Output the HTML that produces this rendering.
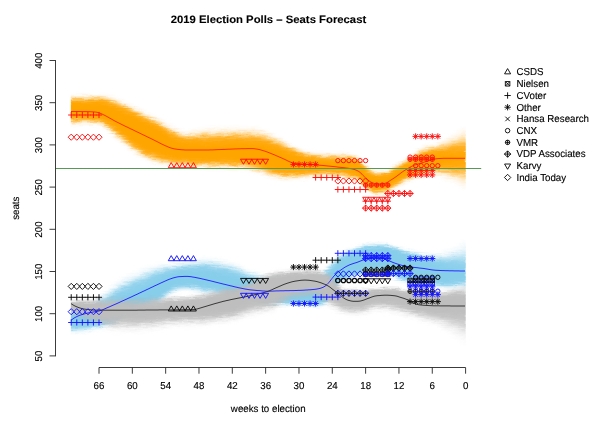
<!DOCTYPE html><html><head><meta charset="utf-8"><title>2019 Election Polls</title><style>html,body{margin:0;padding:0;background:#fff}svg{display:block}</style></head><body><svg width="600" height="430" viewBox="0 0 600 430" font-family="'Liberation Sans', Arial, Helvetica, sans-serif"><defs><filter id="bl" x="-5%" y="-20%" width="110%" height="140%" color-interpolation-filters="sRGB"><feGaussianBlur in="SourceGraphic" stdDeviation="0.8" result="b"/><feTurbulence type="fractalNoise" baseFrequency="0.1 0.6" numOctaves="2" seed="7" result="n"/><feDisplacementMap in="b" in2="n" scale="5" xChannelSelector="R" yChannelSelector="G"/></filter><clipPath id="cp"><rect x="70.8" y="40" width="395" height="320"/></clipPath></defs><rect width="600" height="430" fill="#fff"/><g clip-path="url(#cp)"><g filter="url(#bl)"><g fill="#87ceeb"><path d="M69 308.5L71 308.5L73 308.3L75 308L77 307.4L79 306.7L81 306L83 305.2L85 304.5L87 303.6L89 302.4L91 301.1L93 299.6L95 298.1L97 296.5L99 295L101 293.4L103 291.7L105 290L107 288.3L109 286.7L111 284.9L113 283.2L115 281.5L117 280.1L119 278.8L121 277.6L123 276.5L125 275.5L127 274.5L129 273.5L131 272.6L133 271.6L135 270.7L137 269.8L139 268.9L141 268L143 267.1L145 266.3L147 265.5L149 264.8L151 264.2L153 263.7L155 263.3L157 263L159 262.9L161 263L163 263L165 263L167 262.8L169 262.6L171 262.4L173 262.2L175 262L177 261.7L179 261.3L181 261L183 260.7L185 260.4L187 260.2L189 259.8L191 259.4L193 258.9L195 258.4L197 257.9L199 257.5L201 257.1L203 256.8L205 256.7L207 256.7L209 256.7L211 256.8L213 257L215 257.2L217 257.5L219 257.8L221 258.2L223 258.5L225 258.9L227 259.4L229 259.9L231 260.4L233 260.9L235 261.5L237 262.3L239 263.2L241 264.2L243 265.4L245 266.5L247 267.5L249 268.5L251 269.4L253 270.3L255 271.1L257 271.8L259 272.4L261 273L263 273.6L265 274.1L267 274.5L269 274.8L271 274.9L273 275L275 275L277 274.9L279 274.9L281 274.8L283 274.7L285 274.6L287 274.6L289 274.5L291 274.4L293 274.4L295 274.3L297 274.3L299 274.2L301 274.2L303 274.1L305 274L307 273.9L309 273.7L311 273.5L313 273.3L315 273L317 272.7L319 272L321 270.9L323 269.3L325 267.3L327 264.9L329 262.4L331 260L333 257.8L335 255.6L337 253.6L339 252L341 250.7L343 249.7L345 248.9L347 248.2L349 247.5L351 246.8L353 246.2L355 245.5L357 245L359 244.4L361 243.9L363 243.4L365 243L367 242.6L369 242.3L371 242.1L373 241.8L375 241.6L377 241.5L379 241.4L381 241.5L383 241.8L385 242.1L387 242.5L389 242.8L391 243.3L393 244L395 244.7L397 245.5L399 246.1L401 246.7L403 247.3L405 247.9L407 248.4L409 248.9L411 249.4L413 249.8L415 250.2L417 250.5L419 250.9L421 251.1L423 251.4L425 251.6L427 251.7L429 251.9L431 252L433 252L435 252L437 251.9L439 251.6L441 251.2L443 250.6L445 250L447 249.3L449 248.5L451 247.7L453 246.8L455 245.9L457 244.8L459 243.5L461 241.9L463 240.4L465 239.3L467 239.1L467 290.4L465 290.3L463 290L461 289.7L459 289.5L457 289.5L455 289.6L453 289.7L451 289.8L449 289.9L447 289.8L445 289.7L443 289.5L441 289.3L439 289L437 288.8L435 288.6L433 288.4L431 288.3L429 288.1L427 287.9L425 287.6L423 287.4L421 287.1L419 286.9L417 286.6L415 286.3L413 286.1L411 285.8L409 285.4L407 285L405 284.5L403 283.9L401 283.3L399 282.7L397 282L395 281.2L393 280.3L391 279.4L389 278.5L387 277.5L385 276.5L383 275.5L381 274.9L379 274.6L377 274.5L375 274.6L373 274.7L371 274.8L369 275.1L367 275.5L365 276L363 276.7L361 277.4L359 278.1L357 278.7L355 279.3L353 279.8L351 280.4L349 281.1L347 281.7L345 282.3L343 283L341 284.1L339 285.8L337 288.9L335 292.9L333 297.2L331 300.8L329 303.3L327 304.9L325 306L323 306.8L321 307.5L319 307.9L317 308L315 308L313 308L311 308L309 308L307 308L305 308L303 308L301 307.9L299 307.8L297 307.6L295 307.5L293 307.4L291 307.2L289 307.1L287 307L285 306.9L283 306.9L281 306.8L279 306.7L277 306.7L275 306.6L273 306.5L271 306.5L269 306.4L267 306.4L265 306.4L263 306.4L261 306.3L259 306.2L257 306.1L255 305.8L253 305.4L251 304.9L249 304.3L247 303.7L245 303.3L243 302.8L241 302.4L239 301.9L237 301.5L235 301L233 300.5L231 300L229 299.4L227 298.9L225 298.4L223 297.9L221 297.4L219 297L217 296.6L215 296.2L213 295.9L211 295.5L209 295.1L207 294.8L205 294.4L203 294.1L201 293.7L199 293.3L197 292.9L195 292.6L193 292.2L191 291.9L189 291.7L187 291.5L185 291.5L183 291.7L181 291.9L179 292.2L177 292.6L175 293.3L173 294.3L171 295.5L169 296.8L167 298.2L165 299.5L163 301.1L161 302.7L159 304.2L157 305.4L155 306.1L153 306.6L151 307L149 307.5L147 308L145 308.5L143 308.9L141 309.6L139 310.3L137 311.4L135 312.6L133 313.9L131 315.4L129 316.9L127 318.4L125 319.9L123 321.4L121 322.7L119 323.9L117 325L115 325.9L113 326.7L111 327.5L109 328.2L107 328.8L105 329.4L103 330L101 330.5L99 331L97 331.4L95 331.9L93 332.3L91 332.6L89 333L87 333.3L85 333.5L83 333.7L81 333.9L79 334.1L77 334.2L75 334.4L73 334.5L71 334.5L69 334.5Z" fill-opacity="0.03"/><path d="M69 309.2L71 309.2L73 309.1L75 308.7L77 308.2L79 307.5L81 306.8L83 306L85 305.2L87 304.3L89 303.3L91 302L93 300.6L95 299.1L97 297.6L99 296.2L101 294.7L103 293.1L105 291.6L107 290L109 288.4L111 286.8L113 285.1L115 283.4L117 282L119 280.8L121 279.6L123 278.5L125 277.5L127 276.5L129 275.6L131 274.6L133 273.7L135 272.8L137 271.9L139 271L141 270.1L143 269.2L145 268.4L147 267.6L149 266.8L151 266.2L153 265.7L155 265.2L157 264.8L159 264.6L161 264.5L163 264.5L165 264.3L167 264.1L169 263.9L171 263.6L173 263.4L175 263.1L177 262.8L179 262.4L181 262.1L183 261.8L185 261.5L187 261.3L189 261L191 260.6L193 260.2L195 259.7L197 259.3L199 258.9L201 258.5L203 258.3L205 258.2L207 258.2L209 258.3L211 258.4L213 258.6L215 258.9L217 259.1L219 259.5L221 259.8L223 260.2L225 260.6L227 261L229 261.5L231 262L233 262.6L235 263.2L237 263.9L239 264.8L241 265.8L243 266.9L245 268L247 269L249 269.9L251 270.8L253 271.6L255 272.4L257 273L259 273.5L261 274.1L263 274.6L265 275.1L267 275.4L269 275.7L271 275.8L273 275.9L275 275.9L277 275.8L279 275.8L281 275.7L283 275.6L285 275.5L287 275.5L289 275.4L291 275.3L293 275.3L295 275.2L297 275.2L299 275.1L301 275.1L303 275L305 274.9L307 274.8L309 274.6L311 274.4L313 274.2L315 273.9L317 273.6L319 272.9L321 271.8L323 270.3L325 268.4L327 266.1L329 263.6L331 261.2L333 258.9L335 256.7L337 254.7L339 253L341 251.7L343 250.7L345 249.9L347 249.1L349 248.4L351 247.7L353 247L355 246.3L357 245.7L359 245.2L361 244.6L363 244.2L365 243.8L367 243.4L369 243.1L371 242.8L373 242.6L375 242.4L377 242.2L379 242.2L381 242.3L383 242.5L385 242.8L387 243.1L389 243.5L391 244L393 244.7L395 245.4L397 246.2L399 246.8L401 247.4L403 248L405 248.6L407 249.1L409 249.6L411 250.1L413 250.6L415 251L417 251.4L419 251.7L421 252L423 252.3L425 252.6L427 252.8L429 253L431 253.1L433 253.2L435 253.2L437 253.2L439 253L441 252.7L443 252.2L445 251.7L447 251.2L449 250.6L451 249.9L453 249.1L455 248.3L457 247.4L459 246.3L461 245L463 243.7L465 242.8L467 242.6L467 289.2L465 289.1L463 288.9L461 288.6L459 288.5L457 288.5L455 288.7L453 288.8L451 288.9L449 289L447 289L445 288.9L443 288.7L441 288.5L439 288.2L437 288L435 287.8L433 287.6L431 287.4L429 287.2L427 287L425 286.8L423 286.5L421 286.2L419 286L417 285.7L415 285.4L413 285.2L411 284.9L409 284.5L407 284.1L405 283.6L403 283L401 282.4L399 281.8L397 281.1L395 280.3L393 279.4L391 278.5L389 277.6L387 276.6L385 275.6L383 274.6L381 274L379 273.7L377 273.6L375 273.7L373 273.8L371 274L369 274.3L367 274.7L365 275.3L363 276L361 276.7L359 277.4L357 278L355 278.5L353 279.1L351 279.7L349 280.3L347 280.9L345 281.5L343 282.3L341 283.3L339 285.1L337 288.1L335 292.2L333 296.5L331 300.1L329 302.6L327 304.2L325 305.4L323 306.2L321 306.9L319 307.3L317 307.4L315 307.4L313 307.4L311 307.4L309 307.4L307 307.4L305 307.4L303 307.4L301 307.3L299 307.2L297 307L295 306.9L293 306.7L291 306.6L289 306.4L287 306.3L285 306.3L283 306.2L281 306.1L279 306.1L277 306L275 305.9L273 305.9L271 305.8L269 305.7L267 305.7L265 305.7L263 305.6L261 305.6L259 305.5L257 305.3L255 305.1L253 304.7L251 304.1L249 303.5L247 303L245 302.5L243 302L241 301.5L239 301.1L237 300.6L235 300.1L233 299.6L231 299L229 298.5L227 297.9L225 297.4L223 296.9L221 296.5L219 296L217 295.6L215 295.3L213 294.9L211 294.5L209 294.2L207 293.9L205 293.5L203 293.2L201 292.8L199 292.5L197 292.1L195 291.7L193 291.3L191 291.1L189 290.8L187 290.7L185 290.7L183 290.8L181 291.1L179 291.3L177 291.8L175 292.5L173 293.4L171 294.6L169 295.9L167 297.3L165 298.6L163 300.2L161 301.9L159 303.4L157 304.6L155 305.3L153 305.8L151 306.3L149 306.8L147 307.2L145 307.7L143 308.2L141 308.8L139 309.6L137 310.6L135 311.8L133 313.1L131 314.6L129 316L127 317.6L125 319.1L123 320.5L121 321.8L119 323L117 324.1L115 325L113 325.8L111 326.6L109 327.3L107 327.9L105 328.5L103 329L101 329.5L99 330L97 330.4L95 330.9L93 331.3L91 331.6L89 331.9L87 332.2L85 332.4L83 332.6L81 332.8L79 333L77 333.2L75 333.3L73 333.4L71 333.4L69 333.4Z" fill-opacity="0.04"/><path d="M69 309.9L71 309.9L73 309.7L75 309.4L77 308.8L79 308.1L81 307.4L83 306.6L85 305.9L87 305L89 304L91 302.7L93 301.4L95 300L97 298.6L99 297.2L101 295.8L103 294.4L105 292.9L107 291.4L109 289.9L111 288.3L113 286.7L115 285.1L117 283.7L119 282.5L121 281.3L123 280.3L125 279.3L127 278.3L129 277.3L131 276.4L133 275.5L135 274.6L137 273.7L139 272.8L141 271.9L143 271L145 270.2L147 269.4L149 268.6L151 267.9L153 267.3L155 266.8L157 266.4L159 266.1L161 265.9L163 265.7L165 265.5L167 265.2L169 264.9L171 264.7L173 264.4L175 264.1L177 263.8L179 263.4L181 263.1L183 262.8L185 262.5L187 262.3L189 262L191 261.6L193 261.3L195 260.8L197 260.4L199 260.1L201 259.8L203 259.6L205 259.5L207 259.6L209 259.6L211 259.8L213 260L215 260.3L217 260.6L219 260.9L221 261.2L223 261.6L225 262L227 262.5L229 263L231 263.5L233 264L235 264.6L237 265.3L239 266.2L241 267.2L243 268.2L245 269.3L247 270.2L249 271.1L251 271.9L253 272.7L255 273.4L257 274L259 274.5L261 275L263 275.5L265 275.9L267 276.2L269 276.5L271 276.6L273 276.7L275 276.6L277 276.6L279 276.5L281 276.5L283 276.4L285 276.3L287 276.2L289 276.2L291 276.1L293 276.1L295 276L297 276L299 275.9L301 275.8L303 275.8L305 275.7L307 275.6L309 275.4L311 275.2L313 275L315 274.7L317 274.3L319 273.7L321 272.7L323 271.2L325 269.4L327 267.1L329 264.6L331 262.2L333 260L335 257.7L337 255.7L339 254L341 252.6L343 251.6L345 250.7L347 249.9L349 249.2L351 248.4L353 247.7L355 247L357 246.4L359 245.8L361 245.3L363 244.8L365 244.4L367 244L369 243.7L371 243.5L373 243.2L375 243L377 242.9L379 242.8L381 242.9L383 243.1L385 243.4L387 243.7L389 244.1L391 244.6L393 245.2L395 246L397 246.7L399 247.4L401 248L403 248.6L405 249.2L407 249.8L409 250.3L411 250.8L413 251.3L415 251.7L417 252.1L419 252.5L421 252.8L423 253.1L425 253.4L427 253.7L429 253.9L431 254.1L433 254.2L435 254.3L437 254.3L439 254.2L441 254L443 253.7L445 253.3L447 252.8L449 252.3L451 251.8L453 251.2L455 250.5L457 249.7L459 248.8L461 247.7L463 246.6L465 245.8L467 245.7L467 288.1L465 288.1L463 287.9L461 287.7L459 287.7L457 287.7L455 287.9L453 288L451 288.2L449 288.3L447 288.3L445 288.2L443 288L441 287.8L439 287.5L437 287.3L435 287.1L433 286.9L431 286.7L429 286.5L427 286.2L425 286L423 285.7L421 285.5L419 285.2L417 284.9L415 284.7L413 284.4L411 284.1L409 283.7L407 283.3L405 282.8L403 282.2L401 281.6L399 281L397 280.3L395 279.5L393 278.6L391 277.7L389 276.8L387 275.8L385 274.8L383 273.8L381 273.2L379 272.9L377 272.9L375 273L373 273.1L371 273.3L369 273.5L367 274L365 274.6L363 275.3L361 276L359 276.7L357 277.3L355 277.9L353 278.4L351 279L349 279.7L347 280.3L345 280.9L343 281.6L341 282.7L339 284.4L337 287.5L335 291.5L333 295.8L331 299.4L329 301.9L327 303.7L325 304.9L323 305.7L321 306.4L319 306.7L317 306.9L315 306.9L313 306.9L311 306.9L309 306.9L307 306.9L305 306.9L303 306.8L301 306.7L299 306.6L297 306.5L295 306.3L293 306.1L291 306L289 305.8L287 305.8L285 305.7L283 305.6L281 305.5L279 305.5L277 305.4L275 305.4L273 305.3L271 305.2L269 305.1L267 305.1L265 305.1L263 305L261 304.9L259 304.8L257 304.7L255 304.4L253 304L251 303.5L249 302.9L247 302.3L245 301.8L243 301.3L241 300.8L239 300.3L237 299.8L235 299.3L233 298.8L231 298.2L229 297.7L227 297.1L225 296.6L223 296.1L221 295.6L219 295.2L217 294.8L215 294.4L213 294.1L211 293.7L209 293.4L207 293.1L205 292.7L203 292.4L201 292.1L199 291.7L197 291.3L195 291L193 290.6L191 290.3L189 290.1L187 290L185 290L183 290.1L181 290.3L179 290.6L177 291L175 291.7L173 292.7L171 293.8L169 295.1L167 296.5L165 297.9L163 299.4L161 301.1L159 302.7L157 303.8L155 304.6L153 305.1L151 305.6L149 306.1L147 306.6L145 307.1L143 307.5L141 308.2L139 308.9L137 309.9L135 311.1L133 312.4L131 313.9L129 315.3L127 316.8L125 318.3L123 319.7L121 321.1L119 322.3L117 323.3L115 324.2L113 325L111 325.8L109 326.5L107 327.1L105 327.7L103 328.2L101 328.7L99 329.2L97 329.6L95 330L93 330.4L91 330.7L89 331L87 331.3L85 331.5L83 331.7L81 331.9L79 332.1L77 332.3L75 332.4L73 332.5L71 332.5L69 332.5Z" fill-opacity="0.06"/><path d="M69 310.5L71 310.5L73 310.3L75 310L77 309.4L79 308.7L81 308L83 307.2L85 306.5L87 305.6L89 304.6L91 303.4L93 302.2L95 300.8L97 299.5L99 298.2L101 296.9L103 295.5L105 294.2L107 292.8L109 291.3L111 289.8L113 288.2L115 286.6L117 285.2L119 284L121 282.9L123 281.9L125 280.9L127 279.9L129 279L131 278.1L133 277.2L135 276.3L137 275.4L139 274.5L141 273.6L143 272.7L145 271.8L147 271L149 270.2L151 269.5L153 268.9L155 268.3L157 267.8L159 267.4L161 267.1L163 266.9L165 266.6L167 266.3L169 265.9L171 265.6L173 265.3L175 265L177 264.7L179 264.3L181 264L183 263.7L185 263.4L187 263.2L189 262.9L191 262.6L193 262.2L195 261.9L197 261.5L199 261.2L201 261L203 260.8L205 260.8L207 260.8L209 260.9L211 261.1L213 261.3L215 261.6L217 261.9L219 262.2L221 262.6L223 262.9L225 263.3L227 263.8L229 264.3L231 264.8L233 265.3L235 265.9L237 266.6L239 267.5L241 268.5L243 269.5L245 270.5L247 271.4L249 272.2L251 273L253 273.7L255 274.4L257 274.9L259 275.4L261 275.9L263 276.3L265 276.7L267 277L269 277.2L271 277.4L273 277.4L275 277.4L277 277.3L279 277.3L281 277.2L283 277.1L285 277L287 277L289 276.9L291 276.8L293 276.8L295 276.7L297 276.7L299 276.6L301 276.6L303 276.5L305 276.4L307 276.3L309 276.1L311 275.9L313 275.7L315 275.4L317 275.1L319 274.5L321 273.4L323 272L325 270.2L327 268L329 265.5L331 263.2L333 260.9L335 258.6L337 256.6L339 254.8L341 253.5L343 252.4L345 251.5L347 250.7L349 249.9L351 249.1L353 248.4L355 247.7L357 247L359 246.4L361 245.9L363 245.4L365 245L367 244.6L369 244.3L371 244.1L373 243.8L375 243.6L377 243.5L379 243.4L381 243.5L383 243.7L385 244L387 244.3L389 244.6L391 245.1L393 245.8L395 246.5L397 247.3L399 247.9L401 248.6L403 249.2L405 249.8L407 250.3L409 250.9L411 251.4L413 251.9L415 252.4L417 252.8L419 253.2L421 253.6L423 253.9L425 254.2L427 254.5L429 254.8L431 255L433 255.1L435 255.3L437 255.4L439 255.3L441 255.2L443 255L445 254.7L447 254.3L449 253.9L451 253.5L453 253L455 252.5L457 251.8L459 251.1L461 250.2L463 249.3L465 248.6L467 248.5L467 287.2L465 287.1L463 287L461 286.9L459 286.9L457 287L455 287.1L453 287.3L451 287.5L449 287.6L447 287.6L445 287.5L443 287.4L441 287.2L439 286.9L437 286.6L435 286.4L433 286.2L431 286L429 285.8L427 285.5L425 285.3L423 285L421 284.7L419 284.5L417 284.2L415 283.9L413 283.7L411 283.4L409 283L407 282.6L405 282.1L403 281.5L401 280.9L399 280.3L397 279.6L395 278.8L393 277.9L391 277L389 276.1L387 275.1L385 274.1L383 273.1L381 272.5L379 272.2L377 272.2L375 272.3L373 272.4L371 272.6L369 272.9L367 273.3L365 274L363 274.7L361 275.4L359 276.1L357 276.7L355 277.3L353 277.8L351 278.4L349 279.1L347 279.7L345 280.3L343 281L341 282.1L339 283.8L337 286.9L335 290.9L333 295.2L331 298.8L329 301.4L327 303.1L325 304.4L323 305.2L321 305.9L319 306.3L317 306.4L315 306.4L313 306.4L311 306.4L309 306.4L307 306.4L305 306.4L303 306.3L301 306.3L299 306.1L297 305.9L295 305.8L293 305.6L291 305.4L289 305.3L287 305.2L285 305.1L283 305.1L281 305L279 304.9L277 304.9L275 304.8L273 304.7L271 304.7L269 304.6L267 304.5L265 304.5L263 304.4L261 304.4L259 304.2L257 304.1L255 303.8L253 303.4L251 302.9L249 302.3L247 301.7L245 301.2L243 300.7L241 300.2L239 299.6L237 299.1L235 298.6L233 298L231 297.5L229 296.9L227 296.4L225 295.8L223 295.3L221 294.8L219 294.4L217 294L215 293.7L213 293.3L211 293L209 292.6L207 292.3L205 292L203 291.7L201 291.4L199 291L197 290.6L195 290.3L193 289.9L191 289.7L189 289.5L187 289.3L185 289.3L183 289.5L181 289.7L179 290L177 290.4L175 291.1L173 292L171 293.2L169 294.4L167 295.8L165 297.2L163 298.7L161 300.4L159 302L157 303.2L155 304L153 304.5L151 305L149 305.5L147 306L145 306.5L143 306.9L141 307.6L139 308.3L137 309.3L135 310.5L133 311.8L131 313.2L129 314.7L127 316.2L125 317.6L123 319L121 320.4L119 321.5L117 322.6L115 323.5L113 324.3L111 325.1L109 325.8L107 326.4L105 326.9L103 327.5L101 327.9L99 328.4L97 328.8L95 329.2L93 329.6L91 329.9L89 330.2L87 330.5L85 330.7L83 330.9L81 331.1L79 331.3L77 331.4L75 331.6L73 331.7L71 331.7L69 331.7Z" fill-opacity="0.1"/><path d="M69 311L71 311L73 310.8L75 310.5L77 309.9L79 309.2L81 308.5L83 307.7L85 307L87 306.1L89 305.1L91 304L93 302.8L95 301.5L97 300.2L99 299L101 297.8L103 296.5L105 295.2L107 293.9L109 292.5L111 291L113 289.4L115 287.9L117 286.5L119 285.4L121 284.3L123 283.2L125 282.2L127 281.3L129 280.4L131 279.4L133 278.6L135 277.7L137 276.8L139 275.9L141 275L143 274.1L145 273.2L147 272.4L149 271.6L151 270.8L153 270.2L155 269.6L157 269L159 268.6L161 268.2L163 267.8L165 267.5L167 267.1L169 266.8L171 266.4L173 266.1L175 265.8L177 265.4L179 265.1L181 264.7L183 264.4L185 264.2L187 263.9L189 263.7L191 263.4L193 263.1L195 262.8L197 262.4L199 262.2L201 262L203 261.8L205 261.8L207 261.8L209 262L211 262.2L213 262.4L215 262.7L217 263L219 263.3L221 263.7L223 264L225 264.4L227 264.9L229 265.4L231 265.9L233 266.4L235 267L237 267.7L239 268.6L241 269.5L243 270.5L245 271.4L247 272.3L249 273.1L251 273.9L253 274.6L255 275.2L257 275.7L259 276.2L261 276.6L263 277L265 277.3L267 277.6L269 277.8L271 278L273 278L275 278L277 277.9L279 277.9L281 277.8L283 277.7L285 277.6L287 277.6L289 277.5L291 277.4L293 277.4L295 277.3L297 277.3L299 277.2L301 277.2L303 277.1L305 277L307 276.9L309 276.7L311 276.5L313 276.3L315 276L317 275.7L319 275.1L321 274.1L323 272.7L325 270.9L327 268.7L329 266.3L331 264L333 261.7L335 259.4L337 257.3L339 255.5L341 254.1L343 253.1L345 252.1L347 251.3L349 250.5L351 249.7L353 248.9L355 248.2L357 247.5L359 246.9L361 246.4L363 245.9L365 245.5L367 245.1L369 244.8L371 244.6L373 244.3L375 244.1L377 244L379 243.9L381 244L383 244.2L385 244.4L387 244.7L389 245.1L391 245.6L393 246.2L395 247L397 247.7L399 248.4L401 249L403 249.6L405 250.2L407 250.8L409 251.4L411 251.9L413 252.4L415 252.9L417 253.4L419 253.8L421 254.2L423 254.5L425 254.9L427 255.2L429 255.5L431 255.7L433 255.9L435 256.1L437 256.2L439 256.3L441 256.2L443 256L445 255.8L447 255.6L449 255.3L451 254.9L453 254.5L455 254.1L457 253.6L459 253L461 252.3L463 251.5L465 251L467 250.9L467 286.3L465 286.3L463 286.3L461 286.2L459 286.2L457 286.3L455 286.5L453 286.7L451 286.9L449 287L447 287L445 287L443 286.8L441 286.6L439 286.4L437 286.1L435 285.9L433 285.7L431 285.4L429 285.2L427 285L425 284.7L423 284.4L421 284.1L419 283.9L417 283.6L415 283.3L413 283.1L411 282.8L409 282.4L407 282L405 281.5L403 280.9L401 280.3L399 279.7L397 279L395 278.2L393 277.3L391 276.4L389 275.5L387 274.5L385 273.5L383 272.5L381 271.9L379 271.6L377 271.6L375 271.7L373 271.8L371 272L369 272.3L367 272.8L365 273.4L363 274.2L361 274.9L359 275.6L357 276.2L355 276.8L353 277.3L351 277.9L349 278.6L347 279.2L345 279.8L343 280.5L341 281.6L339 283.3L337 286.4L335 290.4L333 294.7L331 298.3L329 300.9L327 302.7L325 303.9L323 304.8L321 305.5L319 305.9L317 306L315 306L313 306L311 306L309 306L307 306L305 306L303 305.9L301 305.8L299 305.7L297 305.5L295 305.3L293 305.1L291 305L289 304.9L287 304.8L285 304.7L283 304.6L281 304.6L279 304.5L277 304.4L275 304.4L273 304.3L271 304.2L269 304.1L267 304.1L265 304L263 304L261 303.9L259 303.7L257 303.6L255 303.3L253 302.9L251 302.4L249 301.8L247 301.2L245 300.7L243 300.1L241 299.6L239 299.1L237 298.5L235 298L233 297.4L231 296.9L229 296.3L227 295.7L225 295.2L223 294.7L221 294.2L219 293.8L217 293.4L215 293L213 292.7L211 292.3L209 292L207 291.7L205 291.4L203 291.1L201 290.8L199 290.4L197 290.1L195 289.7L193 289.4L191 289.1L189 288.9L187 288.8L185 288.8L183 288.9L181 289.1L179 289.4L177 289.8L175 290.5L173 291.4L171 292.6L169 293.8L167 295.2L165 296.6L163 298.1L161 299.8L159 301.4L157 302.6L155 303.4L153 304L151 304.5L149 305L147 305.5L145 306L143 306.4L141 307.1L139 307.8L137 308.8L135 310L133 311.3L131 312.7L129 314.1L127 315.6L125 317.1L123 318.5L121 319.8L119 320.9L117 322L115 322.9L113 323.7L111 324.5L109 325.2L107 325.8L105 326.3L103 326.8L101 327.3L99 327.7L97 328.1L95 328.5L93 328.9L91 329.2L89 329.5L87 329.8L85 330L83 330.2L81 330.4L79 330.6L77 330.7L75 330.9L73 331L71 331L69 331Z" fill-opacity="0.14"/><path d="M69 311.5L71 311.5L73 311.3L75 311L77 310.4L79 309.7L81 309L83 308.2L85 307.5L87 306.6L89 305.7L91 304.6L93 303.4L95 302.2L97 301L99 299.8L101 298.6L103 297.5L105 296.3L107 295L109 293.7L111 292.2L113 290.7L115 289.2L117 287.8L119 286.7L121 285.6L123 284.6L125 283.6L127 282.6L129 281.7L131 280.8L133 279.9L135 279.1L137 278.2L139 277.3L141 276.4L143 275.5L145 274.6L147 273.7L149 272.9L151 272.2L153 271.5L155 270.8L157 270.2L159 269.7L161 269.2L163 268.8L165 268.4L167 268L169 267.6L171 267.2L173 266.9L175 266.5L177 266.2L179 265.8L181 265.5L183 265.2L185 264.9L187 264.7L189 264.5L191 264.2L193 263.9L195 263.6L197 263.3L199 263.1L201 262.9L203 262.8L205 262.8L207 262.9L209 263L211 263.2L213 263.5L215 263.8L217 264.1L219 264.4L221 264.8L223 265.1L225 265.5L227 266L229 266.5L231 267L233 267.5L235 268.1L237 268.8L239 269.6L241 270.6L243 271.5L245 272.4L247 273.3L249 274.1L251 274.8L253 275.5L255 276L257 276.5L259 276.9L261 277.3L263 277.7L265 278L267 278.3L269 278.5L271 278.6L273 278.6L275 278.6L277 278.5L279 278.5L281 278.4L283 278.3L285 278.2L287 278.2L289 278.1L291 278L293 278L295 277.9L297 277.9L299 277.8L301 277.8L303 277.7L305 277.6L307 277.5L309 277.3L311 277.1L313 276.9L315 276.6L317 276.3L319 275.7L321 274.7L323 273.4L325 271.7L327 269.5L329 267.1L331 264.8L333 262.5L335 260.2L337 258L339 256.2L341 254.8L343 253.7L345 252.8L347 251.9L349 251.1L351 250.3L353 249.5L355 248.7L357 248L359 247.4L361 246.9L363 246.4L365 246L367 245.6L369 245.3L371 245.1L373 244.8L375 244.6L377 244.5L379 244.4L381 244.5L383 244.7L385 244.9L387 245.2L389 245.5L391 246L393 246.7L395 247.4L397 248.2L399 248.9L401 249.5L403 250.1L405 250.7L407 251.3L409 251.9L411 252.4L413 253L415 253.5L417 253.9L419 254.4L421 254.8L423 255.2L425 255.5L427 255.9L429 256.2L431 256.5L433 256.7L435 256.9L437 257.1L439 257.2L441 257.2L443 257.1L445 257L447 256.8L449 256.6L451 256.4L453 256.1L455 255.8L457 255.4L459 254.9L461 254.3L463 253.8L465 253.3L467 253.3L467 285.5L465 285.5L463 285.5L461 285.5L459 285.6L457 285.7L455 285.9L453 286.1L451 286.3L449 286.4L447 286.5L445 286.4L443 286.3L441 286.1L439 285.8L437 285.6L435 285.3L433 285.1L431 284.9L429 284.6L427 284.4L425 284.1L423 283.8L421 283.5L419 283.3L417 283L415 282.7L413 282.5L411 282.2L409 281.8L407 281.4L405 280.9L403 280.3L401 279.7L399 279.1L397 278.4L395 277.6L393 276.7L391 275.8L389 274.9L387 273.9L385 272.9L383 271.9L381 271.3L379 271L377 271L375 271.1L373 271.3L371 271.5L369 271.8L367 272.3L365 272.9L363 273.7L361 274.4L359 275.1L357 275.7L355 276.3L353 276.8L351 277.4L349 278.1L347 278.7L345 279.3L343 280L341 281.1L339 282.8L337 285.9L335 289.9L333 294.2L331 297.8L329 300.4L327 302.2L325 303.5L323 304.4L321 305.1L319 305.5L317 305.6L315 305.6L313 305.6L311 305.6L309 305.6L307 305.6L305 305.6L303 305.5L301 305.4L299 305.3L297 305.1L295 304.9L293 304.7L291 304.5L289 304.4L287 304.3L285 304.2L283 304.2L281 304.1L279 304L277 304L275 303.9L273 303.8L271 303.8L269 303.7L267 303.6L265 303.6L263 303.5L261 303.4L259 303.3L257 303.1L255 302.8L253 302.4L251 301.9L249 301.3L247 300.7L245 300.2L243 299.6L241 299.1L239 298.5L237 298L235 297.4L233 296.8L231 296.3L229 295.7L227 295.1L225 294.5L223 294L221 293.5L219 293.1L217 292.7L215 292.4L213 292L211 291.7L209 291.4L207 291.1L205 290.8L203 290.5L201 290.2L199 289.8L197 289.5L195 289.1L193 288.8L191 288.5L189 288.3L187 288.2L185 288.2L183 288.4L181 288.6L179 288.9L177 289.3L175 289.9L173 290.9L171 292L169 293.3L167 294.6L165 296L163 297.5L161 299.2L159 300.9L157 302.1L155 302.9L153 303.5L151 304L149 304.5L147 305L145 305.5L143 305.9L141 306.5L139 307.3L137 308.3L135 309.5L133 310.7L131 312.1L129 313.6L127 315L125 316.5L123 317.9L121 319.2L119 320.3L117 321.4L115 322.3L113 323.1L111 323.9L109 324.6L107 325.2L105 325.7L103 326.2L101 326.7L99 327.1L97 327.5L95 327.9L93 328.2L91 328.5L89 328.8L87 329.1L85 329.3L83 329.5L81 329.7L79 329.9L77 330L75 330.2L73 330.3L71 330.3L69 330.3Z" fill-opacity="0.18"/><path d="M69 312L71 312L73 311.8L75 311.5L77 310.9L79 310.2L81 309.5L83 308.7L85 308L87 307.2L89 306.2L91 305.2L93 304L95 302.9L97 301.7L99 300.6L101 299.5L103 298.4L105 297.3L107 296.1L109 294.9L111 293.4L113 291.9L115 290.5L117 289.1L119 288L121 286.9L123 285.9L125 284.9L127 284L129 283.1L131 282.2L133 281.3L135 280.5L137 279.6L139 278.7L141 277.8L143 276.9L145 276L147 275.1L149 274.3L151 273.5L153 272.7L155 272.1L157 271.4L159 270.8L161 270.3L163 269.8L165 269.3L167 268.9L169 268.4L171 268L173 267.7L175 267.3L177 266.9L179 266.6L181 266.2L183 265.9L185 265.7L187 265.4L189 265.2L191 265L193 264.7L195 264.5L197 264.3L199 264.1L201 263.9L203 263.8L205 263.8L207 263.9L209 264.1L211 264.3L213 264.6L215 264.9L217 265.2L219 265.5L221 265.9L223 266.2L225 266.6L227 267.1L229 267.6L231 268.1L233 268.6L235 269.2L237 269.9L239 270.7L241 271.6L243 272.5L245 273.4L247 274.3L249 275L251 275.7L253 276.3L255 276.9L257 277.3L259 277.7L261 278L263 278.4L265 278.7L267 278.9L269 279.1L271 279.2L273 279.2L275 279.2L277 279.1L279 279.1L281 279L283 278.9L285 278.8L287 278.8L289 278.7L291 278.6L293 278.6L295 278.5L297 278.5L299 278.4L301 278.4L303 278.3L305 278.2L307 278.1L309 277.9L311 277.7L313 277.5L315 277.2L317 276.9L319 276.3L321 275.4L323 274.1L325 272.4L327 270.3L329 267.9L331 265.6L333 263.2L335 260.9L337 258.8L339 257L341 255.5L343 254.4L345 253.4L347 252.5L349 251.7L351 250.9L353 250L355 249.3L357 248.6L359 247.9L361 247.4L363 246.9L365 246.5L367 246.1L369 245.8L371 245.6L373 245.3L375 245.1L377 245L379 244.9L381 245L383 245.1L385 245.4L387 245.7L389 246L391 246.5L393 247.1L395 247.9L397 248.6L399 249.3L401 249.9L403 250.6L405 251.2L407 251.8L409 252.4L411 252.9L413 253.5L415 254L417 254.5L419 255L421 255.4L423 255.8L425 256.2L427 256.6L429 256.9L431 257.2L433 257.5L435 257.7L437 258L439 258.1L441 258.2L443 258.2L445 258.2L447 258.1L449 258L451 257.8L453 257.6L455 257.4L457 257.2L459 256.8L461 256.4L463 256L465 255.7L467 255.6L467 284.7L465 284.7L463 284.7L461 284.8L459 284.9L457 285.1L455 285.3L453 285.5L451 285.7L449 285.9L447 285.9L445 285.9L443 285.8L441 285.6L439 285.3L437 285L435 284.8L433 284.6L431 284.3L429 284.1L427 283.8L425 283.5L423 283.2L421 282.9L419 282.7L417 282.4L415 282.1L413 281.9L411 281.6L409 281.2L407 280.8L405 280.3L403 279.7L401 279.1L399 278.5L397 277.8L395 277L393 276.1L391 275.2L389 274.3L387 273.3L385 272.3L383 271.3L381 270.7L379 270.4L377 270.4L375 270.5L373 270.7L371 270.9L369 271.2L367 271.7L365 272.4L363 273.1L361 273.9L359 274.6L357 275.2L355 275.8L353 276.3L351 276.9L349 277.6L347 278.2L345 278.8L343 279.5L341 280.6L339 282.3L337 285.4L335 289.4L333 293.7L331 297.3L329 299.9L327 301.8L325 303.1L323 304L321 304.7L319 305.1L317 305.2L315 305.2L313 305.2L311 305.2L309 305.2L307 305.2L305 305.2L303 305.1L301 305L299 304.9L297 304.7L295 304.5L293 304.3L291 304.1L289 304L287 303.9L285 303.8L283 303.7L281 303.7L279 303.6L277 303.5L275 303.5L273 303.4L271 303.3L269 303.2L267 303.2L265 303.1L263 303L261 302.9L259 302.8L257 302.6L255 302.3L253 301.9L251 301.4L249 300.8L247 300.2L245 299.7L243 299.1L241 298.5L239 297.9L237 297.4L235 296.8L233 296.2L231 295.6L229 295L227 294.5L225 293.9L223 293.4L221 292.9L219 292.5L217 292.1L215 291.7L213 291.4L211 291.1L209 290.8L207 290.5L205 290.2L203 289.9L201 289.6L199 289.2L197 288.9L195 288.6L193 288.2L191 288L189 287.8L187 287.7L185 287.7L183 287.8L181 288L179 288.3L177 288.7L175 289.4L173 290.3L171 291.4L169 292.7L167 294L165 295.4L163 296.9L161 298.7L159 300.3L157 301.5L155 302.4L153 303L151 303.5L149 304L147 304.5L145 305L143 305.4L141 306L139 306.8L137 307.8L135 308.9L133 310.2L131 311.6L129 313L127 314.5L125 315.9L123 317.3L121 318.6L119 319.7L117 320.8L115 321.7L113 322.5L111 323.3L109 324L107 324.6L105 325.1L103 325.6L101 326L99 326.4L97 326.8L95 327.2L93 327.5L91 327.8L89 328.1L87 328.4L85 328.6L83 328.8L81 329L79 329.2L77 329.3L75 329.5L73 329.6L71 329.6L69 329.6Z" fill-opacity="0.24"/><path d="M69 312.5L71 312.5L73 312.3L75 312L77 311.4L79 310.7L81 310L83 309.2L85 308.5L87 307.7L89 306.8L91 305.7L93 304.7L95 303.6L97 302.5L99 301.4L101 300.4L103 299.4L105 298.3L107 297.2L109 296L111 294.6L113 293.2L115 291.7L117 290.4L119 289.3L121 288.2L123 287.2L125 286.3L127 285.4L129 284.5L131 283.6L133 282.7L135 281.9L137 281L139 280.1L141 279.2L143 278.3L145 277.4L147 276.5L149 275.6L151 274.8L153 274L155 273.3L157 272.6L159 271.9L161 271.3L163 270.7L165 270.2L167 269.7L169 269.3L171 268.8L173 268.4L175 268.1L177 267.7L179 267.3L181 267L183 266.7L185 266.4L187 266.2L189 266L191 265.8L193 265.6L195 265.4L197 265.2L199 265L201 264.9L203 264.8L205 264.8L207 264.9L209 265.1L211 265.4L213 265.6L215 265.9L217 266.3L219 266.6L221 267L223 267.3L225 267.7L227 268.2L229 268.7L231 269.2L233 269.7L235 270.3L237 271L239 271.8L241 272.7L243 273.6L245 274.4L247 275.2L249 275.9L251 276.6L253 277.2L255 277.7L257 278.1L259 278.4L261 278.7L263 279L265 279.3L267 279.5L269 279.7L271 279.8L273 279.8L275 279.8L277 279.7L279 279.7L281 279.6L283 279.5L285 279.4L287 279.4L289 279.3L291 279.2L293 279.2L295 279.1L297 279.1L299 279L301 279L303 278.9L305 278.8L307 278.7L309 278.5L311 278.3L313 278.1L315 277.8L317 277.5L319 276.9L321 276L323 274.7L325 273.1L327 271L329 268.7L331 266.4L333 264L335 261.7L337 259.5L339 257.7L341 256.2L343 255.1L345 254.1L347 253.2L349 252.3L351 251.5L353 250.6L355 249.8L357 249.1L359 248.4L361 247.9L363 247.4L365 247L367 246.6L369 246.3L371 246.1L373 245.8L375 245.6L377 245.5L379 245.4L381 245.5L383 245.6L385 245.8L387 246.1L389 246.4L391 246.9L393 247.6L395 248.3L397 249.1L399 249.8L401 250.4L403 251L405 251.7L407 252.3L409 252.9L411 253.5L413 254L415 254.6L417 255.1L419 255.6L421 256L423 256.5L425 256.9L427 257.3L429 257.6L431 258L433 258.3L435 258.6L437 258.8L439 259L441 259.2L443 259.3L445 259.4L447 259.4L449 259.3L451 259.3L453 259.2L455 259.1L457 258.9L459 258.7L461 258.5L463 258.2L465 258L467 258L467 283.9L465 283.9L463 284L461 284.1L459 284.3L457 284.5L455 284.7L453 284.9L451 285.1L449 285.3L447 285.4L445 285.4L443 285.2L441 285L439 284.8L437 284.5L435 284.2L433 284L431 283.8L429 283.5L427 283.2L425 282.9L423 282.6L421 282.3L419 282.1L417 281.8L415 281.5L413 281.3L411 281L409 280.6L407 280.2L405 279.7L403 279.1L401 278.5L399 277.9L397 277.2L395 276.4L393 275.5L391 274.6L389 273.7L387 272.7L385 271.7L383 270.7L381 270.1L379 269.8L377 269.8L375 269.9L373 270.1L371 270.4L369 270.7L367 271.2L365 271.9L363 272.6L361 273.4L359 274.1L357 274.7L355 275.3L353 275.8L351 276.4L349 277.1L347 277.7L345 278.3L343 279L341 280.1L339 281.8L337 284.9L335 288.9L333 293.2L331 296.8L329 299.4L327 301.3L325 302.7L323 303.6L321 304.3L319 304.7L317 304.8L315 304.8L313 304.8L311 304.8L309 304.8L307 304.8L305 304.8L303 304.7L301 304.6L299 304.5L297 304.2L295 304L293 303.8L291 303.6L289 303.5L287 303.4L285 303.3L283 303.3L281 303.2L279 303.1L277 303.1L275 303L273 302.9L271 302.9L269 302.8L267 302.7L265 302.6L263 302.5L261 302.4L259 302.3L257 302.1L255 301.8L253 301.4L251 300.9L249 300.3L247 299.7L245 299.1L243 298.6L241 298L239 297.4L237 296.8L235 296.2L233 295.6L231 295L229 294.4L227 293.8L225 293.3L223 292.7L221 292.2L219 291.8L217 291.4L215 291.1L213 290.8L211 290.4L209 290.2L207 289.9L205 289.6L203 289.3L201 289L199 288.7L197 288.3L195 288L193 287.7L191 287.4L189 287.2L187 287.1L185 287.1L183 287.3L181 287.5L179 287.8L177 288.2L175 288.8L173 289.7L171 290.8L169 292.1L167 293.4L165 294.8L163 296.3L161 298.1L159 299.7L157 301L155 301.8L153 302.4L151 303L149 303.5L147 304L145 304.5L143 304.9L141 305.5L139 306.3L137 307.3L135 308.4L133 309.7L131 311.1L129 312.5L127 313.9L125 315.3L123 316.7L121 318L119 319.2L117 320.2L115 321.1L113 321.9L111 322.7L109 323.4L107 324L105 324.5L103 325L101 325.4L99 325.8L97 326.2L95 326.5L93 326.8L91 327.2L89 327.4L87 327.7L85 327.9L83 328.1L81 328.3L79 328.5L77 328.6L75 328.8L73 328.9L71 328.9L69 328.9Z" fill-opacity="0.31"/><path d="M69 313L71 313L73 312.8L75 312.5L77 311.9L79 311.2L81 310.5L83 309.7L85 309L87 308.2L89 307.3L91 306.3L93 305.3L95 304.2L97 303.2L99 302.2L101 301.3L103 300.3L105 299.4L107 298.4L109 297.2L111 295.9L113 294.4L115 293L117 291.7L119 290.6L121 289.6L123 288.6L125 287.6L127 286.7L129 285.8L131 285L133 284.1L135 283.3L137 282.4L139 281.5L141 280.6L143 279.7L145 278.7L147 277.8L149 277L151 276.1L153 275.3L155 274.6L157 273.8L159 273.1L161 272.4L163 271.7L165 271.1L167 270.6L169 270.1L171 269.6L173 269.2L175 268.8L177 268.4L179 268.1L181 267.7L183 267.4L185 267.2L187 267L189 266.8L191 266.6L193 266.4L195 266.2L197 266.1L199 265.9L201 265.9L203 265.8L205 265.9L207 266L209 266.2L211 266.4L213 266.7L215 267L217 267.4L219 267.7L221 268.1L223 268.4L225 268.8L227 269.3L229 269.8L231 270.3L233 270.8L235 271.4L237 272.1L239 272.9L241 273.7L243 274.6L245 275.4L247 276.2L249 276.9L251 277.5L253 278L255 278.5L257 278.9L259 279.2L261 279.5L263 279.7L265 280L267 280.2L269 280.3L271 280.4L273 280.4L275 280.4L277 280.3L279 280.3L281 280.2L283 280.1L285 280L287 280L289 279.9L291 279.8L293 279.8L295 279.7L297 279.7L299 279.6L301 279.6L303 279.5L305 279.4L307 279.3L309 279.1L311 278.9L313 278.7L315 278.4L317 278.1L319 277.5L321 276.6L323 275.4L325 273.8L327 271.8L329 269.5L331 267.2L333 264.8L335 262.5L337 260.3L339 258.4L341 256.9L343 255.7L345 254.7L347 253.8L349 252.9L351 252L353 251.2L355 250.3L357 249.6L359 248.9L361 248.4L363 247.9L365 247.5L367 247.1L369 246.8L371 246.6L373 246.3L375 246.1L377 246L379 245.9L381 246L383 246.1L385 246.3L387 246.6L389 246.9L391 247.4L393 248L395 248.8L397 249.5L399 250.2L401 250.9L403 251.5L405 252.1L407 252.8L409 253.4L411 254L413 254.5L415 255.1L417 255.6L419 256.2L421 256.6L423 257.1L425 257.5L427 258L429 258.3L431 258.7L433 259.1L435 259.4L437 259.7L439 260L441 260.2L443 260.4L445 260.5L447 260.6L449 260.7L451 260.7L453 260.7L455 260.7L457 260.7L459 260.6L461 260.5L463 260.4L465 260.4L467 260.3L467 283.1L465 283.1L463 283.2L461 283.4L459 283.6L457 283.8L455 284.1L453 284.3L451 284.5L449 284.7L447 284.8L445 284.8L443 284.7L441 284.5L439 284.2L437 284L435 283.7L433 283.5L431 283.2L429 282.9L427 282.6L425 282.3L423 282L421 281.7L419 281.5L417 281.2L415 280.9L413 280.7L411 280.4L409 280L407 279.6L405 279.1L403 278.5L401 277.9L399 277.3L397 276.6L395 275.8L393 274.9L391 274L389 273.1L387 272.1L385 271.1L383 270.1L381 269.5L379 269.2L377 269.2L375 269.3L373 269.5L371 269.8L369 270.1L367 270.7L365 271.3L363 272.1L361 272.9L359 273.6L357 274.2L355 274.8L353 275.3L351 275.9L349 276.6L347 277.2L345 277.8L343 278.5L341 279.6L339 281.3L337 284.4L335 288.4L333 292.7L331 296.3L329 299L327 300.9L325 302.3L323 303.2L321 303.9L319 304.3L317 304.4L315 304.4L313 304.4L311 304.4L309 304.4L307 304.4L305 304.4L303 304.3L301 304.2L299 304L297 303.8L295 303.6L293 303.4L291 303.2L289 303.1L287 303L285 302.9L283 302.8L281 302.8L279 302.7L277 302.6L275 302.6L273 302.5L271 302.4L269 302.3L267 302.2L265 302.1L263 302L261 301.9L259 301.8L257 301.6L255 301.3L253 300.9L251 300.4L249 299.8L247 299.2L245 298.6L243 298L241 297.4L239 296.8L237 296.2L235 295.6L233 295L231 294.4L229 293.8L227 293.2L225 292.6L223 292.1L221 291.6L219 291.2L217 290.8L215 290.4L213 290.1L211 289.8L209 289.5L207 289.2L205 289L203 288.7L201 288.4L199 288.1L197 287.7L195 287.4L193 287.1L191 286.9L189 286.7L187 286.6L185 286.6L183 286.7L181 286.9L179 287.2L177 287.6L175 288.3L173 289.2L171 290.3L169 291.5L167 292.8L165 294.2L163 295.7L161 297.5L159 299.2L157 300.4L155 301.3L153 301.9L151 302.5L149 303L147 303.5L145 304L143 304.4L141 305L139 305.8L137 306.8L135 307.9L133 309.2L131 310.5L129 311.9L127 313.3L125 314.8L123 316.1L121 317.4L119 318.6L117 319.6L115 320.5L113 321.3L111 322.1L109 322.8L107 323.4L105 323.9L103 324.3L101 324.8L99 325.1L97 325.5L95 325.8L93 326.2L91 326.5L89 326.7L87 327L85 327.2L83 327.4L81 327.6L79 327.8L77 327.9L75 328.1L73 328.2L71 328.2L69 328.2Z" fill-opacity="0.38"/><path d="M69 313.5L71 313.5L73 313.3L75 313L77 312.4L79 311.7L81 311L83 310.2L85 309.5L87 308.7L89 307.8L91 306.9L93 305.9L95 304.9L97 304L99 303L101 302.1L103 301.3L105 300.4L107 299.5L109 298.4L111 297.1L113 295.7L115 294.3L117 293L119 291.9L121 290.9L123 289.9L125 289L127 288.1L129 287.2L131 286.3L133 285.5L135 284.6L137 283.8L139 282.9L141 282L143 281.1L145 280.1L147 279.2L149 278.3L151 277.4L153 276.6L155 275.8L157 275L159 274.2L161 273.4L163 272.7L165 272L167 271.4L169 270.9L171 270.4L173 270L175 269.6L177 269.2L179 268.8L181 268.5L183 268.2L185 267.9L187 267.7L189 267.5L191 267.4L193 267.2L195 267.1L197 267L199 266.9L201 266.8L203 266.8L205 266.9L207 267L209 267.2L211 267.5L213 267.8L215 268.1L217 268.5L219 268.8L221 269.2L223 269.5L225 269.9L227 270.4L229 270.9L231 271.4L233 271.9L235 272.5L237 273.2L239 273.9L241 274.8L243 275.6L245 276.4L247 277.2L249 277.8L251 278.4L253 278.9L255 279.3L257 279.6L259 279.9L261 280.2L263 280.4L265 280.6L267 280.8L269 280.9L271 281L273 281L275 281L277 280.9L279 280.9L281 280.8L283 280.7L285 280.6L287 280.6L289 280.5L291 280.4L293 280.4L295 280.3L297 280.3L299 280.2L301 280.2L303 280.1L305 280L307 279.9L309 279.7L311 279.5L313 279.3L315 279L317 278.7L319 278.1L321 277.3L323 276.1L325 274.5L327 272.5L329 270.3L331 267.9L333 265.6L335 263.2L337 261L339 259.1L341 257.6L343 256.4L345 255.4L347 254.4L349 253.5L351 252.6L353 251.7L355 250.9L357 250.1L359 249.4L361 248.9L363 248.4L365 248L367 247.6L369 247.3L371 247.1L373 246.8L375 246.6L377 246.5L379 246.4L381 246.5L383 246.6L385 246.8L387 247L389 247.3L391 247.8L393 248.5L395 249.2L397 250L399 250.7L401 251.3L403 252L405 252.6L407 253.3L409 253.9L411 254.5L413 255.1L415 255.7L417 256.2L419 256.7L421 257.2L423 257.7L425 258.2L427 258.6L429 259.1L431 259.5L433 259.9L435 260.2L437 260.6L439 260.9L441 261.2L443 261.5L445 261.7L447 261.9L449 262L451 262.2L453 262.3L455 262.4L457 262.5L459 262.5L461 262.6L463 262.7L465 262.7L467 262.7L467 282.3L465 282.3L463 282.5L461 282.7L459 283L457 283.2L455 283.5L453 283.7L451 284L449 284.2L447 284.3L445 284.3L443 284.1L441 284L439 283.7L437 283.4L435 283.2L433 282.9L431 282.6L429 282.3L427 282L425 281.7L423 281.4L421 281.1L419 280.9L417 280.6L415 280.3L413 280.1L411 279.8L409 279.4L407 279L405 278.5L403 277.9L401 277.3L399 276.7L397 276L395 275.2L393 274.3L391 273.4L389 272.5L387 271.5L385 270.5L383 269.5L381 268.9L379 268.6L377 268.6L375 268.7L373 269L371 269.2L369 269.6L367 270.1L365 270.8L363 271.6L361 272.4L359 273.1L357 273.7L355 274.3L353 274.8L351 275.4L349 276.1L347 276.7L345 277.3L343 278L341 279.1L339 280.8L337 283.9L335 287.9L333 292.2L331 295.8L329 298.5L327 300.4L325 301.9L323 302.8L321 303.5L319 303.9L317 304L315 304L313 304L311 304L309 304L307 304L305 304L303 303.9L301 303.8L299 303.6L297 303.4L295 303.2L293 302.9L291 302.8L289 302.6L287 302.5L285 302.4L283 302.4L281 302.3L279 302.2L277 302.2L275 302.1L273 302L271 302L269 301.9L267 301.8L265 301.7L263 301.6L261 301.4L259 301.3L257 301.1L255 300.8L253 300.4L251 299.9L249 299.3L247 298.7L245 298.1L243 297.5L241 296.9L239 296.2L237 295.6L235 295L233 294.4L231 293.8L229 293.2L227 292.6L225 292L223 291.4L221 290.9L219 290.5L217 290.1L215 289.8L213 289.5L211 289.2L209 288.9L207 288.6L205 288.4L203 288.1L201 287.8L199 287.5L197 287.2L195 286.8L193 286.6L191 286.3L189 286.1L187 286L185 286L183 286.2L181 286.4L179 286.7L177 287.1L175 287.7L173 288.6L171 289.7L169 290.9L167 292.2L165 293.6L163 295.1L161 296.9L159 298.6L157 299.9L155 300.8L153 301.4L151 302L149 302.5L147 303L145 303.5L143 303.9L141 304.5L139 305.3L137 306.3L135 307.4L133 308.6L131 310L129 311.4L127 312.8L125 314.2L123 315.5L121 316.8L119 318L117 319L115 319.9L113 320.7L111 321.5L109 322.2L107 322.8L105 323.3L103 323.7L101 324.1L99 324.5L97 324.8L95 325.2L93 325.5L91 325.8L89 326L87 326.3L85 326.5L83 326.7L81 326.9L79 327.1L77 327.2L75 327.4L73 327.5L71 327.5L69 327.5Z" fill-opacity="0.44"/><path d="M69 314.5L71 314.5L73 314.3L75 314L77 313.4L79 312.7L81 312L83 311.2L85 310.5L87 309.7L89 308.9L91 308.1L93 307.2L95 306.3L97 305.4L99 304.6L101 303.9L103 303.2L105 302.5L107 301.7L109 300.7L111 299.5L113 298.2L115 296.8L117 295.6L119 294.6L121 293.6L123 292.6L125 291.7L127 290.8L129 290L131 289.1L133 288.3L135 287.4L137 286.6L139 285.7L141 284.8L143 283.9L145 282.9L147 281.9L149 281L151 280.1L153 279.2L155 278.3L157 277.4L159 276.5L161 275.5L163 274.6L165 273.8L167 273.2L169 272.6L171 272L173 271.6L175 271.1L177 270.7L179 270.3L181 270L183 269.7L185 269.4L187 269.2L189 269.1L191 269L193 268.9L195 268.8L197 268.8L199 268.8L201 268.8L203 268.8L205 268.9L207 269.1L209 269.3L211 269.6L213 270L215 270.3L217 270.7L219 271L221 271.4L223 271.7L225 272.1L227 272.6L229 273.1L231 273.6L233 274.1L235 274.7L237 275.4L239 276.1L241 276.9L243 277.7L245 278.4L247 279.1L249 279.7L251 280.2L253 280.6L255 280.9L257 281.2L259 281.4L261 281.6L263 281.8L265 281.9L267 282.1L269 282.1L271 282.2L273 282.2L275 282.2L277 282.1L279 282.1L281 282L283 281.9L285 281.8L287 281.8L289 281.7L291 281.6L293 281.6L295 281.5L297 281.5L299 281.4L301 281.4L303 281.3L305 281.2L307 281.1L309 280.9L311 280.7L313 280.5L315 280.2L317 279.9L319 279.4L321 278.6L323 277.5L325 276L327 274.1L329 271.8L331 269.5L333 267.2L335 264.7L337 262.5L339 260.5L341 259L343 257.7L345 256.7L347 255.7L349 254.7L351 253.8L353 252.8L355 251.9L357 251.1L359 250.4L361 249.9L363 249.4L365 249L367 248.6L369 248.3L371 248.1L373 247.8L375 247.6L377 247.5L379 247.4L381 247.4L383 247.6L385 247.7L387 247.9L389 248.2L391 248.7L393 249.4L395 250.1L397 250.9L399 251.6L401 252.2L403 252.9L405 253.6L407 254.2L409 254.9L411 255.5L413 256.1L415 256.7L417 257.3L419 257.9L421 258.5L423 259L425 259.5L427 260L429 260.5L431 261L433 261.4L435 261.9L437 262.3L439 262.7L441 263.2L443 263.6L445 264L447 264.4L449 264.7L451 265L453 265.4L455 265.7L457 266L459 266.3L461 266.7L463 267.1L465 267.4L467 267.4L467 280.7L465 280.7L463 281L461 281.3L459 281.7L457 282L455 282.2L453 282.5L451 282.8L449 283L447 283.1L445 283.2L443 283.1L441 282.9L439 282.6L437 282.4L435 282.1L433 281.8L431 281.5L429 281.2L427 280.9L425 280.6L423 280.3L421 280L419 279.7L417 279.4L415 279.1L413 278.9L411 278.6L409 278.2L407 277.8L405 277.3L403 276.7L401 276.1L399 275.5L397 274.8L395 274L393 273.1L391 272.2L389 271.3L387 270.3L385 269.3L383 268.3L381 267.7L379 267.4L377 267.4L375 267.6L373 267.8L371 268.1L369 268.5L367 269L365 269.8L363 270.6L361 271.4L359 272.1L357 272.7L355 273.3L353 273.8L351 274.4L349 275.1L347 275.7L345 276.3L343 277L341 278.1L339 279.8L337 282.9L335 286.9L333 291.2L331 294.8L329 297.5L327 299.5L325 301L323 302L321 302.7L319 303.1L317 303.2L315 303.2L313 303.2L311 303.2L309 303.2L307 303.2L305 303.2L303 303.1L301 303L299 302.8L297 302.5L295 302.3L293 302.1L291 301.9L289 301.7L287 301.6L285 301.5L283 301.5L281 301.4L279 301.3L277 301.3L275 301.2L273 301.1L271 301.1L269 301L267 300.9L265 300.7L263 300.6L261 300.5L259 300.3L257 300.1L255 299.8L253 299.4L251 298.9L249 298.3L247 297.7L245 297.1L243 296.4L241 295.8L239 295.1L237 294.4L235 293.8L233 293.2L231 292.5L229 291.9L227 291.3L225 290.7L223 290.1L221 289.6L219 289.2L217 288.8L215 288.5L213 288.2L211 287.9L209 287.7L207 287.4L205 287.2L203 286.9L201 286.6L199 286.3L197 286L195 285.7L193 285.4L191 285.2L189 285L187 284.9L185 284.9L183 285.1L181 285.3L179 285.6L177 286L175 286.6L173 287.5L171 288.5L169 289.7L167 291L165 292.4L163 294L161 295.8L159 297.5L157 298.8L155 299.7L153 300.4L151 300.9L149 301.5L147 302L145 302.5L143 302.9L141 303.5L139 304.3L137 305.3L135 306.4L133 307.6L131 308.9L129 310.3L127 311.7L125 313L123 314.4L121 315.6L119 316.8L117 317.8L115 318.7L113 319.5L111 320.3L109 321L107 321.6L105 322L103 322.5L101 322.8L99 323.2L97 323.5L95 323.8L93 324.1L91 324.4L89 324.7L87 324.9L85 325.1L83 325.3L81 325.5L79 325.7L77 325.8L75 326L73 326.1L71 326.1L69 326.1Z" fill-opacity="0.7"/><path d="M69 316L71 316L73 315.8L75 315.5L77 314.9L79 314.2L81 313.5L83 312.7L85 312L87 311.3L89 310.5L91 309.8L93 309.1L95 308.3L97 307.7L99 307L101 306.5L103 306.1L105 305.6L107 305.1L109 304.2L111 303.1L113 301.9L115 300.7L117 299.5L119 298.5L121 297.5L123 296.6L125 295.7L127 294.9L129 294.1L131 293.2L133 292.4L135 291.6L137 290.8L139 289.9L141 289L143 288L145 287L147 286L149 285.1L151 284.1L153 283.1L155 282L157 281L159 279.8L161 278.6L163 277.5L165 276.5L167 275.8L169 275.1L171 274.5L173 273.9L175 273.4L177 273L179 272.6L181 272.2L183 271.9L185 271.7L187 271.5L189 271.4L191 271.3L193 271.4L195 271.4L197 271.5L199 271.6L201 271.7L203 271.8L205 272L207 272.2L209 272.5L211 272.8L213 273.2L215 273.6L217 273.9L219 274.3L221 274.7L223 275L225 275.4L227 275.9L229 276.4L231 276.9L233 277.4L235 278L237 278.6L239 279.3L241 280L243 280.8L245 281.4L247 282L249 282.5L251 282.8L253 283.2L255 283.4L257 283.6L259 283.7L261 283.8L263 283.8L265 283.9L267 284L269 284L271 284L273 284L275 284L277 283.9L279 283.9L281 283.8L283 283.7L285 283.6L287 283.6L289 283.5L291 283.4L293 283.4L295 283.3L297 283.3L299 283.2L301 283.2L303 283.1L305 283L307 282.9L309 282.7L311 282.5L313 282.3L315 282L317 281.7L319 281.2L321 280.5L323 279.5L325 278.1L327 276.3L329 274.2L331 271.9L333 269.5L335 267L337 264.7L339 262.7L341 261L343 259.7L345 258.6L347 257.6L349 256.5L351 255.5L353 254.5L355 253.5L357 252.7L359 252L361 251.4L363 250.9L365 250.5L367 250.1L369 249.8L371 249.6L373 249.3L375 249.1L377 249L379 248.9L381 248.9L383 249L385 249.1L387 249.3L389 249.6L391 250.1L393 250.7L395 251.5L397 252.2L399 252.9L401 253.6L403 254.3L405 255L407 255.7L409 256.4L411 257L413 257.7L415 258.4L417 259L419 259.7L421 260.3L423 260.9L425 261.5L427 262.1L429 262.7L431 263.2L433 263.8L435 264.3L437 264.9L439 265.5L441 266.2L443 266.9L445 267.5L447 268.2L449 268.8L451 269.4L453 270L455 270.6L457 271.3L459 272.1L461 272.2L463 272.1L465 272L467 272L467 278.3L465 278.3L463 278.7L461 279.2L459 279.7L457 280.1L455 280.4L453 280.7L451 281L449 281.3L447 281.5L445 281.5L443 281.5L441 281.3L439 281.1L437 280.8L435 280.4L433 280.1L431 279.8L429 279.5L427 279.1L425 278.8L423 278.5L421 278.2L419 277.9L417 277.6L415 277.3L413 277.1L411 276.8L409 276.4L407 276L405 275.5L403 274.9L401 274.3L399 273.7L397 273L395 272.2L393 271.3L391 270.4L389 269.5L387 268.5L385 267.5L383 266.5L381 265.9L379 265.6L377 265.6L375 265.8L373 266.1L371 266.4L369 266.9L367 267.4L365 268.2L363 269.1L361 269.9L359 270.6L357 271.2L355 271.8L353 272.3L351 272.9L349 273.6L347 274.2L345 274.8L343 275.5L341 276.6L339 278.3L337 281.4L335 285.4L333 289.7L331 293.3L329 296L327 298.2L325 299.8L323 300.8L321 301.5L319 301.9L317 302L315 302L313 302L311 302L309 302L307 302L305 302L303 301.9L301 301.8L299 301.5L297 301.3L295 301L293 300.7L291 300.5L289 300.4L287 300.3L285 300.2L283 300.1L281 300.1L279 300L277 299.9L275 299.9L273 299.8L271 299.7L269 299.6L267 299.5L265 299.3L263 299.2L261 299L259 298.8L257 298.6L255 298.3L253 297.9L251 297.4L249 296.8L247 296.2L245 295.6L243 294.9L241 294.1L239 293.4L237 292.7L235 292L233 291.3L231 290.7L229 290L227 289.4L225 288.8L223 288.2L221 287.7L219 287.3L217 286.9L215 286.6L213 286.3L211 286L209 285.8L207 285.6L205 285.3L203 285.1L201 284.8L199 284.6L197 284.3L195 284L193 283.7L191 283.5L189 283.4L187 283.3L185 283.3L183 283.4L181 283.6L179 283.9L177 284.3L175 284.9L173 285.8L171 286.8L169 288L167 289.2L165 290.6L163 292.2L161 294L159 295.8L157 297.1L155 298.1L153 298.8L151 299.4L149 300L147 300.5L145 301L143 301.4L141 302L139 302.8L137 303.7L135 304.8L133 306L131 307.3L129 308.6L127 310L125 311.3L123 312.6L121 313.8L119 315L117 316L115 316.9L113 317.7L111 318.5L109 319.2L107 319.7L105 320.2L103 320.6L101 320.9L99 321.2L97 321.5L95 321.8L93 322.1L91 322.3L89 322.6L87 322.8L85 323L83 323.2L81 323.4L79 323.6L77 323.7L75 323.9L73 324L71 324L69 324Z" fill-opacity="1"/></g><g fill="#bebebe"><path d="M69 299.3L71 299.3L73 299.2L75 299.1L77 299L79 298.8L81 298.6L83 298.5L85 298.3L87 298.2L89 298.1L91 298L93 297.9L95 297.8L97 297.7L99 297.5L101 297.2L103 296.8L105 296.3L107 295.9L109 295.4L111 295L113 294.7L115 294.6L117 294.5L119 294.6L121 294.7L123 294.7L125 294.8L127 294.8L129 294.9L131 294.9L133 294.9L135 295L137 295L139 295L141 295L143 295L145 294.9L147 294.9L149 294.8L151 294.7L153 294.6L155 294.6L157 294.5L159 294.5L161 294.5L163 294.5L165 294.5L167 294.5L169 294.5L171 294.5L173 294.5L175 294.6L177 294.6L179 294.6L181 294.6L183 294.6L185 294.5L187 294.4L189 294.2L191 293.9L193 293.6L195 293.2L197 292.8L199 292.3L201 291.9L203 291.5L205 291.1L207 290.6L209 290.1L211 289.6L213 289L215 288.5L217 288L219 287.5L221 287.1L223 286.7L225 286.3L227 285.9L229 285.6L231 285.2L233 284.7L235 284.3L237 283.9L239 283.6L241 283.2L243 282.9L245 282.5L247 281.9L249 281L251 279.8L253 278.5L255 277.2L257 276.2L259 275.2L261 274.3L263 273.4L265 272.5L267 271.7L269 271L271 270.4L273 269.9L275 269.6L277 269.3L279 269.1L281 269L283 268.9L285 268.8L287 268.7L289 268.6L291 268.5L293 268.4L295 268.3L297 268.2L299 268.1L301 268L303 267.9L305 267.8L307 267.7L309 267.6L311 267.5L313 267.6L315 267.8L317 268.1L319 268.4L321 268.7L323 269.2L325 269.8L327 270.5L329 271.5L331 273.1L333 275.4L335 278.4L337 281.3L339 283.6L341 285L343 286L345 286.8L347 287.4L349 287.7L351 287.8L353 287.9L355 288L357 288L359 288L361 287.9L363 287.8L365 287.7L367 287.5L369 287.3L371 287.2L373 287L375 286.8L377 286.6L379 286.5L381 286.4L383 286.4L385 286.3L387 286.3L389 286.3L391 286.3L393 286.4L395 286.6L397 286.7L399 287L401 287.3L403 287.7L405 288.1L407 288.4L409 288.5L411 288.5L413 288.4L415 288.3L417 288.1L419 288L421 288L423 288.1L425 288.3L427 288.5L429 288.7L431 288.9L433 289L435 289L437 289L439 288.9L441 288.7L443 288.5L445 288.3L447 288L449 287.5L451 286.9L453 286.2L455 285.6L457 285L459 284.4L461 283.8L463 283.2L465 282.8L467 282.7L467 345.8L465 345.7L463 344.6L461 343.2L459 341.6L457 340.2L455 338.8L453 337.3L451 335.9L449 334.5L447 333.2L445 331.8L443 330.5L441 329.1L439 327.9L437 326.9L435 326.2L433 325.6L431 325.2L429 324.7L427 324.3L425 323.8L423 323.3L421 322.8L419 322.2L417 321.5L415 320.8L413 320.1L411 319.4L409 318.8L407 318.2L405 317.6L403 317L401 316.3L399 315.7L397 315.2L395 314.7L393 314.2L391 313.8L389 313.5L387 313.3L385 313.1L383 312.9L381 312.8L379 312.8L377 312.9L375 313.3L373 313.7L371 314.3L369 314.8L367 315.3L365 315.8L363 316.2L361 316.5L359 316.6L357 316.6L355 316.6L353 316.6L351 316.6L349 316.6L347 316.4L345 316.1L343 315.6L341 315L339 314.3L337 313.4L335 312.4L333 311.4L331 310.2L329 309L327 307.4L325 305.6L323 303.9L321 302.6L319 301.7L317 300.9L315 300.3L313 299.9L311 299.6L309 299.6L307 299.7L305 300L303 300.3L301 300.6L299 300.9L297 301.3L295 301.8L293 302.2L291 302.8L289 303.4L287 304.2L285 305.3L283 306.6L281 308L279 309.4L277 310.8L275 311.9L273 312.8L271 313.4L269 313.9L267 314.4L265 314.8L263 315.2L261 315.6L259 315.9L257 316.3L255 316.7L253 317.3L251 318L249 318.7L247 319.2L245 319.8L243 320.5L241 321.2L239 321.9L237 322.5L235 323L233 323.3L231 323.6L229 323.9L227 324.1L225 324.3L223 324.5L221 324.8L219 325L217 325.3L215 325.6L213 326L211 326.4L209 326.8L207 327.1L205 327.3L203 327.5L201 327.6L199 327.7L197 327.7L195 327.8L193 327.8L191 327.9L189 327.9L187 328L185 328L183 328.1L181 328.1L179 328.2L177 328.2L175 328.3L173 328.4L171 328.5L169 328.6L167 328.9L165 329.3L163 329.7L161 330.2L159 330.6L157 331L155 331.3L153 331.6L151 331.9L149 332.2L147 332.5L145 332.7L143 332.9L141 333L139 333.1L137 333.1L135 333.1L133 333.2L131 333.2L129 333.2L127 333.2L125 333.2L123 333.2L121 333.1L119 333.1L117 333L115 332.9L113 332.7L111 332.4L109 332L107 331.2L105 330.3L103 329.3L101 328.4L99 327.5L97 326.7L95 326L93 325.2L91 324.3L89 323.5L87 322.8L85 322L83 321.2L81 320.3L79 319.3L77 318.5L75 317.8L73 317.3L71 317L69 317Z" fill-opacity="0.03"/><path d="M69 299.8L71 299.7L73 299.7L75 299.6L77 299.5L79 299.4L81 299.2L83 299L85 298.9L87 298.8L89 298.7L91 298.6L93 298.6L95 298.5L97 298.4L99 298.2L101 298L103 297.7L105 297.3L107 296.9L109 296.5L111 296.2L113 296L115 295.9L117 295.9L119 296L121 296L123 296.1L125 296.1L127 296.2L129 296.2L131 296.3L133 296.3L135 296.3L137 296.3L139 296.3L141 296.3L143 296.3L145 296.3L147 296.2L149 296.1L151 296L153 295.9L155 295.8L157 295.7L159 295.6L161 295.6L163 295.5L165 295.5L167 295.4L169 295.4L171 295.4L173 295.4L175 295.4L177 295.4L179 295.5L181 295.4L183 295.4L185 295.4L187 295.2L189 295L191 294.8L193 294.4L195 294L197 293.6L199 293.2L201 292.8L203 292.4L205 292L207 291.5L209 291L211 290.5L213 289.9L215 289.4L217 288.9L219 288.4L221 288L223 287.6L225 287.2L227 286.8L229 286.5L231 286.1L233 285.6L235 285.2L237 284.8L239 284.4L241 284.1L243 283.7L245 283.2L247 282.6L249 281.8L251 280.6L253 279.3L255 278.1L257 277.1L259 276.1L261 275.2L263 274.3L265 273.4L267 272.6L269 271.9L271 271.3L273 270.8L275 270.5L277 270.2L279 270L281 269.8L283 269.7L285 269.6L287 269.5L289 269.3L291 269.2L293 269.1L295 269L297 268.9L299 268.8L301 268.7L303 268.6L305 268.5L307 268.4L309 268.3L311 268.3L313 268.4L315 268.6L317 268.8L319 269.1L321 269.5L323 269.9L325 270.5L327 271.3L329 272.4L331 273.9L333 276.2L335 279.1L337 282L339 284.2L341 285.6L343 286.6L345 287.4L347 287.9L349 288.2L351 288.4L353 288.4L355 288.5L357 288.5L359 288.5L361 288.5L363 288.4L365 288.2L367 288L369 287.9L371 287.7L373 287.5L375 287.3L377 287.2L379 287L381 287L383 286.9L385 286.9L387 286.8L389 286.8L391 286.9L393 287L395 287.1L397 287.2L399 287.5L401 287.9L403 288.3L405 288.7L407 289L409 289.1L411 289.2L413 289.1L415 289L417 288.8L419 288.8L421 288.8L423 288.9L425 289.1L427 289.3L429 289.5L431 289.7L433 289.8L435 289.8L437 289.8L439 289.8L441 289.6L443 289.5L445 289.3L447 289L449 288.6L451 288L453 287.4L455 286.8L457 286.2L459 285.8L461 285.3L463 284.8L465 284.4L467 284.3L467 341.9L465 341.7L463 340.8L461 339.5L459 338.2L457 336.9L455 335.6L453 334.3L451 333.1L449 331.9L447 330.7L445 329.5L443 328.3L441 327.1L439 326L437 325.1L435 324.5L433 324L431 323.5L429 323.1L427 322.6L425 322.2L423 321.7L421 321.2L419 320.6L417 320L415 319.3L413 318.6L411 318L409 317.4L407 316.8L405 316.2L403 315.5L401 314.9L399 314.3L397 313.8L395 313.3L393 312.8L391 312.4L389 312.1L387 311.8L385 311.6L383 311.4L381 311.3L379 311.3L377 311.5L375 311.8L373 312.3L371 312.8L369 313.4L367 313.9L365 314.4L363 314.9L361 315.2L359 315.3L357 315.3L355 315.3L353 315.3L351 315.3L349 315.3L347 315.1L345 314.8L343 314.3L341 313.6L339 312.9L337 312L335 311L333 309.9L331 308.8L329 307.5L327 306L325 304.3L323 302.6L321 301.3L319 300.4L317 299.7L315 299.1L313 298.6L311 298.3L309 298.3L307 298.5L305 298.7L303 299L301 299.3L299 299.7L297 300.1L295 300.5L293 301L291 301.5L289 302.1L287 302.9L285 303.9L283 305.2L281 306.6L279 308L277 309.3L275 310.5L273 311.3L271 311.9L269 312.4L267 312.9L265 313.3L263 313.7L261 314.1L259 314.4L257 314.7L255 315.2L253 315.7L251 316.4L249 317L247 317.5L245 318.1L243 318.8L241 319.5L239 320.3L237 320.9L235 321.4L233 321.8L231 322.1L229 322.4L227 322.6L225 322.9L223 323.1L221 323.3L219 323.6L217 323.9L215 324.2L213 324.5L211 324.9L209 325.2L207 325.5L205 325.8L203 325.9L201 326L199 326.1L197 326.1L195 326.2L193 326.2L191 326.3L189 326.3L187 326.4L185 326.5L183 326.5L181 326.6L179 326.6L177 326.7L175 326.7L173 326.8L171 326.9L169 327L167 327.3L165 327.6L163 328.1L161 328.5L159 328.9L157 329.3L155 329.6L153 329.9L151 330.1L149 330.4L147 330.7L145 330.9L143 331L141 331.1L139 331.2L137 331.2L135 331.3L133 331.3L131 331.3L129 331.4L127 331.4L125 331.4L123 331.3L121 331.3L119 331.3L117 331.2L115 331.1L113 331L111 330.7L109 330.3L107 329.6L105 328.8L103 327.9L101 327L99 326.2L97 325.5L95 324.8L93 324L91 323.2L89 322.4L87 321.7L85 320.9L83 320.1L81 319.3L79 318.3L77 317.5L75 316.8L73 316.3L71 316.1L69 316Z" fill-opacity="0.04"/><path d="M69 300.1L71 300.1L73 300.1L75 300L77 299.9L79 299.8L81 299.7L83 299.5L85 299.4L87 299.3L89 299.3L91 299.2L93 299.1L95 299.1L97 299L99 298.9L101 298.7L103 298.4L105 298.1L107 297.8L109 297.5L111 297.3L113 297.1L115 297L117 297.1L119 297.1L121 297.2L123 297.3L125 297.3L127 297.4L129 297.4L131 297.4L133 297.5L135 297.5L137 297.5L139 297.5L141 297.5L143 297.5L145 297.4L147 297.3L149 297.2L151 297.1L153 297L155 296.9L157 296.7L159 296.6L161 296.5L163 296.4L165 296.3L167 296.3L169 296.2L171 296.2L173 296.2L175 296.2L177 296.2L179 296.2L181 296.2L183 296.1L185 296.1L187 296L189 295.8L191 295.5L193 295.2L195 294.8L197 294.4L199 294L201 293.6L203 293.2L205 292.8L207 292.3L209 291.8L211 291.3L213 290.7L215 290.2L217 289.7L219 289.2L221 288.8L223 288.4L225 288L227 287.6L229 287.2L231 286.8L233 286.4L235 286L237 285.6L239 285.2L241 284.8L243 284.4L245 283.9L247 283.3L249 282.5L251 281.3L253 280.1L255 278.9L257 277.8L259 276.9L261 276L263 275.1L265 274.2L267 273.4L269 272.7L271 272.1L273 271.6L275 271.3L277 271L279 270.7L281 270.5L283 270.4L285 270.3L287 270.1L289 270L291 269.9L293 269.8L295 269.7L297 269.6L299 269.5L301 269.4L303 269.3L305 269.2L307 269.1L309 269L311 268.9L313 269L315 269.2L317 269.5L319 269.8L321 270.1L323 270.6L325 271.2L327 272L329 273.1L331 274.6L333 276.9L335 279.7L337 282.5L339 284.7L341 286.1L343 287.1L345 287.8L347 288.4L349 288.7L351 288.8L353 288.9L355 288.9L357 289L359 289L361 288.9L363 288.8L365 288.7L367 288.5L369 288.3L371 288.1L373 287.9L375 287.8L377 287.6L379 287.5L381 287.4L383 287.4L385 287.3L387 287.3L389 287.3L391 287.3L393 287.4L395 287.5L397 287.7L399 288L401 288.3L403 288.7L405 289.1L407 289.5L409 289.7L411 289.7L413 289.6L415 289.6L417 289.5L419 289.4L421 289.5L423 289.6L425 289.8L427 290L429 290.2L431 290.4L433 290.5L435 290.6L437 290.6L439 290.5L441 290.4L443 290.3L445 290.1L447 289.9L449 289.5L451 289L453 288.4L455 287.8L457 287.4L459 287L461 286.5L463 286.1L465 285.8L467 285.7L467 338.4L465 338.3L463 337.5L461 336.4L459 335.1L457 334L455 332.9L453 331.8L451 330.7L449 329.6L447 328.5L445 327.5L443 326.4L441 325.4L439 324.4L437 323.6L435 323L433 322.6L431 322.1L429 321.7L427 321.2L425 320.8L423 320.3L421 319.8L419 319.3L417 318.7L415 318L413 317.3L411 316.7L409 316.1L407 315.5L405 314.9L403 314.3L401 313.7L399 313.1L397 312.5L395 312L393 311.6L391 311.2L389 310.9L387 310.6L385 310.4L383 310.2L381 310.1L379 310.1L377 310.3L375 310.6L373 311.1L371 311.6L369 312.1L367 312.7L365 313.2L363 313.7L361 314.1L359 314.2L357 314.2L355 314.2L353 314.2L351 314.2L349 314.2L347 314L345 313.6L343 313.1L341 312.4L339 311.6L337 310.7L335 309.8L333 308.7L331 307.6L329 306.3L327 304.8L325 303.1L323 301.5L321 300.2L319 299.3L317 298.6L315 298L313 297.5L311 297.2L309 297.2L307 297.4L305 297.6L303 297.9L301 298.2L299 298.6L297 299L295 299.4L293 299.9L291 300.4L289 301L287 301.8L285 302.8L283 304.1L281 305.4L279 306.8L277 308.1L275 309.2L273 310L271 310.6L269 311.1L267 311.6L265 312L263 312.4L261 312.8L259 313.1L257 313.4L255 313.8L253 314.4L251 315L249 315.5L247 316L245 316.6L243 317.3L241 318.1L239 318.8L237 319.5L235 320L233 320.4L231 320.8L229 321.1L227 321.4L225 321.6L223 321.9L221 322.1L219 322.3L217 322.6L215 322.9L213 323.3L211 323.6L209 323.9L207 324.2L205 324.4L203 324.5L201 324.6L199 324.7L197 324.8L195 324.8L193 324.9L191 324.9L189 325L187 325L185 325.1L183 325.1L181 325.2L179 325.2L177 325.3L175 325.4L173 325.4L171 325.5L169 325.7L167 325.9L165 326.2L163 326.6L161 327.1L159 327.4L157 327.8L155 328L153 328.3L151 328.6L149 328.8L147 329.1L145 329.2L143 329.4L141 329.5L139 329.6L137 329.6L135 329.7L133 329.7L131 329.7L129 329.8L127 329.8L125 329.8L123 329.8L121 329.7L119 329.7L117 329.7L115 329.6L113 329.5L111 329.2L109 328.9L107 328.3L105 327.5L103 326.7L101 325.9L99 325.1L97 324.4L95 323.7L93 323L91 322.2L89 321.5L87 320.8L85 320L83 319.2L81 318.4L79 317.5L77 316.6L75 315.9L73 315.4L71 315.2L69 315.2Z" fill-opacity="0.06"/><path d="M69 300.5L71 300.5L73 300.5L75 300.4L77 300.3L79 300.2L81 300.1L83 300L85 299.9L87 299.8L89 299.8L91 299.7L93 299.7L95 299.6L97 299.6L99 299.5L101 299.3L103 299.1L105 298.9L107 298.6L109 298.4L111 298.2L113 298.1L115 298.1L117 298.1L119 298.2L121 298.3L123 298.3L125 298.4L127 298.4L129 298.5L131 298.5L133 298.5L135 298.6L137 298.6L139 298.6L141 298.6L143 298.6L145 298.5L147 298.4L149 298.3L151 298.1L153 298L155 297.8L157 297.7L159 297.6L161 297.4L163 297.3L165 297.1L167 297L169 296.9L171 296.9L173 296.9L175 296.9L177 296.9L179 296.9L181 296.8L183 296.8L185 296.7L187 296.6L189 296.4L191 296.2L193 295.8L195 295.5L197 295.1L199 294.7L201 294.3L203 293.9L205 293.5L207 293L209 292.5L211 292L213 291.4L215 290.9L217 290.4L219 289.9L221 289.5L223 289.1L225 288.7L227 288.3L229 288L231 287.6L233 287.1L235 286.7L237 286.3L239 285.9L241 285.5L243 285L245 284.5L247 283.9L249 283.1L251 282L253 280.7L255 279.6L257 278.6L259 277.6L261 276.7L263 275.8L265 274.9L267 274.1L269 273.4L271 272.8L273 272.3L275 272L277 271.7L279 271.4L281 271.2L283 271L285 270.9L287 270.7L289 270.6L291 270.5L293 270.4L295 270.3L297 270.2L299 270.1L301 270L303 269.9L305 269.8L307 269.7L309 269.6L311 269.5L313 269.6L315 269.8L317 270.1L319 270.4L321 270.7L323 271.2L325 271.9L327 272.7L329 273.7L331 275.2L333 277.5L335 280.3L337 283.1L339 285.2L341 286.6L343 287.5L345 288.3L347 288.8L349 289.1L351 289.2L353 289.3L355 289.4L357 289.4L359 289.4L361 289.3L363 289.2L365 289.1L367 288.9L369 288.7L371 288.6L373 288.4L375 288.2L377 288L379 287.9L381 287.8L383 287.8L385 287.7L387 287.7L389 287.7L391 287.7L393 287.8L395 288L397 288.1L399 288.4L401 288.7L403 289.2L405 289.6L407 289.9L409 290.1L411 290.2L413 290.2L415 290.1L417 290L419 290L421 290.1L423 290.2L425 290.4L427 290.6L429 290.8L431 291L433 291.2L435 291.2L437 291.2L439 291.2L441 291.1L443 291L445 290.9L447 290.7L449 290.3L451 289.9L453 289.3L455 288.8L457 288.4L459 288L461 287.7L463 287.3L465 287.1L467 287L467 335.3L465 335.2L463 334.4L461 333.4L459 332.3L457 331.3L455 330.4L453 329.4L451 328.4L449 327.5L447 326.6L445 325.6L443 324.7L441 323.8L439 322.9L437 322.2L435 321.7L433 321.2L431 320.8L429 320.4L427 320L425 319.5L423 319L421 318.5L419 318L417 317.4L415 316.8L413 316.2L411 315.6L409 315L407 314.4L405 313.8L403 313.2L401 312.5L399 311.9L397 311.4L395 310.9L393 310.4L391 310L389 309.7L387 309.5L385 309.3L383 309.1L381 309L379 309L377 309.1L375 309.5L373 309.9L371 310.5L369 311L367 311.6L365 312.1L363 312.7L361 313L359 313.2L357 313.2L355 313.2L353 313.2L351 313.2L349 313.1L347 312.9L345 312.5L343 311.9L341 311.3L339 310.5L337 309.6L335 308.6L333 307.6L331 306.4L329 305.2L327 303.7L325 302L323 300.4L321 299.2L319 298.3L317 297.5L315 296.9L313 296.5L311 296.2L309 296.2L307 296.3L305 296.6L303 296.9L301 297.2L299 297.5L297 297.9L295 298.4L293 298.8L291 299.4L289 299.9L287 300.7L285 301.8L283 303L281 304.3L279 305.7L277 306.9L275 308L273 308.8L271 309.4L269 309.9L267 310.4L265 310.8L263 311.2L261 311.6L259 311.9L257 312.2L255 312.6L253 313.1L251 313.6L249 314.2L247 314.7L245 315.3L243 316L241 316.8L239 317.5L237 318.2L235 318.8L233 319.2L231 319.6L229 319.9L227 320.2L225 320.4L223 320.7L221 321L219 321.2L217 321.5L215 321.8L213 322.1L211 322.4L209 322.7L207 323L205 323.2L203 323.3L201 323.4L199 323.5L197 323.5L195 323.6L193 323.6L191 323.7L189 323.7L187 323.8L185 323.8L183 323.9L181 323.9L179 324L177 324L175 324.1L173 324.2L171 324.3L169 324.4L167 324.6L165 325L163 325.3L161 325.7L159 326.1L157 326.4L155 326.7L153 326.9L151 327.1L149 327.4L147 327.6L145 327.8L143 327.9L141 328L139 328.1L137 328.1L135 328.2L133 328.2L131 328.2L129 328.3L127 328.3L125 328.3L123 328.3L121 328.3L119 328.3L117 328.2L115 328.2L113 328L111 327.9L109 327.5L107 327L105 326.3L103 325.5L101 324.8L99 324.1L97 323.5L95 322.8L93 322.1L91 321.3L89 320.6L87 319.9L85 319.2L83 318.4L81 317.6L79 316.7L77 315.8L75 315.1L73 314.7L71 314.4L69 314.4Z" fill-opacity="0.1"/><path d="M69 300.8L71 300.8L73 300.8L75 300.7L77 300.7L79 300.6L81 300.5L83 300.4L85 300.3L87 300.2L89 300.2L91 300.2L93 300.1L95 300.1L97 300.1L99 300L101 299.9L103 299.7L105 299.5L107 299.3L109 299.1L111 299L113 299L115 299L117 299L119 299.1L121 299.2L123 299.2L125 299.3L127 299.3L129 299.4L131 299.4L133 299.4L135 299.5L137 299.5L139 299.5L141 299.5L143 299.5L145 299.4L147 299.3L149 299.1L151 299L153 298.8L155 298.7L157 298.5L159 298.3L161 298.2L163 298L165 297.8L167 297.7L169 297.5L171 297.5L173 297.5L175 297.4L177 297.4L179 297.4L181 297.4L183 297.4L185 297.3L187 297.2L189 297L191 296.7L193 296.4L195 296.1L197 295.7L199 295.3L201 294.9L203 294.5L205 294.1L207 293.6L209 293.1L211 292.6L213 292L215 291.5L217 291L219 290.5L221 290.1L223 289.7L225 289.3L227 288.9L229 288.6L231 288.2L233 287.7L235 287.3L237 286.9L239 286.4L241 286L243 285.6L245 285L247 284.4L249 283.6L251 282.5L253 281.3L255 280.2L257 279.2L259 278.2L261 277.3L263 276.4L265 275.5L267 274.7L269 274L271 273.4L273 272.9L275 272.6L277 272.2L279 272L281 271.8L283 271.6L285 271.4L287 271.2L289 271.1L291 271L293 270.9L295 270.8L297 270.7L299 270.6L301 270.5L303 270.4L305 270.3L307 270.2L309 270.1L311 270L313 270.1L315 270.3L317 270.6L319 270.9L321 271.2L323 271.7L325 272.4L327 273.2L329 274.3L331 275.8L333 278L335 280.8L337 283.5L339 285.7L341 287L343 287.9L345 288.6L347 289.2L349 289.5L351 289.6L353 289.7L355 289.7L357 289.7L359 289.7L361 289.7L363 289.6L365 289.4L367 289.3L369 289.1L371 288.9L373 288.7L375 288.5L377 288.4L379 288.3L381 288.2L383 288.1L385 288.1L387 288.1L389 288.1L391 288.1L393 288.2L395 288.3L397 288.5L399 288.7L401 289.1L403 289.5L405 290L407 290.3L409 290.5L411 290.6L413 290.6L415 290.5L417 290.5L419 290.5L421 290.6L423 290.7L425 290.9L427 291.1L429 291.4L431 291.6L433 291.7L435 291.8L437 291.8L439 291.8L441 291.7L443 291.7L445 291.5L447 291.4L449 291L451 290.6L453 290.1L455 289.6L457 289.3L459 289L461 288.7L463 288.4L465 288.1L467 288.1L467 332.7L465 332.5L463 331.9L461 331L459 330L457 329.1L455 328.3L453 327.4L451 326.5L449 325.7L447 324.9L445 324.1L443 323.3L441 322.5L439 321.7L437 321.1L435 320.6L433 320.1L431 319.7L429 319.3L427 318.9L425 318.4L423 318L421 317.5L419 317L417 316.4L415 315.8L413 315.2L411 314.6L409 314L407 313.5L405 312.8L403 312.2L401 311.6L399 311L397 310.5L395 310L393 309.5L391 309.1L389 308.8L387 308.5L385 308.3L383 308.1L381 308L379 308L377 308.2L375 308.5L373 309L371 309.5L369 310L367 310.6L365 311.2L363 311.8L361 312.2L359 312.3L357 312.4L355 312.4L353 312.4L351 312.3L349 312.3L347 312.1L345 311.6L343 311L341 310.3L339 309.5L337 308.6L335 307.7L333 306.6L331 305.5L329 304.2L327 302.7L325 301.1L323 299.6L321 298.3L319 297.4L317 296.7L315 296.1L313 295.6L311 295.4L309 295.3L307 295.5L305 295.8L303 296L301 296.3L299 296.7L297 297.1L295 297.5L293 298L291 298.5L289 299.1L287 299.9L285 300.9L283 302.1L281 303.4L279 304.7L277 305.9L275 307L273 307.8L271 308.4L269 308.9L267 309.4L265 309.8L263 310.2L261 310.6L259 310.9L257 311.2L255 311.6L253 312.1L251 312.5L249 313L247 313.5L245 314.1L243 314.9L241 315.7L239 316.5L237 317.2L235 317.7L233 318.2L231 318.5L229 318.9L227 319.2L225 319.5L223 319.7L221 320L219 320.3L217 320.5L215 320.8L213 321.1L211 321.4L209 321.7L207 321.9L205 322.1L203 322.2L201 322.3L199 322.4L197 322.5L195 322.5L193 322.6L191 322.6L189 322.7L187 322.7L185 322.8L183 322.8L181 322.9L179 322.9L177 323L175 323.1L173 323.1L171 323.2L169 323.3L167 323.6L165 323.9L163 324.2L161 324.6L159 325L157 325.2L155 325.5L153 325.7L151 325.9L149 326.2L147 326.4L145 326.5L143 326.7L141 326.7L139 326.8L137 326.9L135 326.9L133 327L131 327L129 327L127 327L125 327.1L123 327.1L121 327.1L119 327L117 327L115 327L113 326.9L111 326.7L109 326.4L107 325.9L105 325.3L103 324.6L101 323.9L99 323.3L97 322.6L95 322L93 321.3L91 320.6L89 319.9L87 319.2L85 318.5L83 317.7L81 316.9L79 316L77 315.2L75 314.5L73 314L71 313.8L69 313.8Z" fill-opacity="0.14"/><path d="M69 301.1L71 301.1L73 301.1L75 301L77 301L79 300.9L81 300.8L83 300.8L85 300.7L87 300.7L89 300.6L91 300.6L93 300.6L95 300.6L97 300.5L99 300.5L101 300.4L103 300.3L105 300.2L107 300L109 299.9L111 299.8L113 299.8L115 299.9L117 299.9L119 300L121 300.1L123 300.1L125 300.2L127 300.2L129 300.3L131 300.3L133 300.3L135 300.4L137 300.4L139 300.4L141 300.4L143 300.4L145 300.3L147 300.2L149 300L151 299.8L153 299.7L155 299.5L157 299.3L159 299.1L161 298.9L163 298.7L165 298.5L167 298.3L169 298.2L171 298.1L173 298L175 298L177 298L179 298L181 298L183 297.9L185 297.8L187 297.7L189 297.5L191 297.3L193 297L195 296.6L197 296.3L199 295.9L201 295.5L203 295.1L205 294.7L207 294.2L209 293.7L211 293.2L213 292.6L215 292.1L217 291.6L219 291.1L221 290.7L223 290.3L225 289.9L227 289.5L229 289.2L231 288.8L233 288.3L235 287.9L237 287.5L239 287L241 286.6L243 286.1L245 285.6L247 284.9L249 284.1L251 283.1L253 281.9L255 280.7L257 279.8L259 278.8L261 277.9L263 277L265 276.1L267 275.3L269 274.6L271 274L273 273.5L275 273.1L277 272.8L279 272.5L281 272.3L283 272.1L285 271.9L287 271.8L289 271.6L291 271.5L293 271.4L295 271.3L297 271.2L299 271.1L301 271L303 270.9L305 270.8L307 270.7L309 270.6L311 270.5L313 270.6L315 270.8L317 271.1L319 271.4L321 271.7L323 272.2L325 272.9L327 273.8L329 274.8L331 276.3L333 278.5L335 281.3L337 284L339 286.1L341 287.4L343 288.3L345 289L347 289.5L349 289.8L351 289.9L353 290L355 290.1L357 290.1L359 290.1L361 290L363 289.9L365 289.8L367 289.6L369 289.4L371 289.3L373 289.1L375 288.9L377 288.7L379 288.6L381 288.5L383 288.5L385 288.4L387 288.4L389 288.4L391 288.4L393 288.5L395 288.7L397 288.8L399 289.1L401 289.5L403 289.9L405 290.4L407 290.7L409 290.9L411 291L413 291L415 291L417 291L419 291L421 291.1L423 291.2L425 291.4L427 291.7L429 291.9L431 292.1L433 292.3L435 292.3L437 292.4L439 292.4L441 292.3L443 292.3L445 292.2L447 292L449 291.7L451 291.3L453 290.9L455 290.5L457 290.1L459 289.9L461 289.6L463 289.4L465 289.2L467 289.2L467 330L465 329.9L463 329.4L461 328.6L459 327.7L457 326.9L455 326.2L453 325.4L451 324.7L449 324L447 323.2L445 322.5L443 321.8L441 321.2L439 320.5L437 319.9L435 319.5L433 319L431 318.6L429 318.2L427 317.8L425 317.4L423 316.9L421 316.4L419 315.9L417 315.4L415 314.8L413 314.2L411 313.7L409 313.1L407 312.5L405 311.9L403 311.3L401 310.6L399 310L397 309.5L395 309L393 308.5L391 308.1L389 307.8L387 307.6L385 307.4L383 307.2L381 307.1L379 307.1L377 307.2L375 307.6L373 308L371 308.6L369 309.1L367 309.7L365 310.3L363 310.9L361 311.3L359 311.5L357 311.5L355 311.5L353 311.5L351 311.5L349 311.4L347 311.2L345 310.7L343 310.1L341 309.4L339 308.6L337 307.7L335 306.7L333 305.7L331 304.5L329 303.3L327 301.8L325 300.2L323 298.7L321 297.5L319 296.6L317 295.8L315 295.2L313 294.8L311 294.5L309 294.5L307 294.6L305 294.9L303 295.2L301 295.5L299 295.8L297 296.2L295 296.7L293 297.1L291 297.7L289 298.2L287 299L285 300L283 301.2L281 302.5L279 303.8L277 305L275 306L273 306.8L271 307.4L269 307.9L267 308.4L265 308.8L263 309.2L261 309.6L259 309.9L257 310.2L255 310.6L253 311L251 311.4L249 311.9L247 312.4L245 313L243 313.7L241 314.6L239 315.4L237 316.1L235 316.7L233 317.1L231 317.5L229 317.9L227 318.2L225 318.5L223 318.8L221 319L219 319.3L217 319.6L215 319.8L213 320.1L211 320.4L209 320.7L207 320.9L205 321.1L203 321.2L201 321.3L199 321.4L197 321.4L195 321.5L193 321.5L191 321.6L189 321.6L187 321.7L185 321.7L183 321.8L181 321.8L179 321.9L177 321.9L175 322L173 322.1L171 322.2L169 322.3L167 322.5L165 322.8L163 323.1L161 323.5L159 323.8L157 324.1L155 324.3L153 324.5L151 324.8L149 325L147 325.1L145 325.3L143 325.4L141 325.5L139 325.6L137 325.6L135 325.7L133 325.7L131 325.8L129 325.8L127 325.8L125 325.8L123 325.8L121 325.8L119 325.8L117 325.8L115 325.8L113 325.7L111 325.6L109 325.3L107 324.9L105 324.3L103 323.7L101 323L99 322.4L97 321.8L95 321.2L93 320.5L91 319.8L89 319.2L87 318.5L85 317.8L83 317L81 316.2L79 315.3L77 314.5L75 313.8L73 313.4L71 313.1L69 313.1Z" fill-opacity="0.18"/><path d="M69 301.4L71 301.4L73 301.4L75 301.4L77 301.3L79 301.3L81 301.2L83 301.1L85 301.1L87 301.1L89 301L91 301L93 301L95 301L97 301L99 301L101 300.9L103 300.9L105 300.8L107 300.7L109 300.6L111 300.6L113 300.7L115 300.7L117 300.8L119 300.9L121 301L123 301L125 301.1L127 301.1L129 301.2L131 301.2L133 301.2L135 301.3L137 301.3L139 301.3L141 301.3L143 301.3L145 301.2L147 301L149 300.9L151 300.7L153 300.5L155 300.3L157 300.1L159 299.9L161 299.6L163 299.4L165 299.1L167 298.9L169 298.8L171 298.7L173 298.6L175 298.6L177 298.6L179 298.5L181 298.5L183 298.5L185 298.4L187 298.3L189 298.1L191 297.8L193 297.6L195 297.2L197 296.8L199 296.5L201 296.1L203 295.7L205 295.3L207 294.8L209 294.3L211 293.8L213 293.2L215 292.7L217 292.2L219 291.7L221 291.3L223 290.9L225 290.5L227 290.1L229 289.8L231 289.4L233 288.9L235 288.5L237 288L239 287.6L241 287.1L243 286.6L245 286.1L247 285.4L249 284.6L251 283.6L253 282.4L255 281.3L257 280.4L259 279.4L261 278.5L263 277.6L265 276.7L267 275.9L269 275.2L271 274.6L273 274.1L275 273.7L277 273.4L279 273.1L281 272.8L283 272.6L285 272.4L287 272.3L289 272.1L291 272L293 271.9L295 271.8L297 271.7L299 271.6L301 271.5L303 271.4L305 271.3L307 271.2L309 271.1L311 271L313 271.1L315 271.3L317 271.6L319 271.9L321 272.2L323 272.7L325 273.4L327 274.3L329 275.4L331 276.9L333 279L335 281.8L337 284.4L339 286.5L341 287.8L343 288.7L345 289.4L347 289.9L349 290.2L351 290.3L353 290.4L355 290.4L357 290.4L359 290.4L361 290.4L363 290.3L365 290.1L367 290L369 289.8L371 289.6L373 289.4L375 289.2L377 289.1L379 289L381 288.9L383 288.8L385 288.8L387 288.8L389 288.8L391 288.8L393 288.9L395 289L397 289.2L399 289.4L401 289.8L403 290.3L405 290.7L407 291.1L409 291.3L411 291.4L413 291.5L415 291.5L417 291.5L419 291.5L421 291.6L423 291.7L425 292L427 292.2L429 292.4L431 292.7L433 292.8L435 292.9L437 292.9L439 293L441 292.9L443 292.9L445 292.8L447 292.7L449 292.4L451 292.1L453 291.7L455 291.3L457 291L459 290.8L461 290.6L463 290.4L465 290.3L467 290.3L467 327.4L465 327.3L463 326.8L461 326.1L459 325.4L457 324.7L455 324.1L453 323.4L451 322.8L449 322.2L447 321.6L445 321L443 320.4L441 319.8L439 319.3L437 318.8L435 318.3L433 317.9L431 317.6L429 317.2L427 316.7L425 316.3L423 315.8L421 315.4L419 314.9L417 314.4L415 313.8L413 313.3L411 312.7L409 312.1L407 311.6L405 310.9L403 310.3L401 309.7L399 309.1L397 308.6L395 308.1L393 307.6L391 307.2L389 306.9L387 306.6L385 306.4L383 306.2L381 306.1L379 306.1L377 306.3L375 306.6L373 307.1L371 307.6L369 308.1L367 308.8L365 309.4L363 310L361 310.4L359 310.6L357 310.7L355 310.7L353 310.7L351 310.6L349 310.6L347 310.3L345 309.8L343 309.2L341 308.4L339 307.6L337 306.7L335 305.8L333 304.7L331 303.6L329 302.3L327 300.9L325 299.3L323 297.8L321 296.6L319 295.7L317 295L315 294.4L313 293.9L311 293.7L309 293.6L307 293.8L305 294.1L303 294.3L301 294.6L299 295L297 295.4L295 295.8L293 296.3L291 296.8L289 297.4L287 298.2L285 299.1L283 300.3L281 301.5L279 302.8L277 304L275 305L273 305.8L271 306.4L269 306.9L267 307.4L265 307.8L263 308.2L261 308.6L259 308.9L257 309.2L255 309.6L253 309.9L251 310.3L249 310.8L247 311.2L245 311.8L243 312.6L241 313.5L239 314.3L237 315L235 315.6L233 316.1L231 316.5L229 316.9L227 317.2L225 317.5L223 317.8L221 318.1L219 318.4L217 318.6L215 318.9L213 319.1L211 319.4L209 319.6L207 319.9L205 320L203 320.1L201 320.2L199 320.3L197 320.4L195 320.4L193 320.5L191 320.5L189 320.6L187 320.6L185 320.7L183 320.7L181 320.8L179 320.8L177 320.9L175 321L173 321L171 321.1L169 321.2L167 321.4L165 321.7L163 322.1L161 322.4L159 322.7L157 322.9L155 323.2L153 323.4L151 323.6L149 323.7L147 323.9L145 324L143 324.2L141 324.2L139 324.3L137 324.4L135 324.4L133 324.5L131 324.5L129 324.6L127 324.6L125 324.6L123 324.6L121 324.6L119 324.6L117 324.6L115 324.6L113 324.5L111 324.4L109 324.2L107 323.8L105 323.3L103 322.7L101 322.1L99 321.6L97 321L95 320.4L93 319.8L91 319.1L89 318.4L87 317.8L85 317.1L83 316.3L81 315.5L79 314.7L77 313.8L75 313.2L73 312.7L71 312.5L69 312.4Z" fill-opacity="0.24"/><path d="M69 301.7L71 301.7L73 301.7L75 301.7L77 301.6L79 301.6L81 301.6L83 301.5L85 301.5L87 301.5L89 301.5L91 301.5L93 301.5L95 301.5L97 301.5L99 301.5L101 301.5L103 301.5L105 301.4L107 301.4L109 301.4L111 301.4L113 301.5L115 301.6L117 301.7L119 301.8L121 301.9L123 301.9L125 302L127 302L129 302.1L131 302.1L133 302.1L135 302.2L137 302.2L139 302.2L141 302.2L143 302.2L145 302.1L147 301.9L149 301.7L151 301.5L153 301.3L155 301.1L157 300.9L159 300.7L161 300.4L163 300.1L165 299.8L167 299.6L169 299.4L171 299.3L173 299.2L175 299.2L177 299.1L179 299.1L181 299.1L183 299L185 298.9L187 298.8L189 298.6L191 298.4L193 298.1L195 297.8L197 297.4L199 297.1L201 296.7L203 296.3L205 295.9L207 295.4L209 294.9L211 294.4L213 293.8L215 293.3L217 292.8L219 292.3L221 291.9L223 291.5L225 291.1L227 290.7L229 290.4L231 290L233 289.5L235 289.1L237 288.6L239 288.2L241 287.7L243 287.2L245 286.6L247 285.9L249 285.1L251 284.1L253 283L255 281.9L257 280.9L259 280L261 279.1L263 278.2L265 277.3L267 276.5L269 275.8L271 275.2L273 274.7L275 274.3L277 274L279 273.7L281 273.4L283 273.2L285 272.9L287 272.8L289 272.6L291 272.5L293 272.4L295 272.3L297 272.2L299 272.1L301 272L303 271.9L305 271.8L307 271.7L309 271.6L311 271.5L313 271.6L315 271.8L317 272.1L319 272.4L321 272.7L323 273.3L325 274L327 274.8L329 275.9L331 277.4L333 279.6L335 282.2L337 284.9L339 286.9L341 288.2L343 289.1L345 289.7L347 290.2L349 290.5L351 290.6L353 290.7L355 290.8L357 290.8L359 290.8L361 290.7L363 290.6L365 290.5L367 290.3L369 290.1L371 290L373 289.8L375 289.6L377 289.4L379 289.3L381 289.2L383 289.2L385 289.1L387 289.1L389 289.1L391 289.1L393 289.2L395 289.4L397 289.5L399 289.8L401 290.2L403 290.6L405 291.1L407 291.5L409 291.7L411 291.8L413 291.9L415 291.9L417 291.9L419 292L421 292.1L423 292.2L425 292.5L427 292.7L429 293L431 293.2L433 293.3L435 293.4L437 293.5L439 293.5L441 293.5L443 293.5L445 293.5L447 293.4L449 293.2L451 292.8L453 292.4L455 292.1L457 291.8L459 291.7L461 291.6L463 291.4L465 291.4L467 291.3L467 324.8L465 324.7L463 324.3L461 323.7L459 323.1L457 322.5L455 322L453 321.4L451 320.9L449 320.4L447 319.9L445 319.5L443 319L441 318.5L439 318L437 317.6L435 317.2L433 316.9L431 316.5L429 316.1L427 315.7L425 315.2L423 314.8L421 314.3L419 313.9L417 313.4L415 312.8L413 312.3L411 311.7L409 311.2L407 310.6L405 310L403 309.4L401 308.7L399 308.1L397 307.6L395 307.1L393 306.6L391 306.2L389 305.9L387 305.7L385 305.5L383 305.3L381 305.2L379 305.2L377 305.3L375 305.7L373 306.1L371 306.7L369 307.2L367 307.8L365 308.5L363 309.1L361 309.6L359 309.8L357 309.8L355 309.8L353 309.8L351 309.8L349 309.7L347 309.5L345 308.9L343 308.3L341 307.5L339 306.7L337 305.8L335 304.8L333 303.8L331 302.6L329 301.4L327 300L325 298.4L323 296.9L321 295.7L319 294.9L317 294.1L315 293.5L313 293.1L311 292.8L309 292.8L307 292.9L305 293.2L303 293.5L301 293.8L299 294.1L297 294.5L295 295L293 295.4L291 296L289 296.5L287 297.3L285 298.3L283 299.4L281 300.6L279 301.9L277 303L275 304L273 304.8L271 305.4L269 305.9L267 306.4L265 306.8L263 307.2L261 307.6L259 307.9L257 308.2L255 308.6L253 308.9L251 309.2L249 309.6L247 310.1L245 310.7L243 311.5L241 312.3L239 313.2L237 314L235 314.6L233 315.1L231 315.5L229 315.9L227 316.2L225 316.6L223 316.9L221 317.1L219 317.4L217 317.7L215 317.9L213 318.2L211 318.4L209 318.6L207 318.8L205 319L203 319.1L201 319.2L199 319.3L197 319.3L195 319.4L193 319.4L191 319.5L189 319.5L187 319.6L185 319.6L183 319.7L181 319.7L179 319.8L177 319.8L175 319.9L173 320L171 320.1L169 320.2L167 320.4L165 320.7L163 321L161 321.3L159 321.6L157 321.8L155 322L153 322.2L151 322.4L149 322.5L147 322.7L145 322.8L143 322.9L141 323L139 323.1L137 323.1L135 323.2L133 323.2L131 323.3L129 323.3L127 323.3L125 323.4L123 323.4L121 323.4L119 323.4L117 323.4L115 323.4L113 323.3L111 323.3L109 323.1L107 322.8L105 322.3L103 321.8L101 321.2L99 320.7L97 320.2L95 319.6L93 319L91 318.4L89 317.7L87 317L85 316.4L83 315.7L81 314.8L79 314L77 313.2L75 312.5L73 312.1L71 311.8L69 311.8Z" fill-opacity="0.31"/><path d="M69 302L71 302L73 302L75 302L77 302L79 302L81 301.9L83 301.9L85 301.9L87 301.9L89 301.9L91 301.9L93 301.9L95 302L97 302L99 302L101 302L103 302L105 302.1L107 302.1L109 302.1L111 302.2L113 302.4L115 302.5L117 302.6L119 302.7L121 302.8L123 302.8L125 302.9L127 302.9L129 303L131 303L133 303L135 303.1L137 303.1L139 303.1L141 303.1L143 303L145 302.9L147 302.8L149 302.6L151 302.4L153 302.2L155 301.9L157 301.7L159 301.4L161 301.1L163 300.8L165 300.5L167 300.2L169 300L171 299.9L173 299.8L175 299.7L177 299.7L179 299.7L181 299.6L183 299.6L185 299.5L187 299.4L189 299.2L191 299L193 298.7L195 298.4L197 298L199 297.7L201 297.3L203 296.9L205 296.5L207 296L209 295.5L211 295L213 294.4L215 293.9L217 293.4L219 292.9L221 292.5L223 292.1L225 291.7L227 291.3L229 291L231 290.6L233 290.1L235 289.7L237 289.2L239 288.7L241 288.2L243 287.7L245 287.1L247 286.4L249 285.6L251 284.7L253 283.6L255 282.5L257 281.5L259 280.6L261 279.7L263 278.8L265 277.9L267 277.1L269 276.4L271 275.8L273 275.3L275 274.9L277 274.6L279 274.2L281 273.9L283 273.7L285 273.5L287 273.3L289 273.1L291 273L293 272.9L295 272.8L297 272.7L299 272.6L301 272.5L303 272.4L305 272.3L307 272.2L309 272.1L311 272L313 272.1L315 272.3L317 272.6L319 272.9L321 273.2L323 273.8L325 274.5L327 275.4L329 276.4L331 277.9L333 280.1L335 282.7L337 285.3L339 287.3L341 288.6L343 289.4L345 290.1L347 290.6L349 290.9L351 291L353 291.1L355 291.1L357 291.1L359 291.1L361 291.1L363 291L365 290.8L367 290.7L369 290.5L371 290.3L373 290.1L375 289.9L377 289.8L379 289.7L381 289.6L383 289.5L385 289.5L387 289.5L389 289.5L391 289.5L393 289.6L395 289.7L397 289.9L399 290.1L401 290.5L403 291L405 291.5L407 291.9L409 292.1L411 292.3L413 292.3L415 292.4L417 292.4L419 292.5L421 292.6L423 292.8L425 293L427 293.3L429 293.5L431 293.7L433 293.9L435 294L437 294.1L439 294.1L441 294.1L443 294.1L445 294.1L447 294.1L449 293.9L451 293.6L453 293.2L455 292.9L457 292.7L459 292.6L461 292.5L463 292.5L465 292.4L467 292.4L467 322.1L465 322.1L463 321.7L461 321.3L459 320.7L457 320.3L455 319.9L453 319.5L451 319.1L449 318.7L447 318.3L445 317.9L443 317.5L441 317.2L439 316.8L437 316.4L435 316.1L433 315.8L431 315.4L429 315L427 314.6L425 314.2L423 313.7L421 313.3L419 312.8L417 312.3L415 311.8L413 311.3L411 310.8L409 310.2L407 309.7L405 309L403 308.4L401 307.8L399 307.2L397 306.7L395 306.2L393 305.7L391 305.3L389 305L387 304.7L385 304.5L383 304.3L381 304.2L379 304.2L377 304.4L375 304.7L373 305.2L371 305.7L369 306.3L367 306.9L365 307.6L363 308.3L361 308.7L359 308.9L357 309L355 309L353 309L351 308.9L349 308.9L347 308.6L345 308L343 307.3L341 306.5L339 305.7L337 304.8L335 303.9L333 302.8L331 301.7L329 300.5L327 299L325 297.5L323 296.1L321 294.9L319 294L317 293.3L315 292.7L313 292.2L311 292L309 291.9L307 292.1L305 292.4L303 292.6L301 292.9L299 293.3L297 293.7L295 294.1L293 294.6L291 295.1L289 295.7L287 296.4L285 297.4L283 298.5L281 299.7L279 300.9L277 302L275 303L273 303.8L271 304.4L269 304.9L267 305.4L265 305.8L263 306.2L261 306.6L259 306.9L257 307.2L255 307.5L253 307.8L251 308.1L249 308.5L247 308.9L245 309.6L243 310.4L241 311.2L239 312.1L237 312.9L235 313.5L233 314L231 314.5L229 314.9L227 315.2L225 315.6L223 315.9L221 316.2L219 316.4L217 316.7L215 316.9L213 317.2L211 317.4L209 317.6L207 317.8L205 317.9L203 318L201 318.1L199 318.2L197 318.3L195 318.3L193 318.4L191 318.4L189 318.5L187 318.5L185 318.6L183 318.6L181 318.7L179 318.7L177 318.8L175 318.9L173 318.9L171 319L169 319.1L167 319.3L165 319.6L163 319.9L161 320.2L159 320.4L157 320.6L155 320.8L153 321L151 321.2L149 321.3L147 321.4L145 321.6L143 321.7L141 321.7L139 321.8L137 321.9L135 321.9L133 322L131 322L129 322.1L127 322.1L125 322.1L123 322.2L121 322.2L119 322.2L117 322.2L115 322.2L113 322.2L111 322.1L109 322L107 321.7L105 321.3L103 320.8L101 320.3L99 319.8L97 319.4L95 318.8L93 318.2L91 317.6L89 317L87 316.3L85 315.7L83 315L81 314.2L79 313.3L77 312.5L75 311.9L73 311.4L71 311.2L69 311.1Z" fill-opacity="0.38"/><path d="M69 302.3L71 302.3L73 302.3L75 302.3L77 302.3L79 302.3L81 302.3L83 302.3L85 302.3L87 302.3L89 302.3L91 302.3L93 302.4L95 302.4L97 302.5L99 302.5L101 302.6L103 302.6L105 302.7L107 302.8L109 302.9L111 303L113 303.2L115 303.4L117 303.5L119 303.6L121 303.7L123 303.7L125 303.8L127 303.8L129 303.9L131 303.9L133 303.9L135 304L137 304L139 304L141 304L143 303.9L145 303.8L147 303.7L149 303.5L151 303.2L153 303L155 302.7L157 302.5L159 302.2L161 301.9L163 301.5L165 301.1L167 300.8L169 300.6L171 300.5L173 300.4L175 300.3L177 300.3L179 300.2L181 300.2L183 300.1L185 300L187 299.9L189 299.8L191 299.5L193 299.3L195 298.9L197 298.6L199 298.2L201 297.9L203 297.5L205 297.1L207 296.6L209 296.1L211 295.6L213 295L215 294.5L217 294L219 293.5L221 293.1L223 292.7L225 292.3L227 291.9L229 291.6L231 291.2L233 290.7L235 290.3L237 289.8L239 289.3L241 288.8L243 288.2L245 287.6L247 286.9L249 286.1L251 285.2L253 284.1L255 283.1L257 282.1L259 281.2L261 280.3L263 279.4L265 278.5L267 277.7L269 277L271 276.4L273 275.9L275 275.5L277 275.1L279 274.8L281 274.5L283 274.2L285 274L287 273.8L289 273.6L291 273.5L293 273.4L295 273.3L297 273.2L299 273.1L301 273L303 272.9L305 272.8L307 272.7L309 272.6L311 272.5L313 272.6L315 272.8L317 273.1L319 273.4L321 273.7L323 274.3L325 275L327 275.9L329 277L331 278.5L333 280.6L335 283.2L337 285.8L339 287.7L341 289L343 289.8L345 290.5L347 290.9L349 291.2L351 291.3L353 291.4L355 291.5L357 291.5L359 291.5L361 291.4L363 291.3L365 291.2L367 291L369 290.8L371 290.7L373 290.5L375 290.3L377 290.1L379 290L381 289.9L383 289.9L385 289.8L387 289.8L389 289.8L391 289.8L393 289.9L395 290.1L397 290.2L399 290.5L401 290.9L403 291.4L405 291.9L407 292.3L409 292.5L411 292.7L413 292.8L415 292.8L417 292.9L419 293L421 293.1L423 293.3L425 293.5L427 293.8L429 294.1L431 294.3L433 294.4L435 294.5L437 294.6L439 294.7L441 294.7L443 294.8L445 294.8L447 294.7L449 294.6L451 294.3L453 294L455 293.7L457 293.6L459 293.5L461 293.5L463 293.5L465 293.5L467 293.5L467 319.5L465 319.4L463 319.2L461 318.8L459 318.4L457 318.1L455 317.8L453 317.5L451 317.2L449 316.9L447 316.6L445 316.4L443 316.1L441 315.8L439 315.6L437 315.3L435 315L433 314.7L431 314.3L429 313.9L427 313.5L425 313.1L423 312.7L421 312.2L419 311.8L417 311.3L415 310.8L413 310.3L411 309.8L409 309.3L407 308.7L405 308.1L403 307.5L401 306.8L399 306.2L397 305.7L395 305.2L393 304.7L391 304.3L389 304L387 303.8L385 303.6L383 303.4L381 303.3L379 303.3L377 303.4L375 303.8L373 304.2L371 304.8L369 305.3L367 306L365 306.7L363 307.4L361 307.9L359 308.1L357 308.1L355 308.1L353 308.1L351 308.1L349 308L347 307.7L345 307.1L343 306.4L341 305.6L339 304.8L337 303.9L335 302.9L333 301.9L331 300.8L329 299.5L327 298.1L325 296.6L323 295.2L321 294L319 293.2L317 292.4L315 291.8L313 291.4L311 291.1L309 291.1L307 291.2L305 291.5L303 291.8L301 292.1L299 292.4L297 292.8L295 293.3L293 293.7L291 294.3L289 294.8L287 295.6L285 296.5L283 297.6L281 298.8L279 300L277 301.1L275 302L273 302.8L271 303.4L269 303.9L267 304.4L265 304.8L263 305.2L261 305.6L259 305.9L257 306.2L255 306.5L253 306.8L251 307L249 307.4L247 307.8L245 308.4L243 309.2L241 310.1L239 311L237 311.8L235 312.5L233 313L231 313.4L229 313.9L227 314.3L225 314.6L223 314.9L221 315.2L219 315.5L217 315.7L215 316L213 316.2L211 316.4L209 316.6L207 316.8L205 316.9L203 317L201 317.1L199 317.2L197 317.2L195 317.3L193 317.3L191 317.4L189 317.4L187 317.5L185 317.5L183 317.6L181 317.6L179 317.7L177 317.7L175 317.8L173 317.9L171 318L169 318.1L167 318.3L165 318.5L163 318.8L161 319L159 319.3L157 319.5L155 319.7L153 319.8L151 320L149 320.1L147 320.2L145 320.3L143 320.4L141 320.5L139 320.6L137 320.6L135 320.7L133 320.7L131 320.8L129 320.8L127 320.9L125 320.9L123 320.9L121 321L119 321L117 321L115 321L113 321L111 321L109 320.9L107 320.6L105 320.3L103 319.9L101 319.4L99 319L97 318.5L95 318L93 317.5L91 316.9L89 316.2L87 315.6L85 315L83 314.3L81 313.5L79 312.6L77 311.9L75 311.2L73 310.7L71 310.5L69 310.5Z" fill-opacity="0.44"/><path d="M69 302.9L71 302.9L73 302.9L75 302.9L77 303L79 303L81 303L83 303.1L85 303.1L87 303.1L89 303.2L91 303.2L93 303.3L95 303.3L97 303.4L99 303.5L101 303.6L103 303.8L105 304L107 304.2L109 304.4L111 304.6L113 304.9L115 305.2L117 305.3L119 305.4L121 305.5L123 305.5L125 305.6L127 305.6L129 305.7L131 305.7L133 305.7L135 305.8L137 305.8L139 305.8L141 305.8L143 305.7L145 305.6L147 305.4L149 305.2L151 305L153 304.7L155 304.4L157 304.1L159 303.7L161 303.3L163 302.9L165 302.5L167 302.1L169 301.8L171 301.7L173 301.5L175 301.5L177 301.4L179 301.3L181 301.3L183 301.2L185 301.1L187 301L189 300.9L191 300.7L193 300.4L195 300.1L197 299.8L199 299.4L201 299.1L203 298.7L205 298.3L207 297.8L209 297.3L211 296.8L213 296.2L215 295.7L217 295.2L219 294.7L221 294.3L223 293.9L225 293.5L227 293.1L229 292.8L231 292.4L233 291.9L235 291.5L237 291L239 290.5L241 289.9L243 289.3L245 288.6L247 287.9L249 287.2L251 286.3L253 285.3L255 284.3L257 283.3L259 282.4L261 281.5L263 280.6L265 279.7L267 278.9L269 278.2L271 277.6L273 277.1L275 276.7L277 276.3L279 275.9L281 275.6L283 275.3L285 275L287 274.8L289 274.6L291 274.5L293 274.4L295 274.3L297 274.2L299 274.1L301 274L303 273.9L305 273.8L307 273.7L309 273.6L311 273.5L313 273.6L315 273.8L317 274.1L319 274.4L321 274.7L323 275.3L325 276.1L327 277L329 278.1L331 279.6L333 281.6L335 284.2L337 286.6L339 288.6L341 289.8L343 290.6L345 291.2L347 291.7L349 291.9L351 292L353 292.1L355 292.2L357 292.2L359 292.2L361 292.1L363 292L365 291.9L367 291.7L369 291.5L371 291.4L373 291.2L375 291L377 290.8L379 290.7L381 290.6L383 290.6L385 290.5L387 290.5L389 290.5L391 290.5L393 290.6L395 290.8L397 290.9L399 291.2L401 291.6L403 292.1L405 292.6L407 293L409 293.3L411 293.5L413 293.6L415 293.7L417 293.8L419 293.9L421 294.1L423 294.3L425 294.6L427 294.8L429 295.1L431 295.4L433 295.5L435 295.7L437 295.7L439 295.8L441 295.9L443 296L445 296.1L447 296.1L449 296L451 295.8L453 295.6L455 295.4L457 295.3L459 295.3L461 295.4L463 295.6L465 295.6L467 295.7L467 314.2L465 314.2L463 314.1L461 314L459 313.8L457 313.6L455 313.6L453 313.5L451 313.4L449 313.4L447 313.3L445 313.3L443 313.2L441 313.2L439 313.1L437 313L435 312.7L433 312.5L431 312.1L429 311.8L427 311.4L425 311L423 310.5L421 310.1L419 309.7L417 309.3L415 308.8L413 308.4L411 307.9L409 307.4L407 306.8L405 306.2L403 305.6L401 304.9L399 304.3L397 303.8L395 303.3L393 302.8L391 302.4L389 302.1L387 301.9L385 301.7L383 301.5L381 301.4L379 301.4L377 301.5L375 301.9L373 302.3L371 302.9L369 303.4L367 304.1L365 304.9L363 305.6L361 306.1L359 306.4L357 306.4L355 306.4L353 306.4L351 306.4L349 306.3L347 306L345 305.4L343 304.6L341 303.7L339 302.9L337 302L335 301L333 300L331 298.9L329 297.6L327 296.3L325 294.8L323 293.4L321 292.3L319 291.5L317 290.7L315 290.1L313 289.7L311 289.4L309 289.4L307 289.5L305 289.8L303 290.1L301 290.4L299 290.7L297 291.1L295 291.6L293 292L291 292.6L289 293.1L287 293.9L285 294.8L283 295.8L281 296.9L279 298.1L277 299.1L275 300.1L273 300.8L271 301.4L269 301.9L267 302.4L265 302.8L263 303.2L261 303.6L259 303.9L257 304.2L255 304.5L253 304.7L251 304.9L249 305.1L247 305.5L245 306.2L243 307L241 307.9L239 308.9L237 309.7L235 310.4L233 310.9L231 311.4L229 311.9L227 312.3L225 312.7L223 313L221 313.3L219 313.6L217 313.8L215 314L213 314.2L211 314.4L209 314.6L207 314.7L205 314.8L203 314.9L201 315L199 315.1L197 315.1L195 315.2L193 315.2L191 315.3L189 315.3L187 315.4L185 315.4L183 315.5L181 315.5L179 315.6L177 315.6L175 315.7L173 315.8L171 315.9L169 316L167 316.1L165 316.3L163 316.6L161 316.8L159 317L157 317.2L155 317.3L153 317.5L151 317.6L149 317.7L147 317.8L145 317.9L143 317.9L141 318L139 318.1L137 318.1L135 318.2L133 318.2L131 318.3L129 318.4L127 318.4L125 318.5L123 318.5L121 318.5L119 318.6L117 318.6L115 318.6L113 318.7L111 318.7L109 318.7L107 318.5L105 318.3L103 318L101 317.7L99 317.3L97 316.9L95 316.4L93 315.9L91 315.4L89 314.8L87 314.2L85 313.6L83 312.9L81 312.1L79 311.3L77 310.5L75 309.9L73 309.4L71 309.2L69 309.2Z" fill-opacity="0.7"/><path d="M69 303.8L71 303.8L73 303.8L75 303.9L77 303.9L79 304L81 304.1L83 304.2L85 304.3L87 304.4L89 304.4L91 304.5L93 304.6L95 304.7L97 304.9L99 305L101 305.2L103 305.5L105 305.9L107 306.2L109 306.6L111 307L113 307.5L115 307.8L117 308L119 308.1L121 308.2L123 308.2L125 308.3L127 308.3L129 308.4L131 308.4L133 308.4L135 308.5L137 308.5L139 308.5L141 308.5L143 308.4L145 308.3L147 308.1L149 307.8L151 307.5L153 307.2L155 306.8L157 306.5L159 306.1L161 305.6L163 305L165 304.5L167 304L169 303.6L171 303.4L173 303.3L175 303.2L177 303.1L179 303L181 303L183 302.9L185 302.8L187 302.7L189 302.5L191 302.3L193 302.1L195 301.8L197 301.5L199 301.2L201 300.9L203 300.5L205 300.1L207 299.6L209 299.1L211 298.6L213 298L215 297.5L217 297L219 296.5L221 296.1L223 295.7L225 295.3L227 294.9L229 294.6L231 294.2L233 293.7L235 293.3L237 292.8L239 292.2L241 291.6L243 290.9L245 290.2L247 289.5L249 288.7L251 287.9L253 287L255 286.1L257 285.1L259 284.2L261 283.3L263 282.4L265 281.5L267 280.7L269 280L271 279.4L273 278.9L275 278.5L277 278L279 277.6L281 277.2L283 276.9L285 276.6L287 276.3L289 276.1L291 276L293 275.9L295 275.8L297 275.7L299 275.6L301 275.5L303 275.4L305 275.3L307 275.2L309 275.1L311 275L313 275.1L315 275.3L317 275.6L319 275.9L321 276.3L323 276.8L325 277.6L327 278.6L329 279.7L331 281.2L333 283.2L335 285.6L337 288L339 289.8L341 290.9L343 291.7L345 292.3L347 292.7L349 293L351 293.1L353 293.2L355 293.2L357 293.2L359 293.2L361 293.2L363 293.1L365 292.9L367 292.8L369 292.6L371 292.4L373 292.2L375 292L377 291.9L379 291.8L381 291.7L383 291.6L385 291.6L387 291.6L389 291.6L391 291.6L393 291.7L395 291.8L397 292L399 292.3L401 292.7L403 293.2L405 293.7L407 294.2L409 294.5L411 294.7L413 294.9L415 295.1L417 295.3L419 295.4L421 295.6L423 295.8L425 296.1L427 296.4L429 296.7L431 297L433 297.2L435 297.3L437 297.4L439 297.6L441 297.7L443 297.9L445 298L447 298.1L449 298.1L451 298L453 297.9L455 297.8L457 297.9L459 298.1L461 298.3L463 298.6L465 298.9L467 298.9L467 307L465 307L463 306.9L461 306.7L459 306.8L457 307L455 307.3L453 307.5L451 307.8L449 308.1L447 308.4L445 308.6L443 308.9L441 309.2L439 309.4L437 309.5L435 309.4L433 309.2L431 308.9L429 308.5L427 308.2L425 307.8L423 307.4L421 307L419 306.6L417 306.2L415 305.8L413 305.5L411 305L409 304.5L407 304L405 303.3L403 302.7L401 302.1L399 301.5L397 301L395 300.5L393 300L391 299.6L389 299.3L387 299L385 298.8L383 298.6L381 298.5L379 298.5L377 298.7L375 299L373 299.5L371 300L369 300.6L367 301.3L365 302.1L363 303L361 303.6L359 303.8L357 303.9L355 303.9L353 303.9L351 303.8L349 303.7L347 303.4L345 302.7L343 301.8L341 300.9L339 300L337 299.1L335 298.2L333 297.1L331 296L329 294.8L327 293.5L325 292.1L323 290.8L321 289.7L319 288.9L317 288.2L315 287.6L313 287.1L311 286.9L309 286.8L307 287L305 287.3L303 287.5L301 287.8L299 288.2L297 288.6L295 289L293 289.5L291 290L289 290.6L287 291.3L285 292.1L283 293.1L281 294.2L279 295.2L277 296.2L275 297.1L273 297.8L271 298.4L269 298.9L267 299.4L265 299.8L263 300.2L261 300.6L259 300.9L257 301.2L255 301.5L253 301.5L251 301.6L249 301.7L247 302.1L245 302.7L243 303.6L241 304.6L239 305.6L237 306.5L235 307.2L233 307.8L231 308.3L229 308.9L227 309.3L225 309.7L223 310.1L221 310.5L219 310.7L217 311L215 311.1L213 311.3L211 311.4L209 311.5L207 311.6L205 311.7L203 311.7L201 311.8L199 311.9L197 312L195 312L193 312.1L191 312.1L189 312.2L187 312.2L185 312.3L183 312.3L181 312.4L179 312.4L177 312.5L175 312.6L173 312.6L171 312.7L169 312.8L167 313L165 313.1L163 313.3L161 313.5L159 313.6L157 313.7L155 313.8L153 313.9L151 314L149 314L147 314.1L145 314.1L143 314.2L141 314.3L139 314.3L137 314.4L135 314.4L133 314.5L131 314.6L129 314.6L127 314.7L125 314.8L123 314.8L121 314.9L119 314.9L117 315L115 315L113 315.1L111 315.2L109 315.3L107 315.3L105 315.3L103 315.2L101 315L99 314.7L97 314.4L95 314L93 313.6L91 313.1L89 312.6L87 312.1L85 311.5L83 310.8L81 310.1L79 309.3L77 308.5L75 307.9L73 307.5L71 307.3L69 307.2Z" fill-opacity="1"/></g><g fill="#ffa500"><path d="M69 94.1L71 94.1L73 94.1L75 94.1L77 94.1L79 94L81 94L83 93.9L85 93.9L87 93.9L89 93.8L91 93.8L93 93.7L95 93.7L97 93.7L99 93.7L101 93.9L103 94.1L105 94.3L107 94.4L109 94.6L111 95.1L113 95.8L115 96.6L117 97.4L119 98.2L121 99.1L123 99.9L125 100.9L127 101.8L129 102.8L131 103.7L133 104.7L135 105.7L137 106.7L139 107.7L141 108.7L143 109.7L145 110.7L147 111.7L149 112.7L151 113.7L153 114.6L155 115.6L157 116.6L159 117.7L161 118.8L163 120L165 121.2L167 122.4L169 123.6L171 124.6L173 125.6L175 126.6L177 127.6L179 128.6L181 129.4L183 130L185 130.2L187 130.2L189 130L191 129.8L193 129.5L195 129.1L197 128.7L199 128.3L201 127.9L203 127.6L205 127.3L207 127L209 126.9L211 126.8L213 126.8L215 126.7L217 126.6L219 126.5L221 126.4L223 126.4L225 126.3L227 126.3L229 126.3L231 126.2L233 126.2L235 126.2L237 126.2L239 126.2L241 126.2L243 126.2L245 126.2L247 126.3L249 126.4L251 126.5L253 126.7L255 126.9L257 127.2L259 127.4L261 127.9L263 128.5L265 129.2L267 130.1L269 131.1L271 132.2L273 133.3L275 134.3L277 135.4L279 136.4L281 137.5L283 138.7L285 140L287 141.2L289 142.4L291 143.6L293 144.6L295 145.6L297 146.4L299 147.2L301 148L303 148.7L305 149.5L307 150.1L309 150.7L311 151.2L313 151.5L315 151.7L317 151.9L319 151.9L321 152L323 152L325 152L327 151.9L329 151.9L331 152L333 152L335 152.1L337 152.1L339 152.2L341 152.2L343 152.3L345 152.3L347 152.4L349 152.6L351 153L353 153.5L355 154.3L357 155.1L359 156.2L361 158L363 160.3L365 162.6L367 164.5L369 166.1L371 167.4L373 168.6L375 169.3L377 169.6L379 169.6L381 169.4L383 169.2L385 169L387 168.5L389 167.7L391 166.6L393 165.4L395 164.2L397 163L399 161.9L401 160.7L403 159.6L405 158.3L407 156.9L409 155.3L411 153.8L413 152.2L415 150.8L417 149.4L419 148.1L421 146.9L423 145.9L425 145.2L427 144.5L429 144L431 143.5L433 143L435 142.5L437 142L439 141.2L441 140.3L443 139.2L445 138.2L447 137.1L449 136L451 135L453 133.9L455 132.7L457 131.5L459 130.1L461 128.6L463 127.4L465 126.5L467 126.4L467 189.5L465 189.4L463 188.6L461 187.5L459 186.2L457 185L455 184L453 183L451 182.1L449 181.3L447 180.4L445 179.6L443 178.8L441 178.1L439 177.4L437 177L435 176.9L433 177L431 177.1L429 177.3L427 177.6L425 177.9L423 178.2L421 178.5L419 179L417 179.6L415 180.2L413 180.8L411 181.5L409 182.3L407 183.2L405 184.1L403 185.2L401 186.3L399 187.5L397 188.7L395 189.9L393 191.2L391 192.7L389 194L387 194.9L385 195.5L383 195.8L381 196.1L379 196.2L377 196.3L375 196.1L373 195.5L371 194.6L369 193.5L367 192.2L365 190.4L363 188L361 185.6L359 183.7L357 182.6L355 182.1L353 181.8L351 181.6L349 181.3L347 180.9L345 180.5L343 180L341 179.5L339 179.1L337 178.8L335 178.6L333 178.5L331 178.5L329 178.4L327 178.4L325 178.3L323 178.3L321 178.3L319 178.3L317 178.3L315 178.3L313 178.4L311 178.6L309 178.8L307 179.1L305 179.4L303 179.7L301 180L299 180.3L297 180.4L295 180.5L293 180.6L291 180.7L289 180.7L287 180.7L285 180.6L283 180.6L281 180.5L279 180.3L277 180.1L275 179.8L273 179.3L271 178.7L269 177.9L267 177.1L265 176.3L263 175.6L261 174.9L259 174.3L257 173.8L255 173.3L253 172.8L251 172.4L249 172L247 171.7L245 171.4L243 171.2L241 171L239 170.8L237 170.7L235 170.6L233 170.5L231 170.4L229 170.3L227 170.2L225 170.2L223 170.1L221 170.1L219 170.1L217 170L215 170L213 170L211 170L209 169.9L207 169.9L205 169.8L203 169.7L201 169.5L199 169.4L197 169.3L195 169.1L193 169L191 168.9L189 168.7L187 168.6L185 168.5L183 168.4L181 168.3L179 168.2L177 168L175 167.9L173 167.7L171 167.5L169 167.3L167 167.1L165 166.8L163 166.4L161 166L159 165.5L157 165L155 164.4L153 163.8L151 163.1L149 162.4L147 161.5L145 160.6L143 159.5L141 158.3L139 157L137 155.7L135 154.3L133 152.9L131 151.4L129 149.9L127 148.3L125 146.7L123 145.1L121 143.5L119 141.8L117 140.1L115 138.4L113 136.7L111 135.1L109 133.3L107 131.3L105 129.4L103 127.9L101 126.8L99 126.2L97 126L95 126L93 125.9L91 125.9L89 125.8L87 125.8L85 125.8L83 125.8L81 125.7L79 125.7L77 125.7L75 125.7L73 125.7L71 125.7L69 125.7Z" fill-opacity="0.03"/><path d="M69 95.1L71 95.1L73 95.1L75 95.1L77 95.1L79 95L81 95L83 94.9L85 94.9L87 94.9L89 94.8L91 94.8L93 94.7L95 94.7L97 94.7L99 94.7L101 94.9L103 95.1L105 95.4L107 95.5L109 95.8L111 96.3L113 97.1L115 97.9L117 98.7L119 99.5L121 100.3L123 101.2L125 102.1L127 103L129 104L131 105L133 106L135 106.9L137 107.9L139 108.9L141 110L143 111L145 112L147 113L149 114L151 114.9L153 115.9L155 116.9L157 117.9L159 118.9L161 120.1L163 121.3L165 122.5L167 123.8L169 124.9L171 126L173 127L175 128L177 129L179 130L181 130.8L183 131.3L185 131.5L187 131.5L189 131.4L191 131.2L193 130.9L195 130.6L197 130.2L199 129.9L201 129.6L203 129.3L205 129L207 128.8L209 128.7L211 128.6L213 128.6L215 128.5L217 128.4L219 128.3L221 128.2L223 128.2L225 128.1L227 128.1L229 128.1L231 128L233 128L235 128L237 128L239 128L241 128L243 128L245 128L247 128.1L249 128.2L251 128.3L253 128.5L255 128.7L257 129L259 129.2L261 129.6L263 130.2L265 131L267 131.8L269 132.8L271 133.8L273 134.8L275 135.8L277 136.8L279 137.8L281 138.9L283 140L285 141.2L287 142.4L289 143.5L291 144.6L293 145.7L295 146.6L297 147.4L299 148.2L301 148.9L303 149.7L305 150.4L307 151L309 151.6L311 152L313 152.4L315 152.6L317 152.7L319 152.8L321 152.9L323 152.9L325 152.9L327 152.9L329 152.9L331 152.9L333 153L335 153.1L337 153.1L339 153.2L341 153.2L343 153.3L345 153.3L347 153.4L349 153.6L351 153.9L353 154.5L355 155.2L357 156L359 157.1L361 158.9L363 161.2L365 163.5L367 165.4L369 167L371 168.3L373 169.5L375 170.2L377 170.5L379 170.4L381 170.3L383 170.1L385 169.8L387 169.4L389 168.6L391 167.5L393 166.3L395 165L397 163.9L399 162.8L401 161.6L403 160.4L405 159.2L407 157.8L409 156.3L411 154.7L413 153.2L415 151.8L417 150.4L419 149.1L421 148L423 147L425 146.3L427 145.7L429 145.1L431 144.7L433 144.2L435 143.7L437 143.2L439 142.6L441 141.7L443 140.8L445 139.8L447 138.9L449 137.9L451 137L453 136L455 135L457 133.9L459 132.7L461 131.4L463 130.3L465 129.5L467 129.4L467 186.5L465 186.4L463 185.7L461 184.7L459 183.6L457 182.6L455 181.7L453 180.9L451 180.1L449 179.4L447 178.7L445 178L443 177.3L441 176.7L439 176.1L437 175.8L435 175.7L433 175.8L431 175.9L429 176.1L427 176.4L425 176.7L423 177L421 177.4L419 177.9L417 178.5L415 179.2L413 179.9L411 180.6L409 181.4L407 182.3L405 183.2L403 184.3L401 185.4L399 186.6L397 187.8L395 189L393 190.4L391 191.8L389 193.1L387 194.1L385 194.6L383 195L381 195.2L379 195.4L377 195.4L375 195.2L373 194.7L371 193.8L369 192.7L367 191.3L365 189.5L363 187.2L361 184.7L359 182.8L357 181.7L355 181.2L353 180.9L351 180.6L349 180.3L347 179.9L345 179.5L343 179L341 178.5L339 178.1L337 177.8L335 177.6L333 177.5L331 177.5L329 177.5L327 177.4L325 177.4L323 177.4L321 177.4L319 177.4L317 177.4L315 177.4L313 177.6L311 177.7L309 178L307 178.2L305 178.5L303 178.8L301 179.1L299 179.3L297 179.4L295 179.5L293 179.6L291 179.6L289 179.6L287 179.6L285 179.6L283 179.5L281 179.4L279 179.2L277 179L275 178.7L273 178.2L271 177.5L269 176.8L267 176L265 175.2L263 174.4L261 173.7L259 173.2L257 172.6L255 172.2L253 171.7L251 171.3L249 170.9L247 170.5L245 170.3L243 170L241 169.9L239 169.7L237 169.6L235 169.5L233 169.4L231 169.3L229 169.2L227 169.1L225 169.1L223 169L221 169L219 168.9L217 168.9L215 168.9L213 168.9L211 168.8L209 168.8L207 168.7L205 168.7L203 168.6L201 168.5L199 168.3L197 168.2L195 168.1L193 168L191 167.8L189 167.7L187 167.6L185 167.5L183 167.4L181 167.3L179 167.1L177 167L175 166.8L173 166.6L171 166.4L169 166.1L167 165.9L165 165.6L163 165.2L161 164.8L159 164.3L157 163.7L155 163.2L153 162.6L151 161.9L149 161.1L147 160.3L145 159.3L143 158.2L141 157L139 155.7L137 154.4L135 153L133 151.6L131 150.2L129 148.6L127 147.1L125 145.5L123 143.9L121 142.2L119 140.5L117 138.8L115 137.1L113 135.4L111 133.8L109 132.1L107 130.2L105 128.4L103 126.9L101 125.9L99 125.2L97 125L95 125L93 124.9L91 124.9L89 124.8L87 124.8L85 124.8L83 124.8L81 124.7L79 124.7L77 124.7L75 124.7L73 124.7L71 124.7L69 124.7Z" fill-opacity="0.04"/><path d="M69 96L71 96L73 96L75 95.9L77 95.9L79 95.9L81 95.8L83 95.8L85 95.8L87 95.7L89 95.7L91 95.6L93 95.6L95 95.6L97 95.6L99 95.6L101 95.7L103 96L105 96.3L107 96.5L109 96.8L111 97.4L113 98.2L115 98.9L117 99.7L119 100.6L121 101.4L123 102.3L125 103.2L127 104.1L129 105.1L131 106.1L133 107L135 108L137 109L139 110L141 111L143 112.1L145 113.1L147 114.1L149 115.1L151 116L153 117L155 117.9L157 118.9L159 120L161 121.1L163 122.4L165 123.7L167 124.9L169 126.1L171 127.2L173 128.2L175 129.2L177 130.2L179 131.1L181 131.9L183 132.4L185 132.7L187 132.7L189 132.5L191 132.4L193 132.1L195 131.9L197 131.6L199 131.3L201 131L203 130.7L205 130.5L207 130.3L209 130.2L211 130.2L213 130.1L215 130.1L217 130L219 129.9L221 129.8L223 129.7L225 129.7L227 129.7L229 129.6L231 129.6L233 129.6L235 129.6L237 129.5L239 129.5L241 129.5L243 129.5L245 129.5L247 129.6L249 129.7L251 129.9L253 130.1L255 130.3L257 130.5L259 130.8L261 131.2L263 131.7L265 132.4L267 133.3L269 134.2L271 135.1L273 136.1L275 137.1L277 138L279 139L281 140L283 141.1L285 142.3L287 143.4L289 144.5L291 145.6L293 146.6L295 147.4L297 148.2L299 149L301 149.8L303 150.5L305 151.2L307 151.8L309 152.3L311 152.8L313 153.1L315 153.4L317 153.5L319 153.6L321 153.7L323 153.7L325 153.7L327 153.7L329 153.8L331 153.8L333 153.9L335 153.9L337 154L339 154L341 154.1L343 154.1L345 154.2L347 154.3L349 154.4L351 154.8L353 155.3L355 156L357 156.7L359 157.9L361 159.6L363 162L365 164.3L367 166.2L369 167.7L371 169.1L373 170.2L375 170.9L377 171.2L379 171.2L381 171.1L383 170.9L385 170.6L387 170.1L389 169.3L391 168.2L393 167L395 165.8L397 164.7L399 163.5L401 162.4L403 161.2L405 159.9L407 158.5L409 157.1L411 155.5L413 154.1L415 152.7L417 151.3L419 150.1L421 148.9L423 148L425 147.3L427 146.7L429 146.2L431 145.7L433 145.2L435 144.8L437 144.3L439 143.7L441 142.9L443 142.1L445 141.3L447 140.4L449 139.6L451 138.7L453 137.9L455 137L457 136L459 134.9L461 133.8L463 132.8L465 132.1L467 132L467 183.9L465 183.8L463 183.2L461 182.3L459 181.4L457 180.5L455 179.7L453 179L451 178.4L449 177.7L447 177.1L445 176.5L443 176L441 175.4L439 175L437 174.7L435 174.7L433 174.7L431 174.9L429 175.1L427 175.4L425 175.7L423 176.1L421 176.5L419 177L417 177.6L415 178.3L413 179L411 179.8L409 180.6L407 181.5L405 182.5L403 183.5L401 184.7L399 185.8L397 187L395 188.3L393 189.6L391 191L389 192.4L387 193.3L385 193.9L383 194.2L381 194.4L379 194.6L377 194.7L375 194.5L373 193.9L371 193L369 191.9L367 190.6L365 188.7L363 186.4L361 184L359 182.1L357 181L355 180.4L353 180.1L351 179.8L349 179.5L347 179.1L345 178.6L343 178.1L341 177.7L339 177.3L337 177L335 176.7L333 176.7L331 176.6L329 176.6L327 176.6L325 176.6L323 176.6L321 176.6L319 176.6L317 176.6L315 176.7L313 176.8L311 177L309 177.2L307 177.4L305 177.7L303 178L301 178.2L299 178.4L297 178.6L295 178.7L293 178.7L291 178.7L289 178.7L287 178.7L285 178.6L283 178.5L281 178.4L279 178.2L277 178L275 177.7L273 177.2L271 176.6L269 175.8L267 175L265 174.2L263 173.5L261 172.8L259 172.2L257 171.7L255 171.2L253 170.7L251 170.3L249 169.9L247 169.6L245 169.3L243 169.1L241 168.9L239 168.7L237 168.6L235 168.5L233 168.4L231 168.3L229 168.2L227 168.1L225 168.1L223 168L221 168L219 168L217 167.9L215 167.9L213 167.9L211 167.9L209 167.8L207 167.8L205 167.7L203 167.6L201 167.5L199 167.4L197 167.3L195 167.2L193 167.1L191 167L189 166.8L187 166.7L185 166.6L183 166.5L181 166.4L179 166.2L177 166L175 165.8L173 165.6L171 165.4L169 165.1L167 164.8L165 164.5L163 164.1L161 163.7L159 163.2L157 162.7L155 162.1L153 161.5L151 160.8L149 160.1L147 159.2L145 158.3L143 157.2L141 155.9L139 154.7L137 153.3L135 152L133 150.6L131 149.1L129 147.6L127 146L125 144.4L123 142.8L121 141.1L119 139.5L117 137.8L115 136L113 134.4L111 132.7L109 131L107 129.2L105 127.5L103 126.1L101 125L99 124.4L97 124.2L95 124.1L93 124.1L91 124L89 124L87 123.9L85 123.9L83 123.9L81 123.9L79 123.9L77 123.8L75 123.8L73 123.8L71 123.8L69 123.8Z" fill-opacity="0.06"/><path d="M69 96.8L71 96.8L73 96.8L75 96.7L77 96.7L79 96.7L81 96.6L83 96.6L85 96.6L87 96.5L89 96.5L91 96.4L93 96.4L95 96.4L97 96.4L99 96.4L101 96.5L103 96.8L105 97.1L107 97.4L109 97.8L111 98.4L113 99.2L115 99.9L117 100.7L119 101.6L121 102.4L123 103.3L125 104.2L127 105.1L129 106.1L131 107.1L133 108L135 109L137 110L139 111L141 112L143 113.1L145 114.1L147 115.1L149 116.1L151 117L153 118L155 118.9L157 119.9L159 121L161 122.1L163 123.4L165 124.7L167 126L169 127.3L171 128.4L173 129.4L175 130.3L177 131.3L179 132.2L181 133L183 133.5L185 133.7L187 133.7L189 133.6L191 133.5L193 133.3L195 133L197 132.8L199 132.5L201 132.3L203 132.1L205 131.9L207 131.8L209 131.7L211 131.6L213 131.6L215 131.5L217 131.4L219 131.3L221 131.2L223 131.2L225 131.1L227 131.1L229 131.1L231 131L233 131L235 131L237 131L239 131L241 130.9L243 131L245 131L247 131.1L249 131.2L251 131.3L253 131.5L255 131.7L257 132L259 132.2L261 132.6L263 133.2L265 133.8L267 134.6L269 135.5L271 136.4L273 137.3L275 138.2L277 139.2L279 140.1L281 141.1L283 142.1L285 143.2L287 144.3L289 145.4L291 146.4L293 147.4L295 148.3L297 149L299 149.8L301 150.5L303 151.2L305 151.9L307 152.5L309 153.1L311 153.5L313 153.8L315 154.1L317 154.2L319 154.3L321 154.4L323 154.4L325 154.5L327 154.5L329 154.6L331 154.6L333 154.7L335 154.7L337 154.8L339 154.8L341 154.9L343 154.9L345 155L347 155.1L349 155.2L351 155.6L353 156L355 156.7L357 157.5L359 158.6L361 160.3L363 162.6L365 165L367 166.9L369 168.4L371 169.8L373 170.9L375 171.6L377 171.9L379 171.9L381 171.8L383 171.6L385 171.3L387 170.8L389 170L391 168.9L393 167.7L395 166.5L397 165.4L399 164.2L401 163.1L403 161.9L405 160.6L407 159.3L409 157.8L411 156.3L413 154.9L415 153.5L417 152.2L419 150.9L421 149.8L423 148.9L425 148.2L427 147.6L429 147.1L431 146.6L433 146.2L435 145.8L437 145.3L439 144.8L441 144.1L443 143.3L445 142.6L447 141.8L449 141.1L451 140.3L453 139.6L455 138.8L457 137.9L459 137L461 136L463 135.1L465 134.5L467 134.4L467 181.5L465 181.4L463 180.9L461 180.1L459 179.3L457 178.6L455 177.9L453 177.3L451 176.7L449 176.2L447 175.7L445 175.2L443 174.7L441 174.3L439 173.9L437 173.7L435 173.7L433 173.8L431 173.9L429 174.2L427 174.5L425 174.8L423 175.2L421 175.6L419 176.1L417 176.8L415 177.5L413 178.2L411 179L409 179.8L407 180.8L405 181.8L403 182.8L401 184L399 185.1L397 186.3L395 187.6L393 188.9L391 190.3L389 191.7L387 192.6L385 193.2L383 193.5L381 193.7L379 193.9L377 194L375 193.8L373 193.2L371 192.3L369 191.2L367 189.9L365 188.1L363 185.7L361 183.3L359 181.4L357 180.3L355 179.7L353 179.3L351 179L349 178.7L347 178.3L345 177.8L343 177.3L341 176.9L339 176.5L337 176.2L335 176L333 175.9L331 175.8L329 175.8L327 175.8L325 175.8L323 175.8L321 175.8L319 175.9L317 175.9L315 176L313 176.1L311 176.3L309 176.5L307 176.7L305 177L303 177.2L301 177.5L299 177.7L297 177.8L295 177.9L293 177.9L291 177.9L289 177.9L287 177.8L285 177.7L283 177.6L281 177.5L279 177.3L277 177.1L275 176.8L273 176.3L271 175.7L269 174.9L267 174.1L265 173.3L263 172.6L261 171.9L259 171.3L257 170.8L255 170.3L253 169.8L251 169.4L249 169L247 168.7L245 168.4L243 168.2L241 168L239 167.8L237 167.7L235 167.6L233 167.5L231 167.4L229 167.3L227 167.2L225 167.2L223 167.1L221 167.1L219 167.1L217 167L215 167L213 167L211 167L209 166.9L207 166.9L205 166.8L203 166.7L201 166.7L199 166.6L197 166.5L195 166.4L193 166.2L191 166.1L189 166L187 165.9L185 165.8L183 165.7L181 165.6L179 165.4L177 165.2L175 165L173 164.7L171 164.5L169 164.2L167 163.9L165 163.5L163 163.2L161 162.7L159 162.2L157 161.7L155 161.1L153 160.5L151 159.8L149 159.1L147 158.2L145 157.3L143 156.2L141 154.9L139 153.7L137 152.3L135 151L133 149.6L131 148.1L129 146.6L127 145L125 143.4L123 141.8L121 140.1L119 138.5L117 136.8L115 135L113 133.4L111 131.7L109 130.1L107 128.3L105 126.6L103 125.3L101 124.2L99 123.6L97 123.4L95 123.3L93 123.3L91 123.2L89 123.2L87 123.1L85 123.1L83 123.1L81 123.1L79 123.1L77 123L75 123L73 123L71 123L69 123Z" fill-opacity="0.1"/><path d="M69 97.4L71 97.4L73 97.4L75 97.4L77 97.4L79 97.3L81 97.3L83 97.3L85 97.2L87 97.2L89 97.1L91 97.1L93 97.1L95 97.1L97 97L99 97.1L101 97.2L103 97.5L105 97.8L107 98.1L109 98.6L111 99.2L113 100L115 100.8L117 101.6L119 102.4L121 103.2L123 104.1L125 105L127 106L129 106.9L131 107.9L133 108.9L135 109.9L137 110.9L139 111.9L141 112.9L143 113.9L145 114.9L147 115.9L149 116.9L151 117.8L153 118.8L155 119.8L157 120.8L159 121.8L161 123L163 124.2L165 125.6L167 126.9L169 128.2L171 129.3L173 130.3L175 131.3L177 132.2L179 133.1L181 133.9L183 134.4L185 134.6L187 134.6L189 134.5L191 134.4L193 134.2L195 134L197 133.8L199 133.6L201 133.4L203 133.2L205 133.1L207 132.9L209 132.9L211 132.8L213 132.8L215 132.7L217 132.6L219 132.5L221 132.4L223 132.4L225 132.3L227 132.3L229 132.3L231 132.2L233 132.2L235 132.2L237 132.2L239 132.2L241 132.1L243 132.2L245 132.2L247 132.3L249 132.4L251 132.5L253 132.7L255 132.9L257 133.2L259 133.4L261 133.8L263 134.3L265 135L267 135.7L269 136.6L271 137.4L273 138.3L275 139.2L277 140.1L279 141L281 142L283 143L285 144L287 145.1L289 146.2L291 147.2L293 148.1L295 148.9L297 149.7L299 150.4L301 151.1L303 151.8L305 152.5L307 153.1L309 153.6L311 154.1L313 154.4L315 154.6L317 154.8L319 154.9L321 155L323 155.1L325 155.1L327 155.2L329 155.2L331 155.3L333 155.3L335 155.4L337 155.5L339 155.5L341 155.5L343 155.6L345 155.7L347 155.8L349 155.9L351 156.2L353 156.7L355 157.3L357 158L359 159.1L361 160.9L363 163.2L365 165.5L367 167.5L369 169L371 170.4L373 171.5L375 172.2L377 172.5L379 172.5L381 172.3L383 172.1L385 171.9L387 171.4L389 170.6L391 169.5L393 168.3L395 167.1L397 165.9L399 164.8L401 163.7L403 162.5L405 161.2L407 159.9L409 158.4L411 156.9L413 155.5L415 154.2L417 152.9L419 151.6L421 150.5L423 149.6L425 149L427 148.4L429 147.9L431 147.4L433 147L435 146.6L437 146.1L439 145.6L441 145L443 144.4L445 143.7L447 143L449 142.4L451 141.7L453 141L455 140.3L457 139.6L459 138.7L461 137.8L463 137.1L465 136.6L467 136.5L467 179.4L465 179.4L463 178.9L461 178.3L459 177.6L457 176.9L455 176.4L453 175.9L451 175.4L449 174.9L447 174.5L445 174.1L443 173.7L441 173.3L439 173L437 172.9L435 172.9L433 173L431 173.2L429 173.4L427 173.7L425 174.1L423 174.4L421 174.9L419 175.4L417 176.1L415 176.8L413 177.6L411 178.4L409 179.2L407 180.2L405 181.2L403 182.3L401 183.4L399 184.6L397 185.7L395 187L393 188.3L391 189.8L389 191.1L387 192L385 192.6L383 192.9L381 193.2L379 193.3L377 193.4L375 193.2L373 192.6L371 191.7L369 190.6L367 189.3L365 187.5L363 185.1L361 182.7L359 180.8L357 179.7L355 179.1L353 178.7L351 178.4L349 178L347 177.6L345 177.1L343 176.7L341 176.2L339 175.8L337 175.5L335 175.3L333 175.2L331 175.2L329 175.2L327 175.2L325 175.2L323 175.2L321 175.2L319 175.3L317 175.3L315 175.4L313 175.5L311 175.7L309 175.9L307 176.1L305 176.4L303 176.6L301 176.8L299 177L297 177.1L295 177.2L293 177.2L291 177.2L289 177.2L287 177.1L285 177L283 176.9L281 176.8L279 176.6L277 176.4L275 176L273 175.5L271 174.9L269 174.2L267 173.4L265 172.6L263 171.8L261 171.1L259 170.5L257 170L255 169.5L253 169.1L251 168.7L249 168.3L247 167.9L245 167.6L243 167.4L241 167.2L239 167.1L237 167L235 166.8L233 166.7L231 166.6L229 166.6L227 166.5L225 166.4L223 166.4L221 166.4L219 166.3L217 166.3L215 166.3L213 166.3L211 166.2L209 166.2L207 166.1L205 166.1L203 166L201 165.9L199 165.8L197 165.8L195 165.7L193 165.6L191 165.5L189 165.4L187 165.3L185 165.2L183 165L181 164.9L179 164.7L177 164.5L175 164.2L173 164L171 163.7L169 163.4L167 163.1L165 162.7L163 162.3L161 161.9L159 161.4L157 160.8L155 160.3L153 159.6L151 159L149 158.2L147 157.4L145 156.4L143 155.3L141 154.1L139 152.8L137 151.5L135 150.1L133 148.7L131 147.3L129 145.7L127 144.2L125 142.6L123 140.9L121 139.3L119 137.6L117 135.9L115 134.2L113 132.5L111 130.9L109 129.3L107 127.5L105 125.9L103 124.6L101 123.5L99 122.9L97 122.7L95 122.6L93 122.6L91 122.5L89 122.5L87 122.5L85 122.4L83 122.4L81 122.4L79 122.4L77 122.4L75 122.4L73 122.4L71 122.4L69 122.4Z" fill-opacity="0.14"/><path d="M69 98.1L71 98.1L73 98.1L75 98.1L77 98L79 98L81 98L83 97.9L85 97.9L87 97.9L89 97.8L91 97.8L93 97.7L95 97.7L97 97.7L99 97.7L101 97.9L103 98.1L105 98.5L107 98.9L109 99.4L111 100.1L113 100.8L115 101.6L117 102.4L119 103.2L121 104.1L123 104.9L125 105.8L127 106.8L129 107.7L131 108.7L133 109.7L135 110.7L137 111.7L139 112.7L141 113.7L143 114.7L145 115.7L147 116.7L149 117.7L151 118.7L153 119.6L155 120.6L157 121.6L159 122.7L161 123.8L163 125.1L165 126.5L167 127.8L169 129.1L171 130.3L173 131.3L175 132.2L177 133.2L179 134L181 134.7L183 135.2L185 135.4L187 135.5L189 135.4L191 135.3L193 135.2L195 135L197 134.8L199 134.7L201 134.5L203 134.4L205 134.2L207 134.1L209 134.1L211 134L213 134L215 133.9L217 133.8L219 133.7L221 133.6L223 133.6L225 133.5L227 133.5L229 133.5L231 133.4L233 133.4L235 133.4L237 133.4L239 133.4L241 133.3L243 133.4L245 133.4L247 133.5L249 133.6L251 133.7L253 133.9L255 134.1L257 134.4L259 134.6L261 135L263 135.5L265 136.1L267 136.8L269 137.6L271 138.5L273 139.3L275 140.2L277 141L279 141.9L281 142.9L283 143.8L285 144.9L287 145.9L289 146.9L291 147.9L293 148.8L295 149.6L297 150.3L299 151.1L301 151.8L303 152.5L305 153.1L307 153.7L309 154.2L311 154.7L313 155L315 155.2L317 155.4L319 155.5L321 155.6L323 155.7L325 155.8L327 155.8L329 155.9L331 155.9L333 156L335 156.1L337 156.1L339 156.2L341 156.2L343 156.3L345 156.3L347 156.4L349 156.6L351 156.8L353 157.3L355 157.9L357 158.6L359 159.7L361 161.5L363 163.8L365 166.1L367 168L369 169.6L371 170.9L373 172.1L375 172.8L377 173.1L379 173.1L381 172.9L383 172.7L385 172.5L387 172L389 171.2L391 170.1L393 168.9L395 167.7L397 166.5L399 165.4L401 164.2L403 163.1L405 161.8L407 160.4L409 159L411 157.6L413 156.2L415 154.9L417 153.6L419 152.3L421 151.3L423 150.4L425 149.7L427 149.2L429 148.7L431 148.2L433 147.8L435 147.4L437 147L439 146.5L441 146L443 145.4L445 144.8L447 144.2L449 143.6L451 143L453 142.4L455 141.8L457 141.2L459 140.4L461 139.7L463 139L465 138.6L467 138.5L467 177.4L465 177.4L463 177L461 176.5L459 175.9L457 175.3L455 174.9L453 174.4L451 174.1L449 173.7L447 173.3L445 173L443 172.7L441 172.4L439 172.2L437 172L435 172L433 172.2L431 172.4L429 172.6L427 173L425 173.3L423 173.7L421 174.1L419 174.7L417 175.4L415 176.1L413 176.9L411 177.7L409 178.6L407 179.6L405 180.6L403 181.7L401 182.8L399 184L397 185.2L395 186.4L393 187.7L391 189.2L389 190.5L387 191.4L385 192L383 192.3L381 192.6L379 192.7L377 192.8L375 192.6L373 192L371 191.1L369 190L367 188.7L365 186.9L363 184.5L361 182.1L359 180.2L357 179.1L355 178.5L353 178.1L351 177.7L349 177.4L347 176.9L345 176.5L343 176L341 175.5L339 175.1L337 174.8L335 174.6L333 174.5L331 174.5L329 174.5L327 174.5L325 174.5L323 174.6L321 174.6L319 174.7L317 174.7L315 174.8L313 174.9L311 175.1L309 175.3L307 175.5L305 175.7L303 176L301 176.2L299 176.4L297 176.5L295 176.5L293 176.5L291 176.5L289 176.5L287 176.4L285 176.3L283 176.2L281 176L279 175.8L277 175.6L275 175.3L273 174.8L271 174.2L269 173.4L267 172.6L265 171.8L263 171.1L261 170.4L259 169.8L257 169.3L255 168.8L253 168.3L251 167.9L249 167.5L247 167.2L245 166.9L243 166.7L241 166.5L239 166.4L237 166.2L235 166.1L233 166L231 165.9L229 165.8L227 165.7L225 165.7L223 165.6L221 165.6L219 165.6L217 165.6L215 165.5L213 165.5L211 165.5L209 165.4L207 165.4L205 165.3L203 165.3L201 165.2L199 165.1L197 165L195 165L193 164.9L191 164.8L189 164.7L187 164.6L185 164.5L183 164.4L181 164.2L179 164L177 163.8L175 163.5L173 163.2L171 162.9L169 162.6L167 162.3L165 161.9L163 161.5L161 161L159 160.5L157 160L155 159.4L153 158.8L151 158.1L149 157.4L147 156.6L145 155.6L143 154.5L141 153.3L139 152L137 150.7L135 149.3L133 147.9L131 146.4L129 144.9L127 143.3L125 141.7L123 140.1L121 138.5L119 136.8L117 135.1L115 133.4L113 131.7L111 130.1L109 128.5L107 126.8L105 125.2L103 123.9L101 122.9L99 122.2L97 122L95 122L93 121.9L91 121.9L89 121.8L87 121.8L85 121.8L83 121.8L81 121.7L79 121.7L77 121.7L75 121.7L73 121.7L71 121.7L69 121.7Z" fill-opacity="0.18"/><path d="M69 98.8L71 98.8L73 98.8L75 98.7L77 98.7L79 98.7L81 98.6L83 98.6L85 98.6L87 98.5L89 98.5L91 98.4L93 98.4L95 98.4L97 98.4L99 98.4L101 98.5L103 98.8L105 99.2L107 99.6L109 100.2L111 100.9L113 101.7L115 102.4L117 103.2L119 104.1L121 104.9L123 105.8L125 106.7L127 107.6L129 108.6L131 109.6L133 110.5L135 111.5L137 112.5L139 113.5L141 114.5L143 115.5L145 116.6L147 117.6L149 118.6L151 119.5L153 120.5L155 121.4L157 122.4L159 123.5L161 124.7L163 125.9L165 127.3L167 128.7L169 130L171 131.2L173 132.2L175 133.2L177 134.1L179 134.9L181 135.6L183 136.1L185 136.3L187 136.3L189 136.3L191 136.2L193 136.1L195 136L197 135.9L199 135.7L201 135.6L203 135.5L205 135.4L207 135.3L209 135.3L211 135.2L213 135.2L215 135.1L217 135L219 134.9L221 134.8L223 134.8L225 134.7L227 134.7L229 134.7L231 134.6L233 134.6L235 134.6L237 134.6L239 134.6L241 134.5L243 134.5L245 134.6L247 134.7L249 134.8L251 134.9L253 135.1L255 135.3L257 135.6L259 135.8L261 136.2L263 136.7L265 137.3L267 138L269 138.7L271 139.5L273 140.4L275 141.2L277 142L279 142.8L281 143.7L283 144.7L285 145.7L287 146.7L289 147.7L291 148.6L293 149.5L295 150.3L297 151L299 151.7L301 152.4L303 153.1L305 153.7L307 154.3L309 154.8L311 155.3L313 155.6L315 155.8L317 156L319 156.1L321 156.2L323 156.3L325 156.4L327 156.5L329 156.5L331 156.6L333 156.7L335 156.7L337 156.8L339 156.8L341 156.9L343 156.9L345 157L347 157.1L349 157.2L351 157.5L353 157.9L355 158.5L357 159.2L359 160.3L361 162.1L363 164.4L365 166.7L367 168.6L369 170.2L371 171.5L373 172.7L375 173.4L377 173.7L379 173.6L381 173.5L383 173.3L385 173L387 172.6L389 171.8L391 170.7L393 169.5L395 168.3L397 167.1L399 166L401 164.8L403 163.6L405 162.4L407 161L409 159.6L411 158.2L413 156.8L415 155.5L417 154.3L419 153L421 152L423 151.1L425 150.5L427 149.9L429 149.4L431 149L433 148.6L435 148.2L437 147.8L439 147.4L441 146.9L443 146.4L445 145.9L447 145.4L449 144.9L451 144.4L453 143.9L455 143.3L457 142.8L459 142.1L461 141.5L463 140.9L465 140.6L467 140.5L467 175.4L465 175.3L463 175.1L461 174.6L459 174.2L457 173.7L455 173.3L453 173L451 172.7L449 172.4L447 172.2L445 171.9L443 171.7L441 171.5L439 171.3L437 171.2L435 171.2L433 171.4L431 171.6L429 171.9L427 172.2L425 172.5L423 172.9L421 173.4L419 174L417 174.7L415 175.5L413 176.3L411 177.1L409 178L407 179L405 180L403 181.1L401 182.2L399 183.4L397 184.6L395 185.8L393 187.2L391 188.6L389 189.9L387 190.9L385 191.4L383 191.7L381 192L379 192.2L377 192.2L375 192L373 191.5L371 190.6L369 189.5L367 188.1L365 186.3L363 184L361 181.5L359 179.6L357 178.5L355 177.9L353 177.4L351 177.1L349 176.7L347 176.3L345 175.8L343 175.3L341 174.9L339 174.5L337 174.2L335 174L333 173.9L331 173.8L329 173.9L327 173.9L325 173.9L323 174L321 174L319 174.1L317 174.1L315 174.2L313 174.3L311 174.5L309 174.7L307 174.9L305 175.1L303 175.4L301 175.5L299 175.7L297 175.8L295 175.8L293 175.8L291 175.8L289 175.8L287 175.7L285 175.6L283 175.4L281 175.3L279 175.1L277 174.9L275 174.5L273 174.1L271 173.4L269 172.7L267 171.9L265 171.1L263 170.3L261 169.6L259 169L257 168.5L255 168L253 167.6L251 167.2L249 166.8L247 166.4L245 166.1L243 165.9L241 165.8L239 165.6L237 165.5L235 165.3L233 165.2L231 165.1L229 165.1L227 165L225 164.9L223 164.9L221 164.9L219 164.8L217 164.8L215 164.8L213 164.8L211 164.7L209 164.7L207 164.6L205 164.6L203 164.5L201 164.5L199 164.4L197 164.3L195 164.3L193 164.2L191 164.1L189 164L187 163.9L185 163.8L183 163.7L181 163.5L179 163.3L177 163L175 162.8L173 162.5L171 162.2L169 161.9L167 161.5L165 161.1L163 160.7L161 160.2L159 159.7L157 159.2L155 158.6L153 158L151 157.3L149 156.6L147 155.7L145 154.8L143 153.7L141 152.4L139 151.2L137 149.8L135 148.5L133 147.1L131 145.6L129 144.1L127 142.5L125 140.9L123 139.3L121 137.6L119 136L117 134.3L115 132.5L113 130.9L111 129.3L109 127.7L107 126.1L105 124.5L103 123.2L101 122.2L99 121.6L97 121.4L95 121.3L93 121.3L91 121.2L89 121.2L87 121.1L85 121.1L83 121.1L81 121.1L79 121.1L77 121.1L75 121L73 121L71 121L69 121Z" fill-opacity="0.24"/><path d="M69 99.4L71 99.4L73 99.4L75 99.4L77 99.4L79 99.3L81 99.3L83 99.3L85 99.2L87 99.2L89 99.1L91 99.1L93 99.1L95 99L97 99L99 99.1L101 99.2L103 99.5L105 99.9L107 100.4L109 101L111 101.7L113 102.5L115 103.3L117 104.1L119 104.9L121 105.7L123 106.6L125 107.5L127 108.5L129 109.4L131 110.4L133 111.4L135 112.4L137 113.3L139 114.4L141 115.4L143 116.4L145 117.4L147 118.4L149 119.4L151 120.3L153 121.3L155 122.3L157 123.3L159 124.3L161 125.5L163 126.8L165 128.2L167 129.6L169 131L171 132.1L173 133.2L175 134.1L177 135L179 135.8L181 136.5L183 137L185 137.2L187 137.2L189 137.2L191 137.1L193 137L195 137L197 136.9L199 136.8L201 136.7L203 136.6L205 136.6L207 136.5L209 136.5L211 136.4L213 136.4L215 136.3L217 136.2L219 136.1L221 136L223 136L225 135.9L227 135.9L229 135.9L231 135.8L233 135.8L235 135.8L237 135.8L239 135.8L241 135.7L243 135.7L245 135.8L247 135.9L249 136L251 136.1L253 136.3L255 136.5L257 136.8L259 137L261 137.4L263 137.8L265 138.4L267 139.1L269 139.8L271 140.6L273 141.4L275 142.2L277 142.9L279 143.8L281 144.6L283 145.5L285 146.5L287 147.5L289 148.4L291 149.3L293 150.2L295 151L297 151.7L299 152.4L301 153L303 153.7L305 154.3L307 154.9L309 155.4L311 155.8L313 156.2L315 156.4L317 156.6L319 156.7L321 156.8L323 156.9L325 157L327 157.1L329 157.2L331 157.2L333 157.3L335 157.4L337 157.5L339 157.5L341 157.5L343 157.6L345 157.7L347 157.7L349 157.9L351 158.1L353 158.6L355 159.1L357 159.8L359 160.9L361 162.7L363 165L365 167.3L367 169.2L369 170.7L371 172.1L373 173.2L375 174L377 174.2L379 174.2L381 174.1L383 173.9L385 173.6L387 173.2L389 172.4L391 171.3L393 170L395 168.8L397 167.7L399 166.6L401 165.4L403 164.2L405 163L407 161.6L409 160.2L411 158.8L413 157.5L415 156.2L417 155L419 153.8L421 152.7L423 151.9L425 151.2L427 150.7L429 150.2L431 149.8L433 149.4L435 149L437 148.7L439 148.3L441 147.8L443 147.4L445 147L447 146.6L449 146.1L451 145.7L453 145.3L455 144.9L457 144.4L459 143.9L461 143.3L463 142.9L465 142.6L467 142.5L467 173.4L465 173.3L463 173.1L461 172.8L459 172.4L457 172.1L455 171.8L453 171.6L451 171.4L449 171.2L447 171L445 170.8L443 170.7L441 170.5L439 170.4L437 170.4L435 170.4L433 170.6L431 170.8L429 171.1L427 171.4L425 171.8L423 172.2L421 172.7L419 173.3L417 174L415 174.8L413 175.6L411 176.5L409 177.4L407 178.4L405 179.4L403 180.5L401 181.6L399 182.8L397 184L395 185.2L393 186.6L391 188L389 189.3L387 190.3L385 190.8L383 191.2L381 191.4L379 191.6L377 191.6L375 191.4L373 190.9L371 190L369 188.9L367 187.5L365 185.7L363 183.4L361 180.9L359 179L357 177.9L355 177.3L353 176.8L351 176.4L349 176L347 175.6L345 175.1L343 174.7L341 174.2L339 173.8L337 173.5L335 173.3L333 173.2L331 173.2L329 173.2L327 173.2L325 173.3L323 173.3L321 173.4L319 173.5L317 173.6L315 173.6L313 173.8L311 173.9L309 174.1L307 174.3L305 174.5L303 174.7L301 174.9L299 175.1L297 175.1L295 175.2L293 175.2L291 175.1L289 175.1L287 175L285 174.8L283 174.7L281 174.5L279 174.4L277 174.1L275 173.8L273 173.3L271 172.7L269 171.9L267 171.1L265 170.3L263 169.6L261 168.9L259 168.3L257 167.8L255 167.3L253 166.8L251 166.4L249 166L247 165.7L245 165.4L243 165.2L241 165L239 164.9L237 164.7L235 164.6L233 164.5L231 164.4L229 164.3L227 164.2L225 164.2L223 164.1L221 164.1L219 164.1L217 164.1L215 164L213 164L211 164L209 163.9L207 163.9L205 163.9L203 163.8L201 163.8L199 163.7L197 163.6L195 163.6L193 163.5L191 163.4L189 163.3L187 163.3L185 163.2L183 163L181 162.8L179 162.6L177 162.3L175 162L173 161.7L171 161.4L169 161.1L167 160.7L165 160.3L163 159.9L161 159.4L159 158.9L157 158.3L155 157.8L153 157.1L151 156.5L149 155.7L147 154.9L145 153.9L143 152.8L141 151.6L139 150.3L137 149L135 147.6L133 146.2L131 144.8L129 143.2L127 141.7L125 140.1L123 138.4L121 136.8L119 135.1L117 133.4L115 131.7L113 130L111 128.4L109 126.9L107 125.3L105 123.9L103 122.6L101 121.5L99 120.9L97 120.7L95 120.6L93 120.6L91 120.6L89 120.5L87 120.5L85 120.5L83 120.4L81 120.4L79 120.4L77 120.4L75 120.4L73 120.4L71 120.4L69 120.4Z" fill-opacity="0.31"/><path d="M69 100.1L71 100.1L73 100.1L75 100.1L77 100L79 100L81 100L83 99.9L85 99.9L87 99.9L89 99.8L91 99.8L93 99.7L95 99.7L97 99.7L99 99.7L101 99.9L103 100.1L105 100.6L107 101.1L109 101.8L111 102.6L113 103.3L115 104.1L117 104.9L119 105.7L121 106.6L123 107.4L125 108.3L127 109.3L129 110.2L131 111.2L133 112.2L135 113.2L137 114.2L139 115.2L141 116.2L143 117.2L145 118.2L147 119.2L149 120.2L151 121.2L153 122.1L155 123.1L157 124.1L159 125.2L161 126.3L163 127.6L165 129.1L167 130.5L169 131.9L171 133.1L173 134.1L175 135L177 135.9L179 136.7L181 137.4L183 137.8L185 138L187 138.1L189 138.1L191 138L193 138L195 138L197 137.9L199 137.9L201 137.8L203 137.8L205 137.7L207 137.7L209 137.7L211 137.6L213 137.6L215 137.5L217 137.4L219 137.3L221 137.2L223 137.2L225 137.1L227 137.1L229 137.1L231 137L233 137L235 137L237 137L239 137L241 136.9L243 136.9L245 137L247 137.1L249 137.2L251 137.3L253 137.5L255 137.7L257 138L259 138.2L261 138.6L263 139L265 139.6L267 140.2L269 140.9L271 141.6L273 142.4L275 143.1L277 143.9L279 144.7L281 145.5L283 146.4L285 147.3L287 148.2L289 149.2L291 150L293 150.9L295 151.6L297 152.3L299 153L301 153.7L303 154.3L305 154.9L307 155.5L309 156L311 156.4L313 156.7L315 157L317 157.2L319 157.3L321 157.4L323 157.6L325 157.7L327 157.7L329 157.8L331 157.9L333 158L335 158.1L337 158.1L339 158.2L341 158.2L343 158.3L345 158.3L347 158.4L349 158.5L351 158.8L353 159.2L355 159.7L357 160.4L359 161.5L361 163.3L363 165.6L365 167.9L367 169.8L369 171.3L371 172.7L373 173.8L375 174.6L377 174.8L379 174.8L381 174.7L383 174.5L385 174.2L387 173.8L389 173L391 171.9L393 170.6L395 169.4L397 168.3L399 167.1L401 166L403 164.8L405 163.6L407 162.2L409 160.8L411 159.5L413 158.1L415 156.9L417 155.6L419 154.5L421 153.5L423 152.6L425 152L427 151.5L429 151L431 150.6L433 150.2L435 149.8L437 149.5L439 149.1L441 148.8L443 148.4L445 148.1L447 147.7L449 147.4L451 147.1L453 146.7L455 146.4L457 146L459 145.6L461 145.2L463 144.8L465 144.6L467 144.6L467 171.3L465 171.3L463 171.2L461 171L459 170.7L457 170.5L455 170.3L453 170.2L451 170L449 169.9L447 169.8L445 169.7L443 169.6L441 169.6L439 169.5L437 169.5L435 169.6L433 169.8L431 170L429 170.3L427 170.6L425 171L423 171.4L421 171.9L419 172.6L417 173.3L415 174.1L413 174.9L411 175.8L409 176.8L407 177.8L405 178.9L403 179.9L401 181.1L399 182.2L397 183.4L395 184.6L393 186L391 187.4L389 188.7L387 189.7L385 190.3L383 190.6L381 190.8L379 191L377 191L375 190.8L373 190.3L371 189.4L369 188.3L367 187L365 185.1L363 182.8L361 180.4L359 178.5L357 177.3L355 176.7L353 176.2L351 175.8L349 175.4L347 174.9L345 174.5L343 174L341 173.6L339 173.2L337 172.8L335 172.6L333 172.5L331 172.5L329 172.5L327 172.6L325 172.6L323 172.7L321 172.8L319 172.9L317 173L315 173.1L313 173.2L311 173.3L309 173.5L307 173.7L305 173.9L303 174.1L301 174.3L299 174.4L297 174.5L295 174.5L293 174.5L291 174.4L289 174.3L287 174.2L285 174.1L283 174L281 173.8L279 173.6L277 173.4L275 173L273 172.6L271 171.9L269 171.2L267 170.4L265 169.6L263 168.8L261 168.1L259 167.5L257 167L255 166.6L253 166.1L251 165.7L249 165.3L247 164.9L245 164.6L243 164.4L241 164.3L239 164.1L237 164L235 163.8L233 163.7L231 163.6L229 163.6L227 163.5L225 163.4L223 163.4L221 163.4L219 163.3L217 163.3L215 163.3L213 163.3L211 163.2L209 163.2L207 163.2L205 163.1L203 163.1L201 163L199 163L197 162.9L195 162.9L193 162.8L191 162.7L189 162.7L187 162.6L185 162.5L183 162.4L181 162.2L179 161.9L177 161.6L175 161.3L173 161L171 160.7L169 160.3L167 159.9L165 159.5L163 159L161 158.6L159 158L157 157.5L155 156.9L153 156.3L151 155.6L149 154.9L147 154.1L145 153.1L143 152L141 150.8L139 149.5L137 148.2L135 146.8L133 145.4L131 143.9L129 142.4L127 140.8L125 139.2L123 137.6L121 136L119 134.3L117 132.6L115 130.9L113 129.2L111 127.6L109 126.1L107 124.6L105 123.2L103 121.9L101 120.9L99 120.2L97 120L95 120L93 119.9L91 119.9L89 119.8L87 119.8L85 119.8L83 119.8L81 119.7L79 119.7L77 119.7L75 119.7L73 119.7L71 119.7L69 119.7Z" fill-opacity="0.38"/><path d="M69 100.8L71 100.8L73 100.7L75 100.7L77 100.7L79 100.7L81 100.6L83 100.6L85 100.6L87 100.5L89 100.5L91 100.4L93 100.4L95 100.4L97 100.4L99 100.4L101 100.5L103 100.8L105 101.2L107 101.9L109 102.6L111 103.4L113 104.2L115 104.9L117 105.7L119 106.5L121 107.4L123 108.3L125 109.2L127 110.1L129 111.1L131 112.1L133 113L135 114L137 115L139 116L141 117L143 118L145 119.1L147 120.1L149 121L151 122L153 123L155 123.9L157 124.9L159 126L161 127.2L163 128.5L165 129.9L167 131.4L169 132.8L171 134L173 135L175 136L177 136.8L179 137.6L181 138.3L183 138.7L185 138.9L187 139L189 139L191 138.9L193 138.9L195 138.9L197 138.9L199 138.9L201 138.9L203 138.9L205 138.9L207 138.9L209 138.8L211 138.8L213 138.8L215 138.7L217 138.6L219 138.5L221 138.4L223 138.4L225 138.3L227 138.3L229 138.3L231 138.2L233 138.2L235 138.2L237 138.2L239 138.2L241 138.1L243 138.1L245 138.2L247 138.3L249 138.4L251 138.5L253 138.7L255 138.9L257 139.2L259 139.4L261 139.7L263 140.2L265 140.7L267 141.3L269 142L271 142.7L273 143.4L275 144.1L277 144.8L279 145.6L281 146.4L283 147.2L285 148.1L287 149L289 149.9L291 150.8L293 151.6L295 152.3L297 153L299 153.6L301 154.3L303 154.9L305 155.6L307 156.1L309 156.6L311 157L313 157.3L315 157.6L317 157.7L319 157.9L321 158L323 158.2L325 158.3L327 158.4L329 158.5L331 158.6L333 158.7L335 158.7L337 158.8L339 158.8L341 158.9L343 158.9L345 159L347 159.1L349 159.2L351 159.4L353 159.8L355 160.3L357 161L359 162.1L361 163.8L363 166.1L365 168.5L367 170.4L369 171.9L371 173.3L373 174.4L375 175.1L377 175.4L379 175.4L381 175.3L383 175.1L385 174.8L387 174.3L389 173.5L391 172.4L393 171.2L395 170L397 168.9L399 167.7L401 166.6L403 165.4L405 164.1L407 162.8L409 161.5L411 160.1L413 158.8L415 157.6L417 156.3L419 155.2L421 154.2L423 153.4L425 152.8L427 152.2L429 151.8L431 151.4L433 151L435 150.7L437 150.3L439 150L441 149.7L443 149.5L445 149.2L447 148.9L449 148.7L451 148.4L453 148.1L455 147.9L457 147.6L459 147.3L461 147L463 146.8L465 146.6L467 146.6L467 169.3L465 169.3L463 169.2L461 169.1L459 169L457 168.9L455 168.8L453 168.7L451 168.7L449 168.6L447 168.6L445 168.6L443 168.6L441 168.6L439 168.7L437 168.7L435 168.8L433 169L431 169.2L429 169.5L427 169.9L425 170.3L423 170.7L421 171.2L419 171.9L417 172.6L415 173.4L413 174.3L411 175.2L409 176.2L407 177.2L405 178.3L403 179.4L401 180.5L399 181.6L397 182.8L395 184.1L393 185.4L391 186.8L389 188.2L387 189.1L385 189.7L383 190L381 190.2L379 190.4L377 190.5L375 190.3L373 189.7L371 188.8L369 187.7L367 186.4L365 184.6L363 182.2L361 179.8L359 177.9L357 176.7L355 176.1L353 175.6L351 175.1L349 174.7L347 174.3L345 173.8L343 173.3L341 172.9L339 172.5L337 172.2L335 172L333 171.9L331 171.9L329 171.9L327 171.9L325 172L323 172.1L321 172.2L319 172.3L317 172.4L315 172.5L313 172.6L311 172.7L309 172.9L307 173.1L305 173.3L303 173.5L301 173.6L299 173.8L297 173.8L295 173.8L293 173.8L291 173.7L289 173.6L287 173.5L285 173.4L283 173.2L281 173.1L279 172.9L277 172.6L275 172.3L273 171.8L271 171.2L269 170.4L267 169.6L265 168.8L263 168.1L261 167.4L259 166.8L257 166.3L255 165.8L253 165.3L251 164.9L249 164.5L247 164.2L245 163.9L243 163.7L241 163.5L239 163.4L237 163.2L235 163.1L233 163L231 162.9L229 162.8L227 162.7L225 162.7L223 162.6L221 162.6L219 162.6L217 162.6L215 162.5L213 162.5L211 162.5L209 162.4L207 162.4L205 162.4L203 162.3L201 162.3L199 162.3L197 162.2L195 162.2L193 162.1L191 162.1L189 162L187 161.9L185 161.8L183 161.7L181 161.5L179 161.2L177 160.9L175 160.6L173 160.2L171 159.9L169 159.5L167 159.1L165 158.7L163 158.2L161 157.7L159 157.2L157 156.7L155 156.1L153 155.5L151 154.8L149 154.1L147 153.2L145 152.3L143 151.2L141 150L139 148.7L137 147.3L135 146L133 144.6L131 143.1L129 141.6L127 140L125 138.4L123 136.8L121 135.2L119 133.5L117 131.8L115 130L113 128.4L111 126.8L109 125.2L107 123.8L105 122.5L103 121.2L101 120.2L99 119.6L97 119.4L95 119.3L93 119.3L91 119.2L89 119.2L87 119.1L85 119.1L83 119.1L81 119.1L79 119.1L77 119.1L75 119L73 119L71 119L69 119Z" fill-opacity="0.44"/><path d="M69 102.1L71 102.1L73 102.1L75 102.1L77 102L79 102L81 102L83 101.9L85 101.9L87 101.8L89 101.8L91 101.8L93 101.7L95 101.7L97 101.7L99 101.7L101 101.9L103 102.1L105 102.6L107 103.4L109 104.2L111 105L113 105.8L115 106.6L117 107.4L119 108.2L121 109.1L123 109.9L125 110.8L127 111.8L129 112.7L131 113.7L133 114.7L135 115.7L137 116.7L139 117.7L141 118.7L143 119.7L145 120.7L147 121.7L149 122.7L151 123.7L153 124.6L155 125.6L157 126.6L159 127.7L161 128.8L163 130.2L165 131.7L167 133.2L169 134.7L171 135.9L173 136.9L175 137.8L177 138.7L179 139.5L181 140.1L183 140.5L185 140.7L187 140.7L189 140.7L191 140.8L193 140.8L195 140.9L197 141L199 141L201 141.1L203 141.2L205 141.2L207 141.2L209 141.2L211 141.2L213 141.2L215 141.1L217 141L219 140.9L221 140.8L223 140.8L225 140.7L227 140.7L229 140.7L231 140.6L233 140.6L235 140.6L237 140.6L239 140.5L241 140.5L243 140.5L245 140.6L247 140.7L249 140.8L251 140.9L253 141.1L255 141.3L257 141.5L259 141.8L261 142.1L263 142.5L265 143L267 143.6L269 144.2L271 144.8L273 145.4L275 146.1L277 146.7L279 147.4L281 148.2L283 148.9L285 149.8L287 150.6L289 151.4L291 152.2L293 153L295 153.7L297 154.3L299 154.9L301 155.6L303 156.2L305 156.8L307 157.3L309 157.8L311 158.2L313 158.5L315 158.7L317 158.9L319 159.1L321 159.3L323 159.4L325 159.6L327 159.7L329 159.8L331 159.9L333 160L335 160.1L337 160.1L339 160.2L341 160.2L343 160.3L345 160.3L347 160.4L349 160.5L351 160.7L353 161.1L355 161.5L357 162.2L359 163.2L361 165L363 167.3L365 169.6L367 171.5L369 173.1L371 174.4L373 175.6L375 176.3L377 176.6L379 176.6L381 176.4L383 176.2L385 176L387 175.5L389 174.7L391 173.6L393 172.4L395 171.2L397 170L399 168.9L401 167.7L403 166.5L405 165.3L407 164L409 162.7L411 161.4L413 160.1L415 158.9L417 157.7L419 156.6L421 155.6L423 154.9L425 154.3L427 153.8L429 153.3L431 153L433 152.6L435 152.3L437 152L439 151.8L441 151.6L443 151.5L445 151.4L447 151.3L449 151.2L451 151.1L453 151L455 150.9L457 150.8L459 150.7L461 150.7L463 150.6L465 150.6L467 150.6L467 165.3L465 165.3L463 165.4L461 165.5L459 165.6L457 165.7L455 165.8L453 165.9L451 166L449 166.1L447 166.2L445 166.4L443 166.6L441 166.7L439 166.9L437 167L435 167.2L433 167.3L431 167.6L429 167.9L427 168.3L425 168.7L423 169.2L421 169.7L419 170.4L417 171.2L415 172.1L413 173L411 173.9L409 175L407 176L405 177.1L403 178.2L401 179.3L399 180.5L397 181.7L395 182.9L393 184.2L391 185.7L389 187L387 188L385 188.5L383 188.8L381 189.1L379 189.3L377 189.3L375 189.1L373 188.5L371 187.6L369 186.6L367 185.2L365 183.4L363 181L361 178.6L359 176.7L357 175.6L355 174.8L353 174.3L351 173.8L349 173.4L347 172.9L345 172.5L343 172L341 171.6L339 171.2L337 170.8L335 170.6L333 170.5L331 170.5L329 170.6L327 170.7L325 170.7L323 170.9L321 171L319 171.1L317 171.2L315 171.3L313 171.4L311 171.6L309 171.7L307 171.9L305 172.1L303 172.2L301 172.4L299 172.5L297 172.5L295 172.5L293 172.4L291 172.4L289 172.2L287 172.1L285 171.9L283 171.8L281 171.6L279 171.4L277 171.1L275 170.8L273 170.3L271 169.7L269 168.9L267 168.1L265 167.3L263 166.6L261 165.9L259 165.3L257 164.8L255 164.3L253 163.8L251 163.4L249 163L247 162.7L245 162.4L243 162.2L241 162L239 161.9L237 161.7L235 161.6L233 161.5L231 161.4L229 161.3L227 161.2L225 161.2L223 161.1L221 161.1L219 161.1L217 161.1L215 161L213 161L211 161L209 160.9L207 160.9L205 160.9L203 160.9L201 160.9L199 160.8L197 160.8L195 160.8L193 160.8L191 160.7L189 160.7L187 160.6L185 160.5L183 160.3L181 160.1L179 159.8L177 159.5L175 159.1L173 158.8L171 158.4L169 158L167 157.5L165 157.1L163 156.6L161 156.1L159 155.6L157 155L155 154.4L153 153.8L151 153.1L149 152.4L147 151.6L145 150.6L143 149.5L141 148.3L139 147L137 145.7L135 144.3L133 142.9L131 141.4L129 139.9L127 138.3L125 136.7L123 135.1L121 133.5L119 131.8L117 130.1L115 128.4L113 126.7L111 125.1L109 123.6L107 122.3L105 121.1L103 119.9L101 118.9L99 118.2L97 118L95 118L93 117.9L91 117.9L89 117.8L87 117.8L85 117.8L83 117.8L81 117.7L79 117.7L77 117.7L75 117.7L73 117.7L71 117.7L69 117.7Z" fill-opacity="0.7"/><path d="M69 104.1L71 104.1L73 104.1L75 104.1L77 104L79 104L81 104L83 103.9L85 103.9L87 103.8L89 103.8L91 103.8L93 103.7L95 103.7L97 103.7L99 103.7L101 103.9L103 104.1L105 104.7L107 105.6L109 106.7L111 107.5L113 108.3L115 109.1L117 109.9L119 110.7L121 111.6L123 112.4L125 113.3L127 114.3L129 115.2L131 116.2L133 117.2L135 118.2L137 119.2L139 120.2L141 121.2L143 122.2L145 123.2L147 124.2L149 125.2L151 126.2L153 127.1L155 128.1L157 129.1L159 130.2L161 131.4L163 132.8L165 134.3L167 135.9L169 137.4L171 138.7L173 139.8L175 140.7L177 141.5L179 142.2L181 142.7L183 143.1L185 143.3L187 143.3L189 143.4L191 143.5L193 143.7L195 143.9L197 144L199 144.2L201 144.4L203 144.6L205 144.7L207 144.8L209 144.8L211 144.8L213 144.8L215 144.7L217 144.6L219 144.5L221 144.4L223 144.4L225 144.3L227 144.3L229 144.3L231 144.2L233 144.2L235 144.2L237 144.2L239 144.1L241 144.1L243 144.1L245 144.2L247 144.2L249 144.4L251 144.5L253 144.7L255 144.9L257 145.1L259 145.4L261 145.7L263 146L265 146.5L267 146.9L269 147.4L271 147.9L273 148.5L275 149L277 149.6L279 150.2L281 150.8L283 151.5L285 152.2L287 152.9L289 153.7L291 154.4L293 155L295 155.7L297 156.3L299 156.9L301 157.5L303 158L305 158.6L307 159.1L309 159.6L311 159.9L313 160.2L315 160.5L317 160.7L319 160.9L321 161.1L323 161.3L325 161.5L327 161.6L329 161.8L331 161.9L333 162L335 162.1L337 162.1L339 162.2L341 162.2L343 162.3L345 162.3L347 162.4L349 162.5L351 162.7L353 163L355 163.3L357 163.9L359 165L361 166.7L363 169.1L365 171.4L367 173.3L369 174.8L371 176.2L373 177.3L375 178L377 178.3L379 178.3L381 178.2L383 178L385 177.7L387 177.2L389 176.5L391 175.3L393 174.1L395 172.9L397 171.8L399 170.6L401 169.5L403 168.3L405 167.1L407 165.8L409 164.5L411 163.3L413 162.1L415 160.9L417 159.8L419 158.8L421 157.8L423 157.1L425 156.6L427 156.1L429 155.7L431 155.3L433 155L435 154.7L437 154.5L439 154.4L441 154.4L443 154.6L445 154.7L447 154.8L449 155L451 155.1L453 155.3L455 155.5L457 155.7L459 155.9L461 156.2L463 156.4L465 156.7L467 156.7L467 159.2L465 159.2L463 159.6L461 160L459 160.4L457 160.8L455 161.2L453 161.6L451 162L449 162.3L447 162.7L445 163.1L443 163.5L441 163.9L439 164.3L437 164.5L435 164.7L433 164.9L431 165.2L429 165.6L427 166L425 166.4L423 166.9L421 167.6L419 168.3L417 169.2L415 170.1L413 171L411 172L409 173.1L407 174.2L405 175.3L403 176.4L401 177.6L399 178.7L397 179.9L395 181.2L393 182.5L391 183.9L389 185.2L387 186.2L385 186.8L383 187.1L381 187.3L379 187.5L377 187.6L375 187.4L373 186.8L371 185.9L369 184.8L367 183.5L365 181.6L363 179.3L361 176.9L359 175L357 173.8L355 173L353 172.4L351 171.9L349 171.4L347 171L345 170.5L343 170L341 169.6L339 169.2L337 168.8L335 168.6L333 168.5L331 168.6L329 168.6L327 168.7L325 168.8L323 169L321 169.1L319 169.3L317 169.4L315 169.6L313 169.7L311 169.8L309 169.9L307 170.1L305 170.2L303 170.3L301 170.4L299 170.5L297 170.5L295 170.5L293 170.4L291 170.3L289 170.1L287 170L285 169.8L283 169.6L281 169.3L279 169.1L277 168.9L275 168.6L273 168.1L271 167.4L269 166.7L267 165.9L265 165.1L263 164.3L261 163.6L259 163L257 162.5L255 162.1L253 161.6L251 161.2L249 160.8L247 160.4L245 160.1L243 159.9L241 159.8L239 159.6L237 159.5L235 159.4L233 159.2L231 159.2L229 159.1L227 159L225 158.9L223 158.9L221 158.9L219 158.8L217 158.8L215 158.8L213 158.8L211 158.7L209 158.7L207 158.7L205 158.7L203 158.7L201 158.7L199 158.7L197 158.7L195 158.7L193 158.7L191 158.7L189 158.6L187 158.6L185 158.5L183 158.3L181 158.1L179 157.7L177 157.4L175 156.9L173 156.5L171 156.1L169 155.6L167 155.1L165 154.6L163 154.1L161 153.6L159 153.1L157 152.5L155 151.9L153 151.3L151 150.6L149 149.9L147 149.1L145 148.1L143 147L141 145.8L139 144.5L137 143.2L135 141.8L133 140.4L131 138.9L129 137.4L127 135.8L125 134.2L123 132.6L121 131L119 129.3L117 127.6L115 125.9L113 124.2L111 122.6L109 121.2L107 120.1L105 119L103 117.9L101 116.9L99 116.2L97 116.1L95 116L93 115.9L91 115.9L89 115.9L87 115.8L85 115.8L83 115.8L81 115.8L79 115.7L77 115.7L75 115.7L73 115.7L71 115.7L69 115.7Z" fill-opacity="1"/></g></g></g><path d="M71 111.5L72 111.5L73 111.5L74 111.5L75 111.5L76 111.5L77 111.5L78 111.5L79 111.5L80 111.5L81 111.6L82 111.6L83 111.6L84 111.6L85 111.6L86 111.6L87 111.6L88 111.7L89 111.7L90 111.7L91 111.8L92 111.8L93 111.9L94 111.9L95 112L96 112.1L97 112.3L98 112.5L99 112.9L100 113.2L101 113.6L102 114L103 114.5L104 115L105 115.5L106 116L107 116.6L108 117.1L109 117.7L110 118.3L111 118.8L112 119.4L113 120L114 120.5L115 121.1L116 121.6L117 122.1L118 122.6L119 123.1L120 123.6L121 124.1L122 124.6L123 125.1L124 125.6L125 126.1L126 126.6L127 127L128 127.5L129 128L130 128.5L131 129L132 129.4L133 129.9L134 130.4L135 130.9L136 131.4L137 131.9L138 132.3L139 132.8L140 133.3L141 133.8L142 134.3L143 134.8L144 135.2L145 135.7L146 136.2L147 136.7L148 137.2L149 137.7L150 138.1L151 138.6L152 139.1L153 139.6L154 140.1L155 140.6L156 141.1L157 141.6L158 142.1L159 142.6L160 143.2L161 143.7L162 144.2L163 144.6L164 145.1L165 145.6L166 146L167 146.4L168 146.9L169 147.3L170 147.7L171 148L172 148.3L173 148.5L174 148.8L175 149L176 149.1L177 149.3L178 149.4L179 149.5L180 149.6L181 149.7L182 149.8L183 149.8L184 149.9L185 150L186 150L187 150L188 150L189 150L190 150L191 150L192 150L193 150L194 150L195 150L196 150L197 150L198 150L199 150L200 150L201 150L202 150L203 150L204 150L205 150L206 150L207 150L208 150L209 150L210 149.9L211 149.9L212 149.9L213 149.9L214 149.8L215 149.8L216 149.7L217 149.7L218 149.6L219 149.6L220 149.6L221 149.5L222 149.5L223 149.4L224 149.4L225 149.4L226 149.3L227 149.3L228 149.2L229 149.2L230 149.2L231 149.1L232 149.1L233 149L234 149L235 148.9L236 148.9L237 148.9L238 148.8L239 148.8L240 148.8L241 148.7L242 148.7L243 148.7L244 148.7L245 148.7L246 148.7L247 148.6L248 148.6L249 148.6L250 148.6L251 148.6L252 148.6L253 148.6L254 148.7L255 148.8L256 149L257 149.1L258 149.3L259 149.5L260 149.7L261 150L262 150.3L263 150.6L264 150.9L265 151.2L266 151.6L267 151.9L268 152.3L269 152.7L270 153.1L271 153.5L272 153.9L273 154.3L274 154.7L275 155.1L276 155.6L277 156L278 156.4L279 156.9L280 157.3L281 157.7L282 158.2L283 158.6L284 159.1L285 159.5L286 160L287 160.5L288 161L289 161.5L290 161.9L291 162.3L292 162.6L293 162.9L294 163.2L295 163.4L296 163.6L297 163.7L298 163.8L299 163.9L300 164L301 164L302 164.1L303 164.2L304 164.2L305 164.3L306 164.3L307 164.4L308 164.5L309 164.5L310 164.6L311 164.6L312 164.7L313 164.7L314 164.8L315 164.9L316 164.9L317 165L318 165.1L319 165.2L320 165.3L321 165.3L322 165.4L323 165.5L324 165.6L325 165.7L326 165.8L327 165.9L328 166L329 166.1L330 166.2L331 166.3L332 166.4L333 166.5L334 166.6L335 166.7L336 166.8L337 166.9L338 167.1L339 167.2L340 167.3L341 167.4L342 167.5L343 167.6L344 167.7L345 167.8L346 168L347 168.1L348 168.2L349 168.4L350 168.5L351 168.7L352 168.9L353 169.1L354 169.4L355 169.7L356 170.1L357 170.5L358 171L359 171.6L360 172.4L361 173.3L362 174.2L363 175.2L364 176.3L365 177.4L366 178.4L367 179.3L368 180.1L369 180.8L370 181.5L371 182.1L372 182.6L373 183L374 183.4L375 183.8L376 184L377 184L378 184L379 184L380 184L381 184L382 183.9L383 183.8L384 183.6L385 183.3L386 183L387 182.6L388 182L389 181.3L390 180.6L391 180L392 179.4L393 178.7L394 178.1L395 177.4L396 176.7L397 176L398 175.2L399 174.5L400 173.7L401 172.9L402 172.2L403 171.5L404 170.8L405 170.2L406 169.6L407 169L408 168.4L409 167.8L410 167.2L411 166.7L412 166.2L413 165.7L414 165.3L415 164.9L416 164.6L417 164.3L418 164L419 163.7L420 163.4L421 163.1L422 162.8L423 162.5L424 162.2L425 161.9L426 161.5L427 161.2L428 160.9L429 160.6L430 160.3L431 160L432 159.7L433 159.4L434 159.2L435 159L436 158.8L437 158.7L438 158.6L439 158.5L440 158.5L441 158.4L442 158.4L443 158.3L444 158.3L445 158.3L446 158.3L447 158.3L448 158.3L449 158.3L450 158.3L451 158.3L452 158.3L453 158.3L454 158.3L455 158.3L456 158.3L457 158.3L458 158.3L459 158.3L460 158.3L461 158.3L462 158.3L463 158.3L464 158.3L465 158.3" fill="none" stroke="#ff2800" stroke-width="0.95"/><path d="M71 320.3L72 319.5L73 318.8L74 318.1L75 317.5L76 317L77 316.5L78 316L79 315.6L80 315.2L81 314.9L82 314.6L83 314.3L84 314L85 313.7L86 313.5L87 313.2L88 313L89 312.8L90 312.6L91 312.4L92 312.2L93 312.1L94 311.9L95 311.8L96 311.6L97 311.4L98 311.2L99 311L100 310.7L101 310.4L102 310L103 309.6L104 309.2L105 308.7L106 308.3L107 307.8L108 307.4L109 307L110 306.6L111 306.1L112 305.7L113 305.2L114 304.8L115 304.4L116 303.9L117 303.5L118 303L119 302.6L120 302.1L121 301.6L122 301.2L123 300.7L124 300.3L125 299.8L126 299.4L127 298.9L128 298.4L129 298L130 297.5L131 297.1L132 296.6L133 296.1L134 295.7L135 295.2L136 294.7L137 294.3L138 293.8L139 293.3L140 292.8L141 292.4L142 291.9L143 291.4L144 291L145 290.5L146 290L147 289.5L148 289.1L149 288.6L150 288.1L151 287.6L152 287.2L153 286.7L154 286.2L155 285.7L156 285.3L157 284.8L158 284.3L159 283.9L160 283.4L161 282.9L162 282.5L163 282L164 281.6L165 281.1L166 280.7L167 280.2L168 279.8L169 279.4L170 279L171 278.7L172 278.3L173 278L174 277.7L175 277.5L176 277.2L177 277L178 276.8L179 276.7L180 276.6L181 276.6L182 276.5L183 276.5L184 276.4L185 276.4L186 276.4L187 276.4L188 276.4L189 276.5L190 276.6L191 276.7L192 276.9L193 277.1L194 277.2L195 277.4L196 277.6L197 277.8L198 278L199 278.2L200 278.4L201 278.6L202 278.9L203 279.1L204 279.3L205 279.6L206 279.8L207 280L208 280.3L209 280.5L210 280.7L211 281L212 281.2L213 281.5L214 281.7L215 282L216 282.2L217 282.5L218 282.7L219 283L220 283.2L221 283.5L222 283.7L223 284L224 284.2L225 284.4L226 284.7L227 284.9L228 285.2L229 285.4L230 285.7L231 285.9L232 286.1L233 286.4L234 286.6L235 286.9L236 287.1L237 287.3L238 287.6L239 287.8L240 288L241 288.2L242 288.4L243 288.6L244 288.8L245 289L246 289.2L247 289.3L248 289.5L249 289.7L250 289.8L251 289.9L252 290L253 290.1L254 290.2L255 290.3L256 290.4L257 290.5L258 290.6L259 290.6L260 290.7L261 290.8L262 290.9L263 291L264 291L265 291.1L266 291.2L267 291.2L268 291.2L269 291.2L270 291.2L271 291.1L272 291.1L273 291.1L274 291L275 291L276 290.9L277 290.9L278 290.9L279 290.9L280 290.8L281 290.8L282 290.8L283 290.8L284 290.8L285 290.7L286 290.7L287 290.7L288 290.7L289 290.7L290 290.6L291 290.6L292 290.6L293 290.6L294 290.6L295 290.5L296 290.5L297 290.5L298 290.4L299 290.4L300 290.4L301 290.3L302 290.3L303 290.2L304 290.2L305 290.1L306 290L307 290L308 289.9L309 289.8L310 289.8L311 289.7L312 289.6L313 289.5L314 289.4L315 289.3L316 289.2L317 289L318 288.8L319 288.6L320 288.4L321 288.1L322 287.7L323 287.3L324 286.8L325 286.2L326 285.4L327 284.5L328 283.5L329 282.3L330 281.1L331 279.8L332 278.5L333 277.2L334 276L335 275L336 274L337 273.1L338 272.2L339 271.4L340 270.6L341 269.9L342 269.2L343 268.5L344 267.8L345 267.2L346 266.6L347 266.1L348 265.6L349 265.1L350 264.7L351 264.3L352 264L353 263.6L354 263.3L355 263L356 262.7L357 262.4L358 262L359 261.6L360 261.2L361 260.8L362 260.4L363 260L364 259.6L365 259.3L366 258.9L367 258.6L368 258.3L369 258L370 257.8L371 257.6L372 257.4L373 257.3L374 257.2L375 257.1L376 257L377 257L378 257.1L379 257.2L380 257.4L381 257.6L382 257.9L383 258.2L384 258.6L385 259.1L386 259.5L387 259.9L388 260.3L389 260.8L390 261.2L391 261.6L392 262L393 262.5L394 262.8L395 263.2L396 263.5L397 263.9L398 264.2L399 264.5L400 264.9L401 265.1L402 265.4L403 265.7L404 265.9L405 266.1L406 266.3L407 266.4L408 266.6L409 266.7L410 266.9L411 267L412 267.1L413 267.3L414 267.4L415 267.5L416 267.6L417 267.7L418 267.8L419 268L420 268.1L421 268.2L422 268.3L423 268.4L424 268.5L425 268.7L426 268.9L427 269L428 269.2L429 269.4L430 269.6L431 269.7L432 269.9L433 270L434 270.1L435 270.2L436 270.3L437 270.3L438 270.4L439 270.4L440 270.5L441 270.5L442 270.6L443 270.6L444 270.6L445 270.7L446 270.7L447 270.7L448 270.7L449 270.8L450 270.8L451 270.8L452 270.8L453 270.8L454 270.9L455 270.9L456 270.9L457 270.9L458 270.9L459 270.9L460 271L461 271L462 271L463 271L464 271L465 271" fill="none" stroke="#2222ff" stroke-width="0.95"/><path d="M71 303.6L72 304.3L73 304.9L74 305.5L75 306L76 306.5L77 306.9L78 307.3L79 307.7L80 308L81 308.3L82 308.6L83 308.8L84 309L85 309.2L86 309.3L87 309.4L88 309.5L89 309.6L90 309.7L91 309.8L92 309.9L93 310L94 310L95 310.1L96 310.1L97 310.2L98 310.2L99 310.2L100 310.2L101 310.2L102 310.2L103 310.2L104 310.2L105 310.2L106 310.2L107 310.2L108 310.2L109 310.2L110 310.2L111 310.2L112 310.2L113 310.2L114 310.2L115 310.2L116 310.2L117 310.2L118 310.2L119 310.2L120 310.2L121 310.2L122 310.2L123 310.2L124 310.2L125 310.2L126 310.2L127 310.2L128 310.2L129 310.2L130 310.2L131 310.2L132 310.2L133 310.2L134 310.2L135 310.2L136 310.2L137 310.2L138 310.1L139 310.1L140 310.1L141 310.1L142 310.1L143 310.1L144 310.1L145 310.1L146 310L147 310L148 310L149 310L150 310L151 310L152 310L153 310L154 310L155 310L156 310L157 310L158 310L159 309.9L160 309.9L161 309.9L162 309.9L163 309.9L164 309.9L165 309.9L166 309.9L167 309.9L168 309.9L169 309.9L170 309.9L171 309.9L172 309.9L173 309.9L174 309.9L175 309.9L176 309.9L177 309.8L178 309.8L179 309.8L180 309.8L181 309.8L182 309.8L183 309.8L184 309.8L185 309.8L186 309.8L187 309.7L188 309.7L189 309.7L190 309.7L191 309.7L192 309.6L193 309.6L194 309.5L195 309.4L196 309.2L197 309L198 308.7L199 308.4L200 308.1L201 307.8L202 307.5L203 307.2L204 306.9L205 306.6L206 306.3L207 306L208 305.7L209 305.4L210 305.1L211 304.8L212 304.5L213 304.2L214 303.9L215 303.6L216 303.3L217 303.1L218 302.8L219 302.5L220 302.2L221 302L222 301.7L223 301.4L224 301.2L225 301L226 300.7L227 300.5L228 300.3L229 300.1L230 299.8L231 299.6L232 299.4L233 299.2L234 299L235 298.8L236 298.6L237 298.4L238 298.2L239 298L240 297.8L241 297.6L242 297.4L243 297.2L244 297L245 296.8L246 296.6L247 296.4L248 296.2L249 296L250 295.8L251 295.6L252 295.4L253 295.2L254 294.9L255 294.7L256 294.5L257 294.3L258 294L259 293.8L260 293.6L261 293.3L262 293.1L263 292.8L264 292.5L265 292.2L266 291.9L267 291.6L268 291.3L269 290.9L270 290.5L271 290.1L272 289.7L273 289.2L274 288.7L275 288.3L276 287.8L277 287.4L278 287L279 286.5L280 286.1L281 285.7L282 285.2L283 284.8L284 284.4L285 284L286 283.7L287 283.3L288 283L289 282.7L290 282.4L291 282.1L292 281.8L293 281.6L294 281.4L295 281.2L296 281L297 280.9L298 280.7L299 280.6L300 280.4L301 280.3L302 280.2L303 280.2L304 280.1L305 280.1L306 280.1L307 280.2L308 280.2L309 280.3L310 280.4L311 280.6L312 280.7L313 280.9L314 281L315 281.2L316 281.4L317 281.6L318 281.9L319 282.2L320 282.5L321 282.8L322 283.2L323 283.6L324 284L325 284.4L326 284.8L327 285.4L328 285.9L329 286.5L330 287.2L331 288L332 288.8L333 289.6L334 290.3L335 291.1L336 291.8L337 292.5L338 293.2L339 294L340 294.8L341 295.8L342 296.7L343 297.5L344 298.2L345 298.8L346 299.4L347 299.8L348 300.2L349 300.5L350 300.7L351 301L352 301.1L353 301.3L354 301.3L355 301.3L356 301.3L357 301.3L358 301.3L359 301.2L360 301.1L361 300.9L362 300.6L363 300.3L364 300L365 299.6L366 299.2L367 298.8L368 298.4L369 298.1L370 297.7L371 297.3L372 296.9L373 296.6L374 296.3L375 296L376 295.9L377 295.7L378 295.6L379 295.6L380 295.5L381 295.4L382 295.3L383 295.3L384 295.2L385 295.2L386 295.2L387 295.2L388 295.2L389 295.3L390 295.3L391 295.4L392 295.5L393 295.6L394 295.7L395 295.8L396 296L397 296.2L398 296.5L399 296.9L400 297.2L401 297.5L402 297.8L403 298.1L404 298.4L405 298.8L406 299.2L407 299.6L408 300.1L409 300.6L410 301.1L411 301.7L412 302.3L413 302.8L414 303.3L415 303.7L416 304.1L417 304.4L418 304.6L419 304.8L420 304.9L421 305L422 305.1L423 305.2L424 305.3L425 305.3L426 305.4L427 305.5L428 305.5L429 305.6L430 305.6L431 305.7L432 305.7L433 305.8L434 305.8L435 305.8L436 305.8L437 305.8L438 305.8L439 305.8L440 305.9L441 305.9L442 305.9L443 305.9L444 305.9L445 305.9L446 305.9L447 305.9L448 305.9L449 305.9L450 305.9L451 306L452 306L453 306L454 306L455 306L456 306L457 306L458 306L459 306L460 306L461 306L462 306L463 306L464 306L465 306" fill="none" stroke="#303030" stroke-width="0.95"/><g fill="none" stroke="#ff0d0d" stroke-width="0.95"><path d="M68.15 115L74.31 115M71.23 111.92L71.23 118.08M73.71 115L79.86 115M76.79 111.92L76.79 118.08M79.26 115L85.42 115M82.34 111.92L82.34 118.08M84.82 115L90.97 115M87.89 111.92L87.89 118.08M90.37 115L96.52 115M93.45 111.92L93.45 118.08M95.93 115L102.08 115M99 111.92L99 118.08"/></g><g fill="none" stroke="#ff0d0d" stroke-width="0.95"><path d="M68.15 137.2L71.23 134.12L74.31 137.2L71.23 140.28ZM73.71 137.2L76.79 134.12L79.86 137.2L76.79 140.28ZM79.26 137.2L82.34 134.12L85.42 137.2L82.34 140.28ZM84.82 137.2L87.89 134.12L90.97 137.2L87.89 140.28ZM90.37 137.2L93.45 134.12L96.52 137.2L93.45 140.28ZM95.93 137.2L99 134.12L102.08 137.2L99 140.28Z"/></g><g fill="none" stroke="#ff0d0d" stroke-width="0.95"><path d="M171.21 162.62L174.14 167.69L168.28 167.69ZM176.77 162.62L179.7 167.69L173.84 167.69ZM182.32 162.62L185.25 167.69L179.39 167.69ZM187.88 162.62L190.8 167.69L184.95 167.69ZM193.43 162.62L196.36 167.69L190.5 167.69Z"/></g><g fill="none" stroke="#ff0d0d" stroke-width="0.95"><path d="M243.42 164.28L246.35 159.21L240.49 159.21ZM248.97 164.28L251.9 159.21L246.05 159.21ZM254.53 164.28L257.46 159.21L251.6 159.21ZM260.08 164.28L263.01 159.21L257.15 159.21ZM265.64 164.28L268.57 159.21L262.71 159.21Z"/></g><g fill="none" stroke="#ff0d0d" stroke-width="0.95"><path d="M290.33 164.4L296.49 164.4M293.41 161.32L293.41 167.48M291.24 162.22L295.59 166.58M291.24 166.58L295.59 162.22M295.89 164.4L302.04 164.4M298.97 161.32L298.97 167.48M296.79 162.22L301.14 166.58M296.79 166.58L301.14 162.22M301.44 164.4L307.6 164.4M304.52 161.32L304.52 167.48M302.34 162.22L306.69 166.58M302.34 166.58L306.69 162.22M307 164.4L313.15 164.4M310.07 161.32L310.07 167.48M307.9 162.22L312.25 166.58M307.9 166.58L312.25 162.22M312.55 164.4L318.7 164.4M315.63 161.32L315.63 167.48M313.45 162.22L317.8 166.58M313.45 166.58L317.8 162.22"/></g><g fill="none" stroke="#ff0d0d" stroke-width="0.95"><path d="M312.55 177.5L318.7 177.5M315.63 174.42L315.63 180.58M318.11 177.5L324.26 177.5M321.18 174.42L321.18 180.58M323.66 177.5L329.81 177.5M326.74 174.42L326.74 180.58M329.22 177.5L335.37 177.5M332.29 174.42L332.29 180.58M334.77 177.5L340.92 177.5M337.85 174.42L337.85 180.58"/></g><g fill="none" stroke="#ff0d0d" stroke-width="0.95"><circle cx="337.85" cy="160.6" r="2.17"/><circle cx="343.4" cy="160.6" r="2.17"/><circle cx="348.96" cy="160.6" r="2.17"/><circle cx="354.51" cy="160.6" r="2.17"/><circle cx="360.06" cy="160.6" r="2.17"/><circle cx="365.62" cy="160.6" r="2.17"/></g><g fill="none" stroke="#ff0d0d" stroke-width="0.95"><path d="M334.77 181L337.85 177.92L340.92 181L337.85 184.08ZM340.33 181L343.4 177.92L346.48 181L343.4 184.08ZM345.88 181L348.96 177.92L352.03 181L348.96 184.08ZM351.43 181L354.51 177.92L357.59 181L354.51 184.08ZM356.99 181L360.06 177.92L363.14 181L360.06 184.08ZM362.54 181L365.62 177.92L368.69 181L365.62 184.08Z"/></g><g fill="none" stroke="#ff0d0d" stroke-width="0.95"><path d="M334.77 189.5L340.92 189.5M337.85 186.42L337.85 192.58M340.33 189.5L346.48 189.5M343.4 186.42L343.4 192.58M345.88 189.5L352.03 189.5M348.96 186.42L348.96 192.58M351.43 189.5L357.59 189.5M354.51 186.42L354.51 192.58M356.99 189.5L363.14 189.5M360.06 186.42L360.06 192.58M362.54 189.5L368.69 189.5M365.62 186.42L365.62 192.58"/></g><g fill="none" stroke="#ff0d0d" stroke-width="0.95"><path d="M363.44 185.1L367.79 185.1M365.62 182.92L365.62 187.28M369 185.1L373.35 185.1M371.17 182.92L371.17 187.28M374.55 185.1L378.9 185.1M376.73 182.92L376.73 187.28M380.11 185.1L384.46 185.1M382.28 182.92L382.28 187.28M385.66 185.1L390.01 185.1M387.84 182.92L387.84 187.28"/><circle cx="365.62" cy="185.1" r="2.17"/><circle cx="371.17" cy="185.1" r="2.17"/><circle cx="376.73" cy="185.1" r="2.17"/><circle cx="382.28" cy="185.1" r="2.17"/><circle cx="387.84" cy="185.1" r="2.17"/></g><g fill="none" stroke="#ff0d0d" stroke-width="0.95"><path d="M384.76 193.5L387.84 190.42L390.91 193.5L387.84 196.58ZM384.76 193.5L390.91 193.5M387.84 190.42L387.84 196.58M390.32 193.5L393.39 190.42L396.47 193.5L393.39 196.58ZM390.32 193.5L396.47 193.5M393.39 190.42L393.39 196.58M395.87 193.5L398.95 190.42L402.02 193.5L398.95 196.58ZM395.87 193.5L402.02 193.5M398.95 190.42L398.95 196.58M401.42 193.5L404.5 190.42L407.58 193.5L404.5 196.58ZM401.42 193.5L407.58 193.5M404.5 190.42L404.5 196.58M406.98 193.5L410.06 190.42L413.13 193.5L410.06 196.58ZM406.98 193.5L413.13 193.5M410.06 190.42L410.06 196.58"/></g><g fill="none" stroke="#ff0d0d" stroke-width="0.95"><path d="M365.62 202.38L368.55 197.31L362.69 197.31ZM371.17 202.38L374.1 197.31L368.24 197.31ZM376.73 202.38L379.66 197.31L373.8 197.31ZM382.28 202.38L385.21 197.31L379.35 197.31ZM387.84 202.38L390.77 197.31L384.91 197.31Z"/></g><g fill="none" stroke="#ff0d0d" stroke-width="0.95"><path d="M362.54 201.2L368.69 201.2M365.62 198.12L365.62 204.28M368.1 201.2L374.25 201.2M371.17 198.12L371.17 204.28M373.65 201.2L379.8 201.2M376.73 198.12L376.73 204.28M379.21 201.2L385.36 201.2M382.28 198.12L382.28 204.28M384.76 201.2L390.91 201.2M387.84 198.12L387.84 204.28"/></g><g fill="none" stroke="#ff0d0d" stroke-width="0.95"><path d="M362.54 208.1L365.62 205.02L368.69 208.1L365.62 211.18ZM362.54 208.1L368.69 208.1M365.62 205.02L365.62 211.18M368.1 208.1L371.17 205.02L374.25 208.1L371.17 211.18ZM368.1 208.1L374.25 208.1M371.17 205.02L371.17 211.18M373.65 208.1L376.73 205.02L379.8 208.1L376.73 211.18ZM373.65 208.1L379.8 208.1M376.73 205.02L376.73 211.18M379.21 208.1L382.28 205.02L385.36 208.1L382.28 211.18ZM379.21 208.1L385.36 208.1M382.28 205.02L382.28 211.18M384.76 208.1L387.84 205.02L390.91 208.1L387.84 211.18ZM384.76 208.1L390.91 208.1M387.84 205.02L387.84 211.18"/></g><g fill="none" stroke="#ff0d0d" stroke-width="0.95"><path d="M412.53 136.4L418.69 136.4M415.61 133.32L415.61 139.48M413.43 134.22L417.78 138.58M413.43 138.58L417.78 134.22M418.09 136.4L424.24 136.4M421.16 133.32L421.16 139.48M418.99 134.22L423.34 138.58M418.99 138.58L423.34 134.22M423.64 136.4L429.79 136.4M426.72 133.32L426.72 139.48M424.54 134.22L428.89 138.58M424.54 138.58L428.89 134.22M429.2 136.4L435.35 136.4M432.27 133.32L432.27 139.48M430.1 134.22L434.45 138.58M430.1 138.58L434.45 134.22M434.75 136.4L440.9 136.4M437.83 133.32L437.83 139.48M435.65 134.22L440 138.58M435.65 138.58L440 134.22"/></g><g fill="none" stroke="#ff0d0d" stroke-width="0.95"><circle cx="410.06" cy="157.1" r="2.17"/><circle cx="415.61" cy="157.1" r="2.17"/><circle cx="421.16" cy="157.1" r="2.17"/><circle cx="426.72" cy="157.1" r="2.17"/><circle cx="432.27" cy="157.1" r="2.17"/></g><g fill="none" stroke="#ff0d0d" stroke-width="0.95"><path d="M407.88 159.3L412.23 159.3M410.06 157.12L410.06 161.48M413.43 159.3L417.78 159.3M415.61 157.12L415.61 161.48M418.99 159.3L423.34 159.3M421.16 157.12L421.16 161.48M424.54 159.3L428.89 159.3M426.72 157.12L426.72 161.48M430.1 159.3L434.45 159.3M432.27 157.12L432.27 161.48"/><circle cx="410.06" cy="159.3" r="2.17"/><circle cx="415.61" cy="159.3" r="2.17"/><circle cx="421.16" cy="159.3" r="2.17"/><circle cx="426.72" cy="159.3" r="2.17"/><circle cx="432.27" cy="159.3" r="2.17"/></g><g fill="none" stroke="#ff0d0d" stroke-width="0.95"><circle cx="415.61" cy="165.7" r="2.17"/><circle cx="421.16" cy="165.7" r="2.17"/><circle cx="426.72" cy="165.7" r="2.17"/><circle cx="432.27" cy="165.7" r="2.17"/><circle cx="437.83" cy="165.7" r="2.17"/></g><g fill="none" stroke="#ff0d0d" stroke-width="0.95"><path d="M406.98 170.4L413.13 170.4M410.06 167.32L410.06 173.48M407.88 168.22L412.23 172.58M407.88 172.58L412.23 168.22M412.53 170.4L418.69 170.4M415.61 167.32L415.61 173.48M413.43 168.22L417.78 172.58M413.43 172.58L417.78 168.22M418.09 170.4L424.24 170.4M421.16 167.32L421.16 173.48M418.99 168.22L423.34 172.58M418.99 172.58L423.34 168.22M423.64 170.4L429.79 170.4M426.72 167.32L426.72 173.48M424.54 168.22L428.89 172.58M424.54 172.58L428.89 168.22M429.2 170.4L435.35 170.4M432.27 167.32L432.27 173.48M430.1 168.22L434.45 172.58M430.1 172.58L434.45 168.22"/></g><g fill="none" stroke="#ff0d0d" stroke-width="0.95"><path d="M406.98 174.9L413.13 174.9M410.06 171.82L410.06 177.98M407.88 172.72L412.23 177.08M407.88 177.08L412.23 172.72M412.53 174.9L418.69 174.9M415.61 171.82L415.61 177.98M413.43 172.72L417.78 177.08M413.43 177.08L417.78 172.72M418.09 174.9L424.24 174.9M421.16 171.82L421.16 177.98M418.99 172.72L423.34 177.08M418.99 177.08L423.34 172.72M423.64 174.9L429.79 174.9M426.72 171.82L426.72 177.98M424.54 172.72L428.89 177.08M424.54 177.08L428.89 172.72M429.2 174.9L435.35 174.9M432.27 171.82L432.27 177.98M430.1 172.72L434.45 177.08M430.1 177.08L434.45 172.72"/></g><g fill="none" stroke="#0a0a0a" stroke-width="0.95"><path d="M68.15 286.4L71.23 283.32L74.31 286.4L71.23 289.48ZM73.71 286.4L76.79 283.32L79.86 286.4L76.79 289.48ZM79.26 286.4L82.34 283.32L85.42 286.4L82.34 289.48ZM84.82 286.4L87.89 283.32L90.97 286.4L87.89 289.48ZM90.37 286.4L93.45 283.32L96.52 286.4L93.45 289.48ZM95.93 286.4L99 283.32L102.08 286.4L99 289.48Z"/></g><g fill="none" stroke="#0a0a0a" stroke-width="0.95"><path d="M68.15 297.3L74.31 297.3M71.23 294.22L71.23 300.38M73.71 297.3L79.86 297.3M76.79 294.22L76.79 300.38M79.26 297.3L85.42 297.3M82.34 294.22L82.34 300.38M84.82 297.3L90.97 297.3M87.89 294.22L87.89 300.38M90.37 297.3L96.52 297.3M93.45 294.22L93.45 300.38M95.93 297.3L102.08 297.3M99 294.22L99 300.38"/></g><g fill="none" stroke="#1414ff" stroke-width="0.95"><path d="M68.15 311.7L71.23 308.62L74.31 311.7L71.23 314.78ZM73.71 311.7L76.79 308.62L79.86 311.7L76.79 314.78ZM79.26 311.7L82.34 308.62L85.42 311.7L82.34 314.78ZM84.82 311.7L87.89 308.62L90.97 311.7L87.89 314.78ZM90.37 311.7L93.45 308.62L96.52 311.7L93.45 314.78ZM95.93 311.7L99 308.62L102.08 311.7L99 314.78Z"/></g><g fill="none" stroke="#1414ff" stroke-width="0.95"><path d="M68.15 322.5L74.31 322.5M71.23 319.42L71.23 325.58M73.71 322.5L79.86 322.5M76.79 319.42L76.79 325.58M79.26 322.5L85.42 322.5M82.34 319.42L82.34 325.58M84.82 322.5L90.97 322.5M87.89 319.42L87.89 325.58M90.37 322.5L96.52 322.5M93.45 319.42L93.45 325.58M95.93 322.5L102.08 322.5M99 319.42L99 325.58"/></g><g fill="none" stroke="#1414ff" stroke-width="0.95"><path d="M171.21 255.62L174.14 260.69L168.28 260.69ZM176.77 255.62L179.7 260.69L173.84 260.69ZM182.32 255.62L185.25 260.69L179.39 260.69ZM187.88 255.62L190.8 260.69L184.95 260.69ZM193.43 255.62L196.36 260.69L190.5 260.69Z"/></g><g fill="none" stroke="#0a0a0a" stroke-width="0.95"><path d="M171.21 305.92L174.14 310.99L168.28 310.99ZM176.77 305.92L179.7 310.99L173.84 310.99ZM182.32 305.92L185.25 310.99L179.39 310.99ZM187.88 305.92L190.8 310.99L184.95 310.99ZM193.43 305.92L196.36 310.99L190.5 310.99Z"/></g><g fill="none" stroke="#0a0a0a" stroke-width="0.95"><path d="M243.42 283.48L246.35 278.41L240.49 278.41ZM248.97 283.48L251.9 278.41L246.05 278.41ZM254.53 283.48L257.46 278.41L251.6 278.41ZM260.08 283.48L263.01 278.41L257.15 278.41ZM265.64 283.48L268.57 278.41L262.71 278.41Z"/></g><g fill="none" stroke="#1414ff" stroke-width="0.95"><path d="M243.42 298.38L246.35 293.31L240.49 293.31ZM248.97 298.38L251.9 293.31L246.05 293.31ZM254.53 298.38L257.46 293.31L251.6 293.31ZM260.08 298.38L263.01 293.31L257.15 293.31ZM265.64 298.38L268.57 293.31L262.71 293.31Z"/></g><g fill="none" stroke="#0a0a0a" stroke-width="0.95"><path d="M290.33 267.1L296.49 267.1M293.41 264.02L293.41 270.18M291.24 264.93L295.59 269.28M291.24 269.28L295.59 264.93M295.89 267.1L302.04 267.1M298.97 264.02L298.97 270.18M296.79 264.93L301.14 269.28M296.79 269.28L301.14 264.93M301.44 267.1L307.6 267.1M304.52 264.02L304.52 270.18M302.34 264.93L306.69 269.28M302.34 269.28L306.69 264.93M307 267.1L313.15 267.1M310.07 264.02L310.07 270.18M307.9 264.93L312.25 269.28M307.9 269.28L312.25 264.93M312.55 267.1L318.7 267.1M315.63 264.02L315.63 270.18M313.45 264.93L317.8 269.28M313.45 269.28L317.8 264.93"/></g><g fill="none" stroke="#1414ff" stroke-width="0.95"><path d="M290.33 303.5L296.49 303.5M293.41 300.42L293.41 306.58M291.24 301.32L295.59 305.68M291.24 305.68L295.59 301.32M295.89 303.5L302.04 303.5M298.97 300.42L298.97 306.58M296.79 301.32L301.14 305.68M296.79 305.68L301.14 301.32M301.44 303.5L307.6 303.5M304.52 300.42L304.52 306.58M302.34 301.32L306.69 305.68M302.34 305.68L306.69 301.32M307 303.5L313.15 303.5M310.07 300.42L310.07 306.58M307.9 301.32L312.25 305.68M307.9 305.68L312.25 301.32M312.55 303.5L318.7 303.5M315.63 300.42L315.63 306.58M313.45 301.32L317.8 305.68M313.45 305.68L317.8 301.32"/></g><g fill="none" stroke="#0a0a0a" stroke-width="0.95"><path d="M312.55 260.2L318.7 260.2M315.63 257.12L315.63 263.28M318.11 260.2L324.26 260.2M321.18 257.12L321.18 263.28M323.66 260.2L329.81 260.2M326.74 257.12L326.74 263.28M329.22 260.2L335.37 260.2M332.29 257.12L332.29 263.28M334.77 260.2L340.92 260.2M337.85 257.12L337.85 263.28"/></g><g fill="none" stroke="#1414ff" stroke-width="0.95"><path d="M312.55 297.1L318.7 297.1M315.63 294.02L315.63 300.18M318.11 297.1L324.26 297.1M321.18 294.02L321.18 300.18M323.66 297.1L329.81 297.1M326.74 294.02L326.74 300.18M329.22 297.1L335.37 297.1M332.29 294.02L332.29 300.18M334.77 297.1L340.92 297.1M337.85 294.02L337.85 300.18"/></g><g fill="none" stroke="#1414ff" stroke-width="0.95"><path d="M334.77 253.3L340.92 253.3M337.85 250.22L337.85 256.38M340.33 253.3L346.48 253.3M343.4 250.22L343.4 256.38M345.88 253.3L352.03 253.3M348.96 250.22L348.96 256.38M351.43 253.3L357.59 253.3M354.51 250.22L354.51 256.38M356.99 253.3L363.14 253.3M360.06 250.22L360.06 256.38M362.54 253.3L368.69 253.3M365.62 250.22L365.62 256.38"/></g><g fill="none" stroke="#1414ff" stroke-width="0.95"><path d="M334.77 273.9L337.85 270.82L340.92 273.9L337.85 276.98ZM340.33 273.9L343.4 270.82L346.48 273.9L343.4 276.98ZM345.88 273.9L348.96 270.82L352.03 273.9L348.96 276.98ZM351.43 273.9L354.51 270.82L357.59 273.9L354.51 276.98ZM356.99 273.9L360.06 270.82L363.14 273.9L360.06 276.98ZM362.54 273.9L365.62 270.82L368.69 273.9L365.62 276.98Z"/></g><g fill="none" stroke="#0a0a0a" stroke-width="1.3"><circle cx="337.85" cy="280.5" r="2.17"/><circle cx="343.4" cy="280.5" r="2.17"/><circle cx="348.96" cy="280.5" r="2.17"/><circle cx="354.51" cy="280.5" r="2.17"/><circle cx="360.06" cy="280.5" r="2.17"/><circle cx="365.62" cy="280.5" r="2.17"/></g><g fill="none" stroke="#1414ff" stroke-width="0.95"><path d="M334.77 293.3L337.85 290.22L340.92 293.3L337.85 296.38ZM340.33 293.3L343.4 290.22L346.48 293.3L343.4 296.38ZM345.88 293.3L348.96 290.22L352.03 293.3L348.96 296.38ZM351.43 293.3L354.51 290.22L357.59 293.3L354.51 296.38ZM356.99 293.3L360.06 290.22L363.14 293.3L360.06 296.38ZM362.54 293.3L365.62 290.22L368.69 293.3L365.62 296.38Z"/></g><g fill="none" stroke="#0a0a0a" stroke-width="0.95"><path d="M334.77 293.3L340.92 293.3M337.85 290.22L337.85 296.38M340.33 293.3L346.48 293.3M343.4 290.22L343.4 296.38M345.88 293.3L352.03 293.3M348.96 290.22L348.96 296.38M351.43 293.3L357.59 293.3M354.51 290.22L354.51 296.38M356.99 293.3L363.14 293.3M360.06 290.22L360.06 296.38M362.54 293.3L368.69 293.3M365.62 290.22L365.62 296.38"/></g><g fill="none" stroke="#1414ff" stroke-width="0.95"><path d="M362.54 255.6L365.62 252.52L368.69 255.6L365.62 258.68ZM362.54 255.6L368.69 255.6M365.62 252.52L365.62 258.68M368.1 255.6L371.17 252.52L374.25 255.6L371.17 258.68ZM368.1 255.6L374.25 255.6M371.17 252.52L371.17 258.68M373.65 255.6L376.73 252.52L379.8 255.6L376.73 258.68ZM373.65 255.6L379.8 255.6M376.73 252.52L376.73 258.68M379.21 255.6L382.28 252.52L385.36 255.6L382.28 258.68ZM379.21 255.6L385.36 255.6M382.28 252.52L382.28 258.68M384.76 255.6L387.84 252.52L390.91 255.6L387.84 258.68ZM384.76 255.6L390.91 255.6M387.84 252.52L387.84 258.68"/></g><g fill="none" stroke="#1414ff" stroke-width="0.95"><path d="M362.54 258.6L365.62 255.52L368.69 258.6L365.62 261.68ZM362.54 258.6L368.69 258.6M365.62 255.52L365.62 261.68M368.1 258.6L371.17 255.52L374.25 258.6L371.17 261.68ZM368.1 258.6L374.25 258.6M371.17 255.52L371.17 261.68M373.65 258.6L376.73 255.52L379.8 258.6L376.73 261.68ZM373.65 258.6L379.8 258.6M376.73 255.52L376.73 261.68M379.21 258.6L382.28 255.52L385.36 258.6L382.28 261.68ZM379.21 258.6L385.36 258.6M382.28 255.52L382.28 261.68M384.76 258.6L387.84 255.52L390.91 258.6L387.84 261.68ZM384.76 258.6L390.91 258.6M387.84 255.52L387.84 261.68"/></g><g fill="none" stroke="#0a0a0a" stroke-width="0.95"><path d="M362.54 270L365.62 266.92L368.69 270L365.62 273.08ZM362.54 270L368.69 270M365.62 266.92L365.62 273.08M368.1 270L371.17 266.92L374.25 270L371.17 273.08ZM368.1 270L374.25 270M371.17 266.92L371.17 273.08M373.65 270L376.73 266.92L379.8 270L376.73 273.08ZM373.65 270L379.8 270M376.73 266.92L376.73 273.08M379.21 270L382.28 266.92L385.36 270L382.28 273.08ZM379.21 270L385.36 270M382.28 266.92L382.28 273.08M384.76 270L387.84 266.92L390.91 270L387.84 273.08ZM384.76 270L390.91 270M387.84 266.92L387.84 273.08"/></g><g fill="none" stroke="#0a0a0a" stroke-width="0.95"><path d="M363.44 271.82H367.79V276.18H363.44ZM363.44 271.82L367.79 276.18M363.44 276.18L367.79 271.82M369 271.82H373.35V276.18H369ZM369 271.82L373.35 276.18M369 276.18L373.35 271.82M374.55 271.82H378.9V276.18H374.55ZM374.55 271.82L378.9 276.18M374.55 276.18L378.9 271.82M380.11 271.82H384.46V276.18H380.11ZM380.11 271.82L384.46 276.18M380.11 276.18L384.46 271.82M385.66 271.82H390.01V276.18H385.66ZM385.66 271.82L390.01 276.18M385.66 276.18L390.01 271.82"/></g><g fill="none" stroke="#1414ff" stroke-width="0.95"><path d="M363.44 274.5L367.79 274.5M365.62 272.32L365.62 276.68M369 274.5L373.35 274.5M371.17 272.32L371.17 276.68M374.55 274.5L378.9 274.5M376.73 272.32L376.73 276.68M380.11 274.5L384.46 274.5M382.28 272.32L382.28 276.68M385.66 274.5L390.01 274.5M387.84 272.32L387.84 276.68"/><circle cx="365.62" cy="274.5" r="2.17"/><circle cx="371.17" cy="274.5" r="2.17"/><circle cx="376.73" cy="274.5" r="2.17"/><circle cx="382.28" cy="274.5" r="2.17"/><circle cx="387.84" cy="274.5" r="2.17"/></g><g fill="none" stroke="#0a0a0a" stroke-width="0.95"><path d="M365.62 283.88L368.55 278.81L362.69 278.81ZM371.17 283.88L374.1 278.81L368.24 278.81ZM376.73 283.88L379.66 278.81L373.8 278.81ZM382.28 283.88L385.21 278.81L379.35 278.81ZM387.84 283.88L390.77 278.81L384.91 278.81Z"/></g><g fill="none" stroke="#0a0a0a" stroke-width="0.95"><path d="M384.76 268L387.84 264.92L390.91 268L387.84 271.08ZM384.76 268L390.91 268M387.84 264.92L387.84 271.08M390.32 268L393.39 264.92L396.47 268L393.39 271.08ZM390.32 268L396.47 268M393.39 264.92L393.39 271.08M395.87 268L398.95 264.92L402.02 268L398.95 271.08ZM395.87 268L402.02 268M398.95 264.92L398.95 271.08M401.42 268L404.5 264.92L407.58 268L404.5 271.08ZM401.42 268L407.58 268M404.5 264.92L404.5 271.08M406.98 268L410.06 264.92L413.13 268L410.06 271.08ZM406.98 268L413.13 268M410.06 264.92L410.06 271.08"/></g><g fill="none" stroke="#0a0a0a" stroke-width="0.8"><circle cx="387.84" cy="268.3" r="2.17"/><circle cx="393.39" cy="268.3" r="2.17"/><circle cx="398.95" cy="268.3" r="2.17"/><circle cx="404.5" cy="268.3" r="2.17"/><circle cx="410.06" cy="268.3" r="2.17"/></g><g fill="none" stroke="#1414ff" stroke-width="0.95"><path d="M384.76 273.6L387.84 270.52L390.91 273.6L387.84 276.68ZM384.76 273.6L390.91 273.6M387.84 270.52L387.84 276.68M390.32 273.6L393.39 270.52L396.47 273.6L393.39 276.68ZM390.32 273.6L396.47 273.6M393.39 270.52L393.39 276.68M395.87 273.6L398.95 270.52L402.02 273.6L398.95 276.68ZM395.87 273.6L402.02 273.6M398.95 270.52L398.95 276.68M401.42 273.6L404.5 270.52L407.58 273.6L404.5 276.68ZM401.42 273.6L407.58 273.6M404.5 270.52L404.5 276.68M406.98 273.6L410.06 270.52L413.13 273.6L410.06 276.68ZM406.98 273.6L413.13 273.6M410.06 270.52L410.06 276.68"/></g><g fill="none" stroke="#1414ff" stroke-width="0.95"><path d="M406.98 258.5L413.13 258.5M410.06 255.42L410.06 261.58M407.88 256.32L412.23 260.68M407.88 260.68L412.23 256.32M412.53 258.5L418.69 258.5M415.61 255.42L415.61 261.58M413.43 256.32L417.78 260.68M413.43 260.68L417.78 256.32M418.09 258.5L424.24 258.5M421.16 255.42L421.16 261.58M418.99 256.32L423.34 260.68M418.99 260.68L423.34 256.32M423.64 258.5L429.79 258.5M426.72 255.42L426.72 261.58M424.54 256.32L428.89 260.68M424.54 260.68L428.89 256.32M429.2 258.5L435.35 258.5M432.27 255.42L432.27 261.58M430.1 256.32L434.45 260.68M430.1 260.68L434.45 256.32"/></g><g fill="none" stroke="#1414ff" stroke-width="0.95"><circle cx="415.61" cy="278.2" r="2.17"/><circle cx="421.16" cy="278.2" r="2.17"/><circle cx="426.72" cy="278.2" r="2.17"/><circle cx="432.27" cy="278.2" r="2.17"/></g><g fill="none" stroke="#0a0a0a" stroke-width="0.95"><circle cx="415.61" cy="277.3" r="2.17"/><circle cx="421.16" cy="277.3" r="2.17"/><circle cx="426.72" cy="277.3" r="2.17"/><circle cx="432.27" cy="277.3" r="2.17"/><circle cx="437.83" cy="277.3" r="2.17"/></g><g fill="none" stroke="#1414ff" stroke-width="0.95"><path d="M407.88 281.43H412.23V285.78H407.88ZM407.88 281.43L412.23 285.78M407.88 285.78L412.23 281.43M413.43 281.43H417.78V285.78H413.43ZM413.43 281.43L417.78 285.78M413.43 285.78L417.78 281.43M418.99 281.43H423.34V285.78H418.99ZM418.99 281.43L423.34 285.78M418.99 285.78L423.34 281.43M424.54 281.43H428.89V285.78H424.54ZM424.54 281.43L428.89 285.78M424.54 285.78L428.89 281.43M430.1 281.43H434.45V285.78H430.1ZM430.1 281.43L434.45 285.78M430.1 285.78L434.45 281.43"/></g><g fill="none" stroke="#0a0a0a" stroke-width="0.95"><path d="M407.88 278.22H412.23V282.57H407.88ZM407.88 278.22L412.23 282.57M407.88 282.57L412.23 278.22M413.43 278.22H417.78V282.57H413.43ZM413.43 278.22L417.78 282.57M413.43 282.57L417.78 278.22M418.99 278.22H423.34V282.57H418.99ZM418.99 278.22L423.34 282.57M418.99 282.57L423.34 278.22M424.54 278.22H428.89V282.57H424.54ZM424.54 278.22L428.89 282.57M424.54 282.57L428.89 278.22M430.1 278.22H434.45V282.57H430.1ZM430.1 278.22L434.45 282.57M430.1 282.57L434.45 278.22"/></g><g fill="none" stroke="#1414ff" stroke-width="0.95"><path d="M406.98 286.8L413.13 286.8M410.06 283.72L410.06 289.88M407.88 284.62L412.23 288.98M407.88 288.98L412.23 284.62M412.53 286.8L418.69 286.8M415.61 283.72L415.61 289.88M413.43 284.62L417.78 288.98M413.43 288.98L417.78 284.62M418.09 286.8L424.24 286.8M421.16 283.72L421.16 289.88M418.99 284.62L423.34 288.98M418.99 288.98L423.34 284.62M423.64 286.8L429.79 286.8M426.72 283.72L426.72 289.88M424.54 284.62L428.89 288.98M424.54 288.98L428.89 284.62M429.2 286.8L435.35 286.8M432.27 283.72L432.27 289.88M430.1 284.62L434.45 288.98M430.1 288.98L434.45 284.62"/></g><g fill="none" stroke="#0a0a0a" stroke-width="0.95"><path d="M407.88 291.3L412.23 291.3M410.06 289.12L410.06 293.48M413.43 291.3L417.78 291.3M415.61 289.12L415.61 293.48M418.99 291.3L423.34 291.3M421.16 289.12L421.16 293.48M424.54 291.3L428.89 291.3M426.72 289.12L426.72 293.48M430.1 291.3L434.45 291.3M432.27 289.12L432.27 293.48"/><circle cx="410.06" cy="291.3" r="2.17"/><circle cx="415.61" cy="291.3" r="2.17"/><circle cx="421.16" cy="291.3" r="2.17"/><circle cx="426.72" cy="291.3" r="2.17"/><circle cx="432.27" cy="291.3" r="2.17"/></g><g fill="none" stroke="#1414ff" stroke-width="0.95"><circle cx="415.61" cy="291.2" r="2.17"/><circle cx="421.16" cy="291.2" r="2.17"/><circle cx="426.72" cy="291.2" r="2.17"/><circle cx="432.27" cy="291.2" r="2.17"/><circle cx="437.83" cy="291.2" r="2.17"/></g><g fill="none" stroke="#1414ff" stroke-width="0.95"><path d="M412.53 294.6L418.69 294.6M415.61 291.52L415.61 297.68M413.43 292.43L417.78 296.78M413.43 296.78L417.78 292.43M418.09 294.6L424.24 294.6M421.16 291.52L421.16 297.68M418.99 292.43L423.34 296.78M418.99 296.78L423.34 292.43M423.64 294.6L429.79 294.6M426.72 291.52L426.72 297.68M424.54 292.43L428.89 296.78M424.54 296.78L428.89 292.43M429.2 294.6L435.35 294.6M432.27 291.52L432.27 297.68M430.1 292.43L434.45 296.78M430.1 296.78L434.45 292.43M434.75 294.6L440.9 294.6M437.83 291.52L437.83 297.68M435.65 292.43L440 296.78M435.65 296.78L440 292.43"/></g><g fill="none" stroke="#0a0a0a" stroke-width="0.95"><path d="M406.98 301.6L413.13 301.6M410.06 298.52L410.06 304.68M407.88 299.43L412.23 303.78M407.88 303.78L412.23 299.43M412.53 301.6L418.69 301.6M415.61 298.52L415.61 304.68M413.43 299.43L417.78 303.78M413.43 303.78L417.78 299.43M418.09 301.6L424.24 301.6M421.16 298.52L421.16 304.68M418.99 299.43L423.34 303.78M418.99 303.78L423.34 299.43M423.64 301.6L429.79 301.6M426.72 298.52L426.72 304.68M424.54 299.43L428.89 303.78M424.54 303.78L428.89 299.43M429.2 301.6L435.35 301.6M432.27 298.52L432.27 304.68M430.1 299.43L434.45 303.78M430.1 303.78L434.45 299.43M434.75 301.6L440.9 301.6M437.83 298.52L437.83 304.68M435.65 299.43L440 303.78M435.65 303.78L440 299.43"/></g><path d="M55.6 168.5H481.2" stroke="#559a55" stroke-width="1" fill="none"/><path d="M55.5 60.1V356.3M55.5 355.9H49.5M55.5 313.7H49.5M55.5 271.5H49.5M55.5 229.3H49.5M55.5 187.1H49.5M55.5 144.9H49.5M55.5 102.7H49.5M55.5 60.5H49.5M99 367.5H465.6M465.6 367.5V373.7M432.27 367.5V373.7M398.95 367.5V373.7M365.62 367.5V373.7M332.29 367.5V373.7M298.97 367.5V373.7M265.64 367.5V373.7M232.31 367.5V373.7M198.98 367.5V373.7M165.66 367.5V373.7M132.33 367.5V373.7M99 367.5V373.7" stroke="#262626" stroke-width="0.9" fill="none"/><g fill="none" stroke="#000" stroke-width="0.9"><path d="M507.6 68.6L510.63 73.85L504.57 73.85Z"/></g><g fill="none" stroke="#000" stroke-width="0.9"><path d="M505.35 81.56H509.85V86.06H505.35ZM505.35 81.56L509.85 86.06M505.35 86.06L509.85 81.56"/></g><g fill="none" stroke="#000" stroke-width="0.9"><path d="M504.42 95.52L510.78 95.52M507.6 92.34L507.6 98.7"/></g><g fill="none" stroke="#000" stroke-width="0.9"><path d="M504.42 107.23L510.78 107.23M507.6 104.05L507.6 110.41M505.35 104.98L509.85 109.48M505.35 109.48L509.85 104.98"/></g><g fill="none" stroke="#000" stroke-width="0.9"><path d="M505.35 116.69L509.85 121.19M505.35 121.19L509.85 116.69"/></g><g fill="none" stroke="#000" stroke-width="0.9"><circle cx="507.6" cy="130.65" r="2.25"/></g><g fill="none" stroke="#000" stroke-width="0.9"><path d="M505.35 142.36L509.85 142.36M507.6 140.11L507.6 144.61"/><circle cx="507.6" cy="142.36" r="2.25"/></g><g fill="none" stroke="#000" stroke-width="0.9"><path d="M504.42 154.07L507.6 150.89L510.78 154.07L507.6 157.25ZM504.42 154.07L510.78 154.07M507.6 150.89L507.6 157.25"/></g><g fill="none" stroke="#000" stroke-width="0.9"><path d="M507.6 169.28L510.63 164.03L504.57 164.03Z"/></g><g fill="none" stroke="#000" stroke-width="0.9"><path d="M504.42 177.49L507.6 174.31L510.78 177.49L507.6 180.67Z"/></g><g fill="#000" stroke="#000" style="text-rendering:geometricPrecision"><text transform="translate(465.6 388.9) scale(1 1.03)" font-size="9.74" text-anchor="middle" stroke-width="0.13">0</text><text transform="translate(432.27 388.9) scale(1 1.03)" font-size="9.74" text-anchor="middle" stroke-width="0.13">6</text><text transform="translate(398.95 388.9) scale(1 1.03)" font-size="9.74" text-anchor="middle" stroke-width="0.13">12</text><text transform="translate(365.62 388.9) scale(1 1.03)" font-size="9.74" text-anchor="middle" stroke-width="0.13">18</text><text transform="translate(332.29 388.9) scale(1 1.03)" font-size="9.74" text-anchor="middle" stroke-width="0.13">24</text><text transform="translate(298.97 388.9) scale(1 1.03)" font-size="9.74" text-anchor="middle" stroke-width="0.13">30</text><text transform="translate(265.64 388.9) scale(1 1.03)" font-size="9.74" text-anchor="middle" stroke-width="0.13">36</text><text transform="translate(232.31 388.9) scale(1 1.03)" font-size="9.74" text-anchor="middle" stroke-width="0.13">42</text><text transform="translate(198.98 388.9) scale(1 1.03)" font-size="9.74" text-anchor="middle" stroke-width="0.13">48</text><text transform="translate(165.66 388.9) scale(1 1.03)" font-size="9.74" text-anchor="middle" stroke-width="0.13">54</text><text transform="translate(132.33 388.9) scale(1 1.03)" font-size="9.74" text-anchor="middle" stroke-width="0.13">60</text><text transform="translate(99 388.9) scale(1 1.03)" font-size="9.74" text-anchor="middle" stroke-width="0.13">66</text><text transform="translate(41.9 356.1) rotate(-90) scale(1 1.03)" font-size="9.74" text-anchor="middle" stroke-width="0.13">50</text><text transform="translate(41.9 313.9) rotate(-90) scale(1 1.03)" font-size="9.74" text-anchor="middle" stroke-width="0.13">100</text><text transform="translate(41.9 271.7) rotate(-90) scale(1 1.03)" font-size="9.74" text-anchor="middle" stroke-width="0.13">150</text><text transform="translate(41.9 229.5) rotate(-90) scale(1 1.03)" font-size="9.74" text-anchor="middle" stroke-width="0.13">200</text><text transform="translate(41.9 187.3) rotate(-90) scale(1 1.03)" font-size="9.74" text-anchor="middle" stroke-width="0.13">250</text><text transform="translate(41.9 145.1) rotate(-90) scale(1 1.03)" font-size="9.74" text-anchor="middle" stroke-width="0.13">300</text><text transform="translate(41.9 102.9) rotate(-90) scale(1 1.03)" font-size="9.74" text-anchor="middle" stroke-width="0.13">350</text><text transform="translate(41.9 60.7) rotate(-90) scale(1 1.03)" font-size="9.74" text-anchor="middle" stroke-width="0.13">400</text><text transform="translate(268.2 411.7) scale(1 1.03)" font-size="9.74" text-anchor="middle" stroke-width="0.13">weeks to election</text><text transform="translate(18.6 208.2) rotate(-90) scale(1 1.03)" font-size="9.74" text-anchor="middle" stroke-width="0.13">seats</text><text transform="translate(268.45 23) scale(1 0.95)" font-size="11.32" text-anchor="middle" font-weight="bold" stroke-width="0.1">2019 Election Polls – Seats Forecast</text><text transform="translate(516.5 75.45) scale(1 1.03)" font-size="9.74" text-anchor="start" stroke-width="0.13">CSDS</text><text transform="translate(516.5 87.16) scale(1 1.03)" font-size="9.74" text-anchor="start" stroke-width="0.13">Nielsen</text><text transform="translate(516.5 98.87) scale(1 1.03)" font-size="9.74" text-anchor="start" stroke-width="0.13">CVoter</text><text transform="translate(516.5 110.58) scale(1 1.03)" font-size="9.74" text-anchor="start" stroke-width="0.13">Other</text><text transform="translate(516.5 122.29) scale(1 1.03)" font-size="9.74" text-anchor="start" stroke-width="0.13">Hansa Research</text><text transform="translate(516.5 134) scale(1 1.03)" font-size="9.74" text-anchor="start" stroke-width="0.13">CNX</text><text transform="translate(516.5 145.71) scale(1 1.03)" font-size="9.74" text-anchor="start" stroke-width="0.13">VMR</text><text transform="translate(516.5 157.42) scale(1 1.03)" font-size="9.74" text-anchor="start" stroke-width="0.13">VDP Associates</text><text transform="translate(516.5 169.13) scale(1 1.03)" font-size="9.74" text-anchor="start" stroke-width="0.13">Karvy</text><text transform="translate(516.5 180.84) scale(1 1.03)" font-size="9.74" text-anchor="start" stroke-width="0.13">India Today</text></g></svg></body></html>
